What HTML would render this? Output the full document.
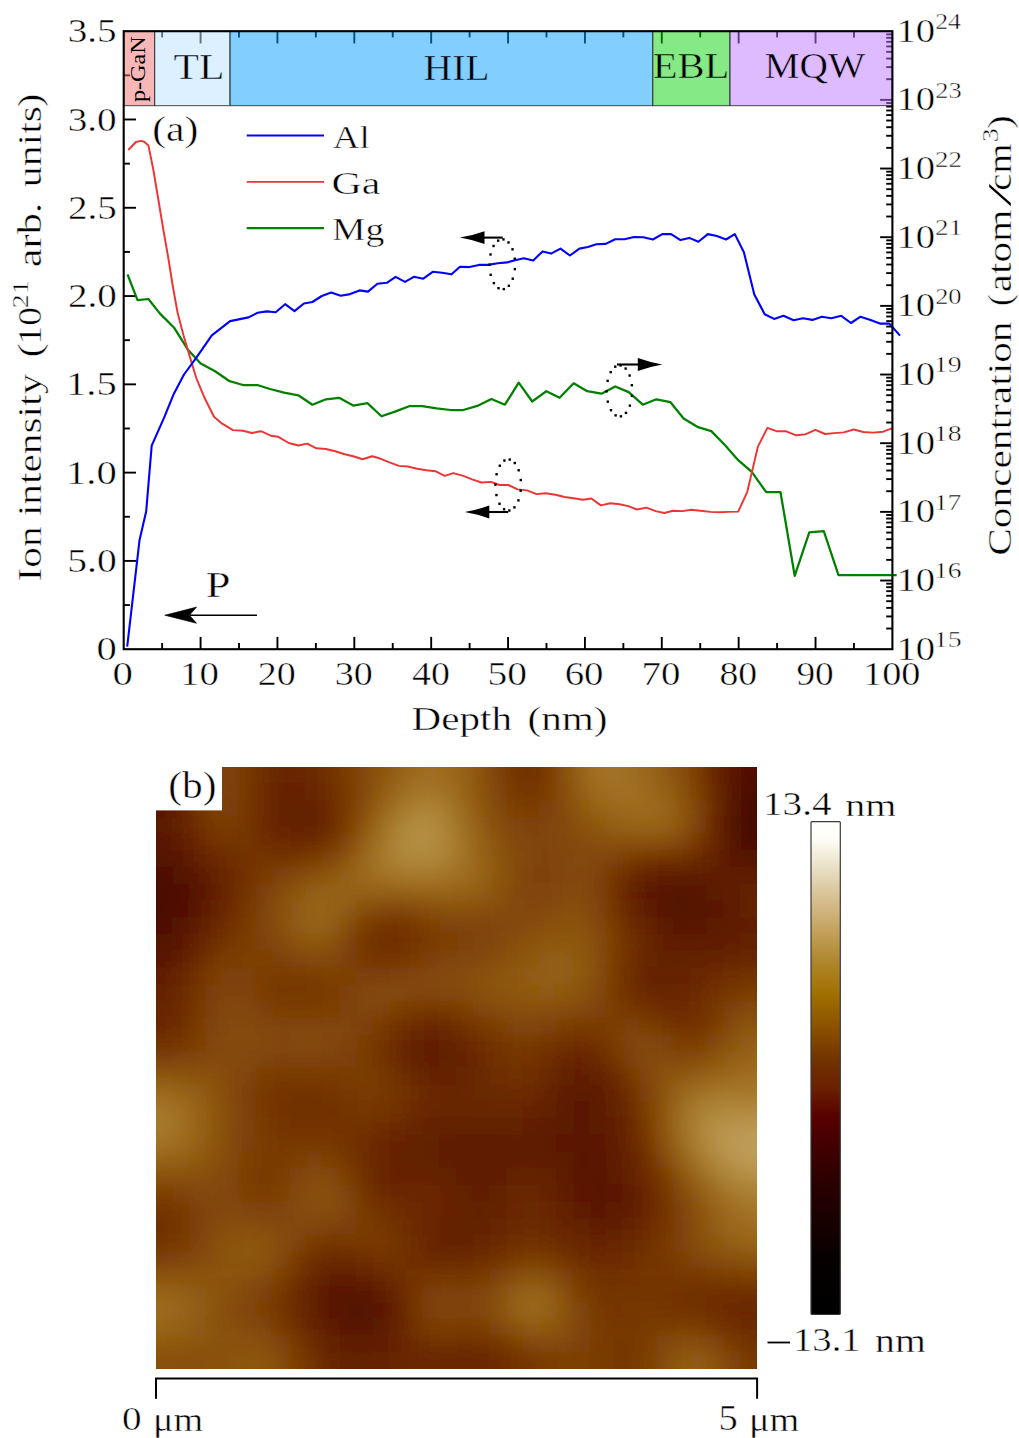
<!DOCTYPE html><html><head><meta charset="utf-8"><style>html,body{margin:0;padding:0;background:#fff;overflow:hidden;}svg{display:block;} text{font-family:"Liberation Serif",serif;font-kerning:none;}</style></head><body>
<svg width="1019" height="1438" viewBox="0 0 1019 1438">
<rect width="1019" height="1438" fill="#fff"/>
<g stroke="#000" stroke-width="1.9" fill="none">
<line x1="162.13" y1="649.20" x2="162.13" y2="643.00"/>
<line x1="162.13" y1="31.20" x2="162.13" y2="37.40"/>
<line x1="200.57" y1="649.20" x2="200.57" y2="636.90"/>
<line x1="200.57" y1="31.20" x2="200.57" y2="43.50"/>
<line x1="239.00" y1="649.20" x2="239.00" y2="643.00"/>
<line x1="239.00" y1="31.20" x2="239.00" y2="37.40"/>
<line x1="277.44" y1="649.20" x2="277.44" y2="636.90"/>
<line x1="277.44" y1="31.20" x2="277.44" y2="43.50"/>
<line x1="315.88" y1="649.20" x2="315.88" y2="643.00"/>
<line x1="315.88" y1="31.20" x2="315.88" y2="37.40"/>
<line x1="354.31" y1="649.20" x2="354.31" y2="636.90"/>
<line x1="354.31" y1="31.20" x2="354.31" y2="43.50"/>
<line x1="392.74" y1="649.20" x2="392.74" y2="643.00"/>
<line x1="392.74" y1="31.20" x2="392.74" y2="37.40"/>
<line x1="431.18" y1="649.20" x2="431.18" y2="636.90"/>
<line x1="431.18" y1="31.20" x2="431.18" y2="43.50"/>
<line x1="469.62" y1="649.20" x2="469.62" y2="643.00"/>
<line x1="469.62" y1="31.20" x2="469.62" y2="37.40"/>
<line x1="508.05" y1="649.20" x2="508.05" y2="636.90"/>
<line x1="508.05" y1="31.20" x2="508.05" y2="43.50"/>
<line x1="546.48" y1="649.20" x2="546.48" y2="643.00"/>
<line x1="546.48" y1="31.20" x2="546.48" y2="37.40"/>
<line x1="584.92" y1="649.20" x2="584.92" y2="636.90"/>
<line x1="584.92" y1="31.20" x2="584.92" y2="43.50"/>
<line x1="623.35" y1="649.20" x2="623.35" y2="643.00"/>
<line x1="623.35" y1="31.20" x2="623.35" y2="37.40"/>
<line x1="661.79" y1="649.20" x2="661.79" y2="636.90"/>
<line x1="661.79" y1="31.20" x2="661.79" y2="43.50"/>
<line x1="700.23" y1="649.20" x2="700.23" y2="643.00"/>
<line x1="700.23" y1="31.20" x2="700.23" y2="37.40"/>
<line x1="738.66" y1="649.20" x2="738.66" y2="636.90"/>
<line x1="738.66" y1="31.20" x2="738.66" y2="43.50"/>
<line x1="777.10" y1="649.20" x2="777.10" y2="643.00"/>
<line x1="777.10" y1="31.20" x2="777.10" y2="37.40"/>
<line x1="815.53" y1="649.20" x2="815.53" y2="636.90"/>
<line x1="815.53" y1="31.20" x2="815.53" y2="43.50"/>
<line x1="853.97" y1="649.20" x2="853.97" y2="643.00"/>
<line x1="853.97" y1="31.20" x2="853.97" y2="37.40"/>
<line x1="123.70" y1="605.06" x2="129.90" y2="605.06"/>
<line x1="123.70" y1="560.91" x2="136.00" y2="560.91"/>
<line x1="123.70" y1="516.77" x2="129.90" y2="516.77"/>
<line x1="123.70" y1="472.63" x2="136.00" y2="472.63"/>
<line x1="123.70" y1="428.49" x2="129.90" y2="428.49"/>
<line x1="123.70" y1="384.34" x2="136.00" y2="384.34"/>
<line x1="123.70" y1="340.20" x2="129.90" y2="340.20"/>
<line x1="123.70" y1="296.06" x2="136.00" y2="296.06"/>
<line x1="123.70" y1="251.91" x2="129.90" y2="251.91"/>
<line x1="123.70" y1="207.77" x2="136.00" y2="207.77"/>
<line x1="123.70" y1="163.63" x2="129.90" y2="163.63"/>
<line x1="123.70" y1="119.49" x2="136.00" y2="119.49"/>
<line x1="123.70" y1="75.34" x2="129.90" y2="75.34"/>
<line x1="892.40" y1="628.53" x2="886.20" y2="628.53"/>
<line x1="892.40" y1="616.44" x2="886.20" y2="616.44"/>
<line x1="892.40" y1="607.86" x2="886.20" y2="607.86"/>
<line x1="892.40" y1="601.20" x2="886.20" y2="601.20"/>
<line x1="892.40" y1="595.77" x2="886.20" y2="595.77"/>
<line x1="892.40" y1="591.17" x2="886.20" y2="591.17"/>
<line x1="892.40" y1="587.19" x2="886.20" y2="587.19"/>
<line x1="892.40" y1="583.68" x2="886.20" y2="583.68"/>
<line x1="892.40" y1="580.53" x2="880.10" y2="580.53"/>
<line x1="892.40" y1="559.86" x2="886.20" y2="559.86"/>
<line x1="892.40" y1="547.77" x2="886.20" y2="547.77"/>
<line x1="892.40" y1="539.19" x2="886.20" y2="539.19"/>
<line x1="892.40" y1="532.54" x2="886.20" y2="532.54"/>
<line x1="892.40" y1="527.10" x2="886.20" y2="527.10"/>
<line x1="892.40" y1="522.50" x2="886.20" y2="522.50"/>
<line x1="892.40" y1="518.52" x2="886.20" y2="518.52"/>
<line x1="892.40" y1="515.01" x2="886.20" y2="515.01"/>
<line x1="892.40" y1="511.87" x2="880.10" y2="511.87"/>
<line x1="892.40" y1="491.20" x2="886.20" y2="491.20"/>
<line x1="892.40" y1="479.10" x2="886.20" y2="479.10"/>
<line x1="892.40" y1="470.53" x2="886.20" y2="470.53"/>
<line x1="892.40" y1="463.87" x2="886.20" y2="463.87"/>
<line x1="892.40" y1="458.43" x2="886.20" y2="458.43"/>
<line x1="892.40" y1="453.84" x2="886.20" y2="453.84"/>
<line x1="892.40" y1="449.85" x2="886.20" y2="449.85"/>
<line x1="892.40" y1="446.34" x2="886.20" y2="446.34"/>
<line x1="892.40" y1="443.20" x2="880.10" y2="443.20"/>
<line x1="892.40" y1="422.53" x2="886.20" y2="422.53"/>
<line x1="892.40" y1="410.44" x2="886.20" y2="410.44"/>
<line x1="892.40" y1="401.86" x2="886.20" y2="401.86"/>
<line x1="892.40" y1="395.20" x2="886.20" y2="395.20"/>
<line x1="892.40" y1="389.77" x2="886.20" y2="389.77"/>
<line x1="892.40" y1="385.17" x2="886.20" y2="385.17"/>
<line x1="892.40" y1="381.19" x2="886.20" y2="381.19"/>
<line x1="892.40" y1="377.68" x2="886.20" y2="377.68"/>
<line x1="892.40" y1="374.53" x2="880.10" y2="374.53"/>
<line x1="892.40" y1="353.86" x2="886.20" y2="353.86"/>
<line x1="892.40" y1="341.77" x2="886.20" y2="341.77"/>
<line x1="892.40" y1="333.19" x2="886.20" y2="333.19"/>
<line x1="892.40" y1="326.54" x2="886.20" y2="326.54"/>
<line x1="892.40" y1="321.10" x2="886.20" y2="321.10"/>
<line x1="892.40" y1="316.50" x2="886.20" y2="316.50"/>
<line x1="892.40" y1="312.52" x2="886.20" y2="312.52"/>
<line x1="892.40" y1="309.01" x2="886.20" y2="309.01"/>
<line x1="892.40" y1="305.87" x2="880.10" y2="305.87"/>
<line x1="892.40" y1="285.20" x2="886.20" y2="285.20"/>
<line x1="892.40" y1="273.10" x2="886.20" y2="273.10"/>
<line x1="892.40" y1="264.53" x2="886.20" y2="264.53"/>
<line x1="892.40" y1="257.87" x2="886.20" y2="257.87"/>
<line x1="892.40" y1="252.43" x2="886.20" y2="252.43"/>
<line x1="892.40" y1="247.84" x2="886.20" y2="247.84"/>
<line x1="892.40" y1="243.85" x2="886.20" y2="243.85"/>
<line x1="892.40" y1="240.34" x2="886.20" y2="240.34"/>
<line x1="892.40" y1="237.20" x2="880.10" y2="237.20"/>
<line x1="892.40" y1="216.53" x2="886.20" y2="216.53"/>
<line x1="892.40" y1="204.44" x2="886.20" y2="204.44"/>
<line x1="892.40" y1="195.86" x2="886.20" y2="195.86"/>
<line x1="892.40" y1="189.20" x2="886.20" y2="189.20"/>
<line x1="892.40" y1="183.77" x2="886.20" y2="183.77"/>
<line x1="892.40" y1="179.17" x2="886.20" y2="179.17"/>
<line x1="892.40" y1="175.19" x2="886.20" y2="175.19"/>
<line x1="892.40" y1="171.68" x2="886.20" y2="171.68"/>
<line x1="892.40" y1="168.53" x2="880.10" y2="168.53"/>
<line x1="892.40" y1="147.86" x2="886.20" y2="147.86"/>
<line x1="892.40" y1="135.77" x2="886.20" y2="135.77"/>
<line x1="892.40" y1="127.19" x2="886.20" y2="127.19"/>
<line x1="892.40" y1="120.54" x2="886.20" y2="120.54"/>
<line x1="892.40" y1="115.10" x2="886.20" y2="115.10"/>
<line x1="892.40" y1="110.50" x2="886.20" y2="110.50"/>
<line x1="892.40" y1="106.52" x2="886.20" y2="106.52"/>
<line x1="892.40" y1="103.01" x2="886.20" y2="103.01"/>
<line x1="892.40" y1="99.87" x2="880.10" y2="99.87"/>
<line x1="892.40" y1="79.20" x2="886.20" y2="79.20"/>
<line x1="892.40" y1="67.10" x2="886.20" y2="67.10"/>
<line x1="892.40" y1="58.53" x2="886.20" y2="58.53"/>
<line x1="892.40" y1="51.87" x2="886.20" y2="51.87"/>
<line x1="892.40" y1="46.43" x2="886.20" y2="46.43"/>
<line x1="892.40" y1="41.84" x2="886.20" y2="41.84"/>
<line x1="892.40" y1="37.85" x2="886.20" y2="37.85"/>
<line x1="892.40" y1="34.34" x2="886.20" y2="34.34"/>
</g>
<rect x="123.70" y="31.20" width="30.90" height="74.40" fill="rgb(241,111,111)" fill-opacity="0.5" stroke="#333" stroke-opacity="0.75" stroke-width="1.2"/>
<rect x="154.60" y="31.20" width="75.40" height="74.40" fill="rgb(185,225,255)" fill-opacity="0.5" stroke="#333" stroke-opacity="0.75" stroke-width="1.2"/>
<rect x="230.00" y="31.20" width="422.70" height="74.40" fill="rgb(5,159,255)" fill-opacity="0.5" stroke="#333" stroke-opacity="0.75" stroke-width="1.2"/>
<rect x="652.70" y="31.20" width="77.20" height="74.40" fill="rgb(11,213,11)" fill-opacity="0.5" stroke="#333" stroke-opacity="0.75" stroke-width="1.2"/>
<rect x="729.90" y="31.20" width="162.50" height="74.40" fill="rgb(189,117,255)" fill-opacity="0.5" stroke="#333" stroke-opacity="0.75" stroke-width="1.2"/>
<polyline fill="none" stroke="#008000" stroke-width="2.25" stroke-linejoin="round" points="127.5,274.3 137.5,300.2 148.4,299.0 160.0,313.6 174.2,327.8 188.4,350.3 200.7,363.4 215.1,371.2 229.6,381.2 243.0,385.0 257.4,385.0 270.0,389.0 284.1,392.7 298.3,395.3 312.4,404.7 325.9,399.3 339.1,397.8 353.2,405.6 367.4,403.1 381.5,416.3 395.0,411.6 409.1,406.2 422.3,406.2 436.5,408.4 450.6,410.0 463.2,410.0 477.3,405.9 491.4,399.0 504.9,404.7 518.7,382.7 532.2,401.5 546.4,391.2 559.6,397.8 573.7,383.3 587.2,391.2 601.4,393.7 615.2,386.5 628.7,392.1 642.8,404.7 656.3,399.3 670.5,402.2 683.6,418.5 698.1,427.2 711.3,431.1 725.1,445.3 738.2,460.2 751.8,471.9 766.2,492.2 780.5,492.2 794.7,575.8 809.3,532.4 823.8,531.1 838.5,575.1 896.7,575.1"/>
<polyline fill="none" stroke="#ee3535" stroke-width="1.95" stroke-linejoin="round" points="128.3,150.0 135.9,142.0 140.9,140.9 144.2,141.7 148.4,145.4 153.4,170.0 158.4,200.0 163.4,230.0 168.4,258.5 172.6,285.0 177.6,312.8 183.4,335.0 189.5,355.6 196.2,377.8 204.0,396.7 214.0,416.8 221.8,423.4 232.9,430.1 243.0,430.8 251.8,433.0 260.8,431.2 270.8,435.7 277.9,436.7 288.8,443.0 298.3,445.5 307.1,443.6 316.5,448.3 325.9,449.0 335.3,451.2 344.7,454.3 353.2,456.2 362.6,459.3 372.1,456.2 379.4,458.3 389.5,462.4 398.9,465.9 407.7,466.5 417.1,468.7 426.5,470.3 435.3,471.2 444.7,475.9 453.2,473.1 462.6,475.6 472.1,479.4 481.5,482.5 490.9,481.9 499.4,485.0 508.2,485.0 517.6,489.4 527.0,490.4 536.5,494.1 545.9,493.2 555.3,494.7 564.7,497.0 573.5,498.2 582.9,499.8 591.4,498.5 600.8,505.4 610.3,503.2 619.7,504.2 628.2,506.1 637.0,509.5 646.4,507.6 655.8,511.1 664.3,513.0 673.1,510.8 682.5,511.1 691.3,509.8 700.3,510.7 710.5,511.9 719.5,512.3 728.5,511.9 738.2,511.6 747.3,491.8 757.9,446.6 767.4,427.9 777.1,431.3 786.1,431.3 796.3,435.3 805.3,434.4 815.4,429.9 825.1,434.0 834.2,433.1 843.7,432.4 853.8,429.5 863.3,432.0 873.0,432.6 883.2,431.7 893.3,427.9"/>
<polyline fill="none" stroke="#0000ff" stroke-width="2.10" stroke-linejoin="round" points="127.2,646.6 139.5,540.3 146.2,511.3 151.7,445.7 164.0,417.9 174.0,393.4 184.0,374.5 196.2,357.8 211.8,335.3 230.1,321.1 248.5,317.4 257.6,312.8 266.8,311.4 275.7,312.3 285.1,304.2 294.5,311.1 303.9,303.5 312.4,302.0 321.8,296.0 331.2,292.5 340.7,295.7 350.1,294.1 359.5,290.4 368.0,291.6 377.4,283.8 386.8,282.8 395.6,276.8 405.0,281.9 413.8,276.8 423.3,278.7 432.7,271.8 442.1,272.8 451.5,274.3 460.0,266.8 469.4,267.1 478.9,264.9 488.3,264.9 497.7,263.3 507.1,262.4 515.0,260.2 523.8,258.3 533.2,260.5 542.6,251.4 551.1,253.6 560.5,248.6 569.9,255.5 579.4,248.6 587.9,247.0 596.3,244.2 605.8,243.9 615.2,239.2 624.6,239.2 634.0,237.0 643.4,237.3 652.9,239.5 662.3,234.1 671.1,234.1 680.5,240.1 689.3,237.9 698.4,241.7 707.8,234.1 716.9,236.0 726.0,239.5 734.8,234.1 743.9,252.3 754.3,294.4 764.7,314.2 774.1,318.9 783.5,315.8 793.6,320.2 803.0,318.3 812.4,319.9 821.8,316.7 831.3,318.3 841.3,315.8 851.0,323.0 860.5,316.7 870.5,319.9 879.9,323.6 889.4,323.6 900.0,335.6"/>
<line x1="246.7" y1="135.6" x2="324.0" y2="135.6" stroke="#0000ff" stroke-width="2.0"/>
<line x1="246.7" y1="181.9" x2="324.0" y2="181.9" stroke="#ee3535" stroke-width="1.9"/>
<line x1="246.7" y1="228.2" x2="324.0" y2="228.2" stroke="#008000" stroke-width="2.3"/>
<rect x="123.70" y="31.20" width="768.70" height="618.00" fill="none" stroke="#000" stroke-width="2.1"/>
<rect x="496.96" y="239.44" width="2.4" height="2.4" fill="#000"/><rect x="502.25" y="238.20" width="2.4" height="2.4" fill="#000"/><rect x="507.33" y="241.26" width="2.4" height="2.4" fill="#000"/><rect x="511.34" y="248.10" width="2.4" height="2.4" fill="#000"/><rect x="513.58" y="257.53" width="2.4" height="2.4" fill="#000"/><rect x="513.66" y="267.93" width="2.4" height="2.4" fill="#000"/><rect x="511.57" y="277.49" width="2.4" height="2.4" fill="#000"/><rect x="507.67" y="284.56" width="2.4" height="2.4" fill="#000"/><rect x="502.63" y="287.92" width="2.4" height="2.4" fill="#000"/><rect x="497.33" y="286.99" width="2.4" height="2.4" fill="#000"/><rect x="492.68" y="281.93" width="2.4" height="2.4" fill="#000"/><rect x="489.49" y="273.61" width="2.4" height="2.4" fill="#000"/><rect x="488.30" y="263.48" width="2.4" height="2.4" fill="#000"/><rect x="489.33" y="253.28" width="2.4" height="2.4" fill="#000"/><rect x="492.39" y="244.78" width="2.4" height="2.4" fill="#000"/>
<rect x="614.06" y="365.47" width="2.4" height="2.4" fill="#000"/><rect x="619.35" y="364.20" width="2.4" height="2.4" fill="#000"/><rect x="624.43" y="367.34" width="2.4" height="2.4" fill="#000"/><rect x="628.44" y="374.34" width="2.4" height="2.4" fill="#000"/><rect x="630.68" y="384.00" width="2.4" height="2.4" fill="#000"/><rect x="630.76" y="394.65" width="2.4" height="2.4" fill="#000"/><rect x="628.67" y="404.43" width="2.4" height="2.4" fill="#000"/><rect x="624.77" y="411.68" width="2.4" height="2.4" fill="#000"/><rect x="619.73" y="415.12" width="2.4" height="2.4" fill="#000"/><rect x="614.43" y="414.16" width="2.4" height="2.4" fill="#000"/><rect x="609.78" y="408.98" width="2.4" height="2.4" fill="#000"/><rect x="606.59" y="400.46" width="2.4" height="2.4" fill="#000"/><rect x="605.40" y="390.09" width="2.4" height="2.4" fill="#000"/><rect x="606.43" y="379.64" width="2.4" height="2.4" fill="#000"/><rect x="609.49" y="370.94" width="2.4" height="2.4" fill="#000"/>
<rect x="502.86" y="508.03" width="2.4" height="2.4" fill="#000"/><rect x="498.29" y="502.56" width="2.4" height="2.4" fill="#000"/><rect x="495.23" y="493.86" width="2.4" height="2.4" fill="#000"/><rect x="494.20" y="483.41" width="2.4" height="2.4" fill="#000"/><rect x="495.39" y="473.04" width="2.4" height="2.4" fill="#000"/><rect x="498.58" y="464.52" width="2.4" height="2.4" fill="#000"/><rect x="503.23" y="459.34" width="2.4" height="2.4" fill="#000"/><rect x="508.53" y="458.38" width="2.4" height="2.4" fill="#000"/><rect x="513.57" y="461.82" width="2.4" height="2.4" fill="#000"/><rect x="517.47" y="469.07" width="2.4" height="2.4" fill="#000"/><rect x="519.56" y="478.85" width="2.4" height="2.4" fill="#000"/><rect x="519.48" y="489.50" width="2.4" height="2.4" fill="#000"/><rect x="517.24" y="499.16" width="2.4" height="2.4" fill="#000"/><rect x="513.23" y="506.16" width="2.4" height="2.4" fill="#000"/><rect x="508.15" y="509.30" width="2.4" height="2.4" fill="#000"/>
<line x1="502.7" y1="237.6" x2="482.1" y2="237.6" stroke="#000" stroke-width="2.1"/><path d="M460.0,237.6 Q473.5,235.2 484.5,231.2 L484.5,244.0 Q473.5,240.0 460.0,237.6Z" fill="#000"/>
<line x1="617.0" y1="364.5" x2="640.2" y2="364.5" stroke="#000" stroke-width="2.1"/><path d="M662.3,364.5 Q648.8,362.1 637.8,358.1 L637.8,370.9 Q648.8,366.9 662.3,364.5Z" fill="#000"/>
<line x1="508.2" y1="512.0" x2="486.9" y2="512.0" stroke="#000" stroke-width="2.1"/><path d="M464.8,512.0 Q478.3,509.6 489.3,505.6 L489.3,518.4 Q478.3,514.4 464.8,512.0Z" fill="#000"/>
<line x1="257" y1="615.2" x2="190" y2="615.2" stroke="#000" stroke-width="1.6"/>
<path d="M164.7,615.2 L196.6,607.1 L189.5,615.2 L196.6,623.3Z" fill="#000" stroke="#000" stroke-width="0.6" stroke-linejoin="round"/>
<text transform="matrix(0.39206 0 0 0.33862 67.724 42.321)" font-size="100" fill="#000" stroke="#fff" stroke-width="1.372">3.5</text><text transform="matrix(0.39173 0 0 0.33716 67.726 130.61)" font-size="100" fill="#000" stroke="#fff" stroke-width="1.376">3.0</text><text transform="matrix(0.39075 0 0 0.33862 67.883 218.89)" font-size="100" fill="#000" stroke="#fff" stroke-width="1.375">2.5</text><text transform="matrix(0.39042 0 0 0.33716 67.884 307.18)" font-size="100" fill="#000" stroke="#fff" stroke-width="1.378">2.0</text><text transform="matrix(0.40604 0 0 0.3396 66.031 395.46)" font-size="100" fill="#000" stroke="#fff" stroke-width="1.346">1.5</text><text transform="matrix(0.40569 0 0 0.33716 66.034 483.75)" font-size="100" fill="#000" stroke="#fff" stroke-width="1.352">1.0</text><text transform="matrix(0.39521 0 0 0.33716 67.304 572.04)" font-size="100" fill="#000" stroke="#fff" stroke-width="1.370">5.0</text><text transform="matrix(0.40582 0 0 0.33936 96.454 660.47)" font-size="100" fill="#000" stroke="#fff" stroke-width="1.347">0</text><text transform="matrix(0.40818 0 0 0.34084 112.55 684.57)" font-size="100" fill="#000" stroke="#fff" stroke-width="1.341">0</text><text transform="matrix(0.38901 0 0 0.34084 179.98 684.57)" font-size="100" fill="#000" stroke="#fff" stroke-width="1.373">10</text><text transform="matrix(0.38019 0 0 0.34084 257.73 684.57)" font-size="100" fill="#000" stroke="#fff" stroke-width="1.389">20</text><text transform="matrix(0.38072 0 0 0.34084 334.79 684.57)" font-size="100" fill="#000" stroke="#fff" stroke-width="1.388">30</text><text transform="matrix(0.37883 0 0 0.34084 411.96 684.57)" font-size="100" fill="#000" stroke="#fff" stroke-width="1.391">40</text><text transform="matrix(0.395 0 0 0.34084 487.4 684.57)" font-size="100" fill="#000" stroke="#fff" stroke-width="1.363">50</text><text transform="matrix(0.38849 0 0 0.34084 564.63 684.57)" font-size="100" fill="#000" stroke="#fff" stroke-width="1.374">60</text><text transform="matrix(0.38839 0 0 0.34084 641.53 684.57)" font-size="100" fill="#000" stroke="#fff" stroke-width="1.374">70</text><text transform="matrix(0.37669 0 0 0.34084 719.53 684.57)" font-size="100" fill="#000" stroke="#fff" stroke-width="1.395">80</text><text transform="matrix(0.37324 0 0 0.34084 796.4 684.57)" font-size="100" fill="#000" stroke="#fff" stroke-width="1.402">90</text><text transform="matrix(0.38282 0 0 0.34084 863.04 684.57)" font-size="100" fill="#000" stroke="#fff" stroke-width="1.384">100</text><text transform="matrix(0.38672 0 0 0.34084 896.4 659.67)" font-size="100" fill="#000" stroke="#fff" stroke-width="1.377">10</text><text transform="matrix(0.27834 0 0 0.23286 933.85 646.97)" font-size="100" fill="#000" stroke="#fff" stroke-width="1.964">15</text><text transform="matrix(0.38672 0 0 0.34084 896.4 591)" font-size="100" fill="#000" stroke="#fff" stroke-width="1.377">10</text><text transform="matrix(0.27541 0 0 0.23219 933.88 578.31)" font-size="100" fill="#000" stroke="#fff" stroke-width="1.977">16</text><text transform="matrix(0.38672 0 0 0.34084 896.4 522.33)" font-size="100" fill="#000" stroke="#fff" stroke-width="1.377">10</text><text transform="matrix(0.2751 0 0 0.23631 933.88 509.87)" font-size="100" fill="#000" stroke="#fff" stroke-width="1.961">17</text><text transform="matrix(0.38672 0 0 0.34084 896.4 453.67)" font-size="100" fill="#000" stroke="#fff" stroke-width="1.377">10</text><text transform="matrix(0.27802 0 0 0.23118 933.86 440.97)" font-size="100" fill="#000" stroke="#fff" stroke-width="1.972">18</text><text transform="matrix(0.38672 0 0 0.34084 896.4 385)" font-size="100" fill="#000" stroke="#fff" stroke-width="1.377">10</text><text transform="matrix(0.27896 0 0 0.23219 933.85 372.31)" font-size="100" fill="#000" stroke="#fff" stroke-width="1.965">19</text><text transform="matrix(0.38672 0 0 0.34084 896.4 316.33)" font-size="100" fill="#000" stroke="#fff" stroke-width="1.377">10</text><text transform="matrix(0.26471 0 0 0.23118 935.14 303.64)" font-size="100" fill="#000" stroke="#fff" stroke-width="2.021">20</text><text transform="matrix(0.38672 0 0 0.34084 896.4 247.67)" font-size="100" fill="#000" stroke="#fff" stroke-width="1.377">10</text><text transform="matrix(0.27121 0 0 0.23561 935.11 235.2)" font-size="100" fill="#000" stroke="#fff" stroke-width="1.978">21</text><text transform="matrix(0.38672 0 0 0.34084 896.4 179)" font-size="100" fill="#000" stroke="#fff" stroke-width="1.377">10</text><text transform="matrix(0.26974 0 0 0.23561 935.11 166.53)" font-size="100" fill="#000" stroke="#fff" stroke-width="1.983">22</text><text transform="matrix(0.38672 0 0 0.34084 896.4 110.33)" font-size="100" fill="#000" stroke="#fff" stroke-width="1.377">10</text><text transform="matrix(0.265 0 0 0.23219 935.14 97.64)" font-size="100" fill="#000" stroke="#fff" stroke-width="2.016">23</text><text transform="matrix(0.38672 0 0 0.34084 896.4 41.667)" font-size="100" fill="#000" stroke="#fff" stroke-width="1.377">10</text><text transform="matrix(0.25839 0 0 0.23561 935.16 29.2)" font-size="100" fill="#000" stroke="#fff" stroke-width="2.026">24</text><text transform="matrix(0.41093 0 0 0.34 411.52 729.6)" font-size="100" fill="#000" stroke="#fff" stroke-width="1.338">Depth</text><text transform="matrix(0.41219 0 0 0.34 527.49 729.6)" font-size="100" fill="#000" stroke="#fff" stroke-width="1.336">(nm)</text><text transform="matrix(0 -0.41305 0.345 0 40.6 581.49)" font-size="100" fill="#000" stroke="#fff" stroke-width="1.325">Ion intensity</text><text transform="matrix(0 -0.4244 0.345 0 40.6 357.57)" font-size="100" fill="#000" stroke="#fff" stroke-width="1.307">(</text><text transform="matrix(0 -0.37528 0.345 0 40.6 344.4)" font-size="100" fill="#000" stroke="#fff" stroke-width="1.390">10</text><text transform="matrix(0 -0.42293 0.345 0 40.6 267.19)" font-size="100" fill="#000" stroke="#fff" stroke-width="1.309">arb.</text><text transform="matrix(0 -0.4173 0.345 0 40.6 187.15)" font-size="100" fill="#000" stroke="#fff" stroke-width="1.318">units</text><text transform="matrix(0 -0.40103 0.345 0 40.6 106.89)" font-size="100" fill="#000" stroke="#fff" stroke-width="1.344">)</text><text transform="matrix(0 -0.2779 0.23863 0 28.2 308.22)" font-size="100" fill="#000" stroke="#fff" stroke-width="1.942">21</text><text transform="matrix(0 -0.41381 0.345 0 1011 555.8)" font-size="100" fill="#000" stroke="#fff" stroke-width="1.323">Concentration</text><text transform="matrix(0 -0.35431 0.345 0 1011 305.96)" font-size="100" fill="#000" stroke="#fff" stroke-width="1.430">(</text><text transform="matrix(0 -0.41309 0.345 0 1011 292.25)" font-size="100" fill="#000" stroke="#fff" stroke-width="1.324">atom</text><text transform="matrix(0 -0.84224 0.345 0 1011 206.7)" font-size="100" fill="#000" stroke="#fff" stroke-width="0.928">/</text><text transform="matrix(0 -0.387 0.345 0 1011 190.67)" font-size="100" fill="#000" stroke="#fff" stroke-width="1.368">cm</text><text transform="matrix(0 -0.40882 0.345 0 1011 128.82)" font-size="100" fill="#000" stroke="#fff" stroke-width="1.331">)</text><text transform="matrix(0 -0.28081 0.23814 0 998.17 142.34)" font-size="100" fill="#000" stroke="#fff" stroke-width="1.934">3</text><text transform="matrix(0 -0.2416 0.21829 0 144.65 102.09)" font-size="100" fill="#000">p-GaN</text><text transform="matrix(0.41625 0 0 0.34821 173.55 78.9)" font-size="100" fill="#000" stroke="rgb(220,240,255)" stroke-width="1.313">TL</text><text transform="matrix(0.39628 0 0 0.36042 423.56 80.1)" font-size="100" fill="#000" stroke="rgb(130,207,255)" stroke-width="1.323">HIL</text><text transform="matrix(0.4056 0 0 0.3497 652.73 78.198)" font-size="100" fill="#000" stroke="rgb(133,234,133)" stroke-width="1.328">EBL</text><text transform="matrix(0.39415 0 0 0.36398 764.46 77.5)" font-size="100" fill="#000" stroke="rgb(222,186,255)" stroke-width="1.320">MQW</text><text transform="matrix(0.41684 0 0 0.36063 152.17 140.62)" font-size="100" fill="#000" stroke="#fff" stroke-width="1.290">(a)</text><text transform="matrix(0.37002 0 0 0.31707 332.84 147.8)" font-size="100" fill="#000" stroke="#fff" stroke-width="1.460">Al</text><text transform="matrix(0.42022 0 0 0.32298 331.48 193.88)" font-size="100" fill="#000" stroke="#fff" stroke-width="1.357">Ga</text><text transform="matrix(0.3765 0 0 0.32276 332.12 239.53)" font-size="100" fill="#000" stroke="#fff" stroke-width="1.434">Mg</text><text transform="matrix(0.44531 0 0 0.35279 205.72 597.1)" font-size="100" fill="#000" stroke="#fff" stroke-width="1.261">P</text>
<defs><clipPath id="afmclip"><rect x="156.0" y="767.0" width="601.0" height="602.0"/></clipPath><filter id="afmblur" x="-10%" y="-10%" width="120%" height="120%"><feGaussianBlur stdDeviation="9.0"/></filter></defs>
<g clip-path="url(#afmclip)"><g filter="url(#afmblur)">
<rect x="105.6" y="716.5" width="17.3" height="17.3" fill="rgb(88,23,0)"/>
<rect x="122.3" y="716.5" width="17.3" height="17.3" fill="rgb(86,21,0)"/>
<rect x="139.0" y="716.5" width="17.3" height="17.3" fill="rgb(84,20,0)"/>
<rect x="155.7" y="716.5" width="17.3" height="17.3" fill="rgb(86,22,0)"/>
<rect x="172.4" y="716.5" width="17.3" height="17.3" fill="rgb(98,32,1)"/>
<rect x="189.1" y="716.5" width="17.3" height="17.3" fill="rgb(114,49,3)"/>
<rect x="205.8" y="716.5" width="17.3" height="17.3" fill="rgb(126,64,7)"/>
<rect x="222.5" y="716.5" width="17.3" height="17.3" fill="rgb(127,66,7)"/>
<rect x="239.2" y="716.5" width="17.3" height="17.3" fill="rgb(120,57,5)"/>
<rect x="255.9" y="716.5" width="17.3" height="17.3" fill="rgb(110,45,2)"/>
<rect x="272.6" y="716.5" width="17.3" height="17.3" fill="rgb(104,38,1)"/>
<rect x="289.3" y="716.5" width="17.3" height="17.3" fill="rgb(104,38,1)"/>
<rect x="305.9" y="716.5" width="17.3" height="17.3" fill="rgb(108,43,2)"/>
<rect x="322.6" y="716.5" width="17.3" height="17.3" fill="rgb(115,51,3)"/>
<rect x="339.3" y="716.5" width="17.3" height="17.3" fill="rgb(123,60,5)"/>
<rect x="356.0" y="716.5" width="17.3" height="17.3" fill="rgb(131,72,9)"/>
<rect x="372.7" y="716.5" width="17.3" height="17.3" fill="rgb(140,84,14)"/>
<rect x="389.4" y="716.5" width="17.3" height="17.3" fill="rgb(149,97,22)"/>
<rect x="406.1" y="716.5" width="17.3" height="17.3" fill="rgb(156,107,30)"/>
<rect x="422.8" y="716.5" width="17.3" height="17.3" fill="rgb(159,111,34)"/>
<rect x="439.5" y="716.5" width="17.3" height="17.3" fill="rgb(157,108,30)"/>
<rect x="456.2" y="716.5" width="17.3" height="17.3" fill="rgb(149,97,22)"/>
<rect x="472.9" y="716.5" width="17.3" height="17.3" fill="rgb(139,83,14)"/>
<rect x="489.6" y="716.5" width="17.3" height="17.3" fill="rgb(127,66,7)"/>
<rect x="506.3" y="716.5" width="17.3" height="17.3" fill="rgb(117,54,4)"/>
<rect x="523.0" y="716.5" width="17.3" height="17.3" fill="rgb(114,50,3)"/>
<rect x="539.7" y="716.5" width="17.3" height="17.3" fill="rgb(122,59,5)"/>
<rect x="556.4" y="716.5" width="17.3" height="17.3" fill="rgb(136,79,12)"/>
<rect x="573.1" y="716.5" width="17.3" height="17.3" fill="rgb(151,100,24)"/>
<rect x="589.8" y="716.5" width="17.3" height="17.3" fill="rgb(160,113,35)"/>
<rect x="606.5" y="716.5" width="17.3" height="17.3" fill="rgb(162,115,37)"/>
<rect x="623.1" y="716.5" width="17.3" height="17.3" fill="rgb(158,110,33)"/>
<rect x="639.8" y="716.5" width="17.3" height="17.3" fill="rgb(153,102,26)"/>
<rect x="656.5" y="716.5" width="17.3" height="17.3" fill="rgb(146,92,19)"/>
<rect x="673.2" y="716.5" width="17.3" height="17.3" fill="rgb(136,79,12)"/>
<rect x="689.9" y="716.5" width="17.3" height="17.3" fill="rgb(123,61,5)"/>
<rect x="706.6" y="716.5" width="17.3" height="17.3" fill="rgb(106,40,2)"/>
<rect x="723.3" y="716.5" width="17.3" height="17.3" fill="rgb(90,25,0)"/>
<rect x="740.0" y="716.5" width="17.3" height="17.3" fill="rgb(80,17,0)"/>
<rect x="756.7" y="716.5" width="17.3" height="17.3" fill="rgb(78,16,0)"/>
<rect x="773.4" y="716.5" width="17.3" height="17.3" fill="rgb(80,17,0)"/>
<rect x="790.1" y="716.5" width="17.3" height="17.3" fill="rgb(81,18,0)"/>
<rect x="105.6" y="733.3" width="17.3" height="17.3" fill="rgb(87,22,0)"/>
<rect x="122.3" y="733.3" width="17.3" height="17.3" fill="rgb(85,21,0)"/>
<rect x="139.0" y="733.3" width="17.3" height="17.3" fill="rgb(83,19,0)"/>
<rect x="155.7" y="733.3" width="17.3" height="17.3" fill="rgb(86,21,0)"/>
<rect x="172.4" y="733.3" width="17.3" height="17.3" fill="rgb(98,31,1)"/>
<rect x="189.1" y="733.3" width="17.3" height="17.3" fill="rgb(113,49,3)"/>
<rect x="205.8" y="733.3" width="17.3" height="17.3" fill="rgb(126,64,7)"/>
<rect x="222.5" y="733.3" width="17.3" height="17.3" fill="rgb(127,67,7)"/>
<rect x="239.2" y="733.3" width="17.3" height="17.3" fill="rgb(120,57,5)"/>
<rect x="255.9" y="733.3" width="17.3" height="17.3" fill="rgb(110,45,2)"/>
<rect x="272.6" y="733.3" width="17.3" height="17.3" fill="rgb(104,38,1)"/>
<rect x="289.3" y="733.3" width="17.3" height="17.3" fill="rgb(105,39,2)"/>
<rect x="305.9" y="733.3" width="17.3" height="17.3" fill="rgb(109,44,2)"/>
<rect x="322.6" y="733.3" width="17.3" height="17.3" fill="rgb(116,51,3)"/>
<rect x="339.3" y="733.3" width="17.3" height="17.3" fill="rgb(123,61,5)"/>
<rect x="356.0" y="733.3" width="17.3" height="17.3" fill="rgb(131,71,9)"/>
<rect x="372.7" y="733.3" width="17.3" height="17.3" fill="rgb(139,83,14)"/>
<rect x="389.4" y="733.3" width="17.3" height="17.3" fill="rgb(148,96,21)"/>
<rect x="406.1" y="733.3" width="17.3" height="17.3" fill="rgb(155,106,29)"/>
<rect x="422.8" y="733.3" width="17.3" height="17.3" fill="rgb(158,110,32)"/>
<rect x="439.5" y="733.3" width="17.3" height="17.3" fill="rgb(156,107,30)"/>
<rect x="456.2" y="733.3" width="17.3" height="17.3" fill="rgb(149,97,22)"/>
<rect x="472.9" y="733.3" width="17.3" height="17.3" fill="rgb(139,82,13)"/>
<rect x="489.6" y="733.3" width="17.3" height="17.3" fill="rgb(127,66,7)"/>
<rect x="506.3" y="733.3" width="17.3" height="17.3" fill="rgb(117,53,4)"/>
<rect x="523.0" y="733.3" width="17.3" height="17.3" fill="rgb(114,49,3)"/>
<rect x="539.7" y="733.3" width="17.3" height="17.3" fill="rgb(122,59,5)"/>
<rect x="556.4" y="733.3" width="17.3" height="17.3" fill="rgb(136,79,12)"/>
<rect x="573.1" y="733.3" width="17.3" height="17.3" fill="rgb(152,101,25)"/>
<rect x="589.8" y="733.3" width="17.3" height="17.3" fill="rgb(161,114,36)"/>
<rect x="606.5" y="733.3" width="17.3" height="17.3" fill="rgb(162,116,37)"/>
<rect x="623.1" y="733.3" width="17.3" height="17.3" fill="rgb(158,110,33)"/>
<rect x="639.8" y="733.3" width="17.3" height="17.3" fill="rgb(152,102,26)"/>
<rect x="656.5" y="733.3" width="17.3" height="17.3" fill="rgb(145,91,19)"/>
<rect x="673.2" y="733.3" width="17.3" height="17.3" fill="rgb(136,78,11)"/>
<rect x="689.9" y="733.3" width="17.3" height="17.3" fill="rgb(122,60,5)"/>
<rect x="706.6" y="733.3" width="17.3" height="17.3" fill="rgb(106,40,2)"/>
<rect x="723.3" y="733.3" width="17.3" height="17.3" fill="rgb(91,25,0)"/>
<rect x="740.0" y="733.3" width="17.3" height="17.3" fill="rgb(81,18,0)"/>
<rect x="756.7" y="733.3" width="17.3" height="17.3" fill="rgb(79,16,0)"/>
<rect x="773.4" y="733.3" width="17.3" height="17.3" fill="rgb(80,17,0)"/>
<rect x="790.1" y="733.3" width="17.3" height="17.3" fill="rgb(82,18,0)"/>
<rect x="105.6" y="750.0" width="17.3" height="17.3" fill="rgb(87,22,0)"/>
<rect x="122.3" y="750.0" width="17.3" height="17.3" fill="rgb(85,21,0)"/>
<rect x="139.0" y="750.0" width="17.3" height="17.3" fill="rgb(83,19,0)"/>
<rect x="155.7" y="750.0" width="17.3" height="17.3" fill="rgb(86,21,0)"/>
<rect x="172.4" y="750.0" width="17.3" height="17.3" fill="rgb(97,31,1)"/>
<rect x="189.1" y="750.0" width="17.3" height="17.3" fill="rgb(113,49,3)"/>
<rect x="205.8" y="750.0" width="17.3" height="17.3" fill="rgb(126,64,7)"/>
<rect x="222.5" y="750.0" width="17.3" height="17.3" fill="rgb(127,67,7)"/>
<rect x="239.2" y="750.0" width="17.3" height="17.3" fill="rgb(120,57,5)"/>
<rect x="255.9" y="750.0" width="17.3" height="17.3" fill="rgb(110,45,2)"/>
<rect x="272.6" y="750.0" width="17.3" height="17.3" fill="rgb(105,39,2)"/>
<rect x="289.3" y="750.0" width="17.3" height="17.3" fill="rgb(105,39,2)"/>
<rect x="305.9" y="750.0" width="17.3" height="17.3" fill="rgb(110,44,2)"/>
<rect x="322.6" y="750.0" width="17.3" height="17.3" fill="rgb(116,52,4)"/>
<rect x="339.3" y="750.0" width="17.3" height="17.3" fill="rgb(123,61,6)"/>
<rect x="356.0" y="750.0" width="17.3" height="17.3" fill="rgb(130,71,9)"/>
<rect x="372.7" y="750.0" width="17.3" height="17.3" fill="rgb(139,82,13)"/>
<rect x="389.4" y="750.0" width="17.3" height="17.3" fill="rgb(147,94,20)"/>
<rect x="406.1" y="750.0" width="17.3" height="17.3" fill="rgb(154,104,27)"/>
<rect x="422.8" y="750.0" width="17.3" height="17.3" fill="rgb(157,108,31)"/>
<rect x="439.5" y="750.0" width="17.3" height="17.3" fill="rgb(155,106,29)"/>
<rect x="456.2" y="750.0" width="17.3" height="17.3" fill="rgb(149,96,22)"/>
<rect x="472.9" y="750.0" width="17.3" height="17.3" fill="rgb(138,82,13)"/>
<rect x="489.6" y="750.0" width="17.3" height="17.3" fill="rgb(126,65,7)"/>
<rect x="506.3" y="750.0" width="17.3" height="17.3" fill="rgb(116,52,4)"/>
<rect x="523.0" y="750.0" width="17.3" height="17.3" fill="rgb(113,49,3)"/>
<rect x="539.7" y="750.0" width="17.3" height="17.3" fill="rgb(121,59,5)"/>
<rect x="556.4" y="750.0" width="17.3" height="17.3" fill="rgb(137,80,12)"/>
<rect x="573.1" y="750.0" width="17.3" height="17.3" fill="rgb(152,102,26)"/>
<rect x="589.8" y="750.0" width="17.3" height="17.3" fill="rgb(161,115,37)"/>
<rect x="606.5" y="750.0" width="17.3" height="17.3" fill="rgb(162,116,38)"/>
<rect x="623.1" y="750.0" width="17.3" height="17.3" fill="rgb(158,110,33)"/>
<rect x="639.8" y="750.0" width="17.3" height="17.3" fill="rgb(152,101,25)"/>
<rect x="656.5" y="750.0" width="17.3" height="17.3" fill="rgb(144,90,18)"/>
<rect x="673.2" y="750.0" width="17.3" height="17.3" fill="rgb(135,77,11)"/>
<rect x="689.9" y="750.0" width="17.3" height="17.3" fill="rgb(122,59,5)"/>
<rect x="706.6" y="750.0" width="17.3" height="17.3" fill="rgb(106,40,2)"/>
<rect x="723.3" y="750.0" width="17.3" height="17.3" fill="rgb(91,26,0)"/>
<rect x="740.0" y="750.0" width="17.3" height="17.3" fill="rgb(82,18,0)"/>
<rect x="756.7" y="750.0" width="17.3" height="17.3" fill="rgb(79,17,0)"/>
<rect x="773.4" y="750.0" width="17.3" height="17.3" fill="rgb(81,18,0)"/>
<rect x="790.1" y="750.0" width="17.3" height="17.3" fill="rgb(83,19,0)"/>
<rect x="105.6" y="766.7" width="17.3" height="17.3" fill="rgb(87,22,0)"/>
<rect x="122.3" y="766.7" width="17.3" height="17.3" fill="rgb(86,21,0)"/>
<rect x="139.0" y="766.7" width="17.3" height="17.3" fill="rgb(83,19,0)"/>
<rect x="155.7" y="766.7" width="17.3" height="17.3" fill="rgb(86,21,0)"/>
<rect x="172.4" y="766.7" width="17.3" height="17.3" fill="rgb(98,32,1)"/>
<rect x="189.1" y="766.7" width="17.3" height="17.3" fill="rgb(114,49,3)"/>
<rect x="205.8" y="766.7" width="17.3" height="17.3" fill="rgb(126,64,7)"/>
<rect x="222.5" y="766.7" width="17.3" height="17.3" fill="rgb(127,67,7)"/>
<rect x="239.2" y="766.7" width="17.3" height="17.3" fill="rgb(120,57,5)"/>
<rect x="255.9" y="766.7" width="17.3" height="17.3" fill="rgb(110,45,2)"/>
<rect x="272.6" y="766.7" width="17.3" height="17.3" fill="rgb(104,38,1)"/>
<rect x="289.3" y="766.7" width="17.3" height="17.3" fill="rgb(104,38,2)"/>
<rect x="305.9" y="766.7" width="17.3" height="17.3" fill="rgb(109,43,2)"/>
<rect x="322.6" y="766.7" width="17.3" height="17.3" fill="rgb(115,51,3)"/>
<rect x="339.3" y="766.7" width="17.3" height="17.3" fill="rgb(123,60,5)"/>
<rect x="356.0" y="766.7" width="17.3" height="17.3" fill="rgb(131,71,9)"/>
<rect x="372.7" y="766.7" width="17.3" height="17.3" fill="rgb(140,84,14)"/>
<rect x="389.4" y="766.7" width="17.3" height="17.3" fill="rgb(149,96,22)"/>
<rect x="406.1" y="766.7" width="17.3" height="17.3" fill="rgb(156,106,29)"/>
<rect x="422.8" y="766.7" width="17.3" height="17.3" fill="rgb(159,111,33)"/>
<rect x="439.5" y="766.7" width="17.3" height="17.3" fill="rgb(156,107,30)"/>
<rect x="456.2" y="766.7" width="17.3" height="17.3" fill="rgb(149,97,22)"/>
<rect x="472.9" y="766.7" width="17.3" height="17.3" fill="rgb(139,82,14)"/>
<rect x="489.6" y="766.7" width="17.3" height="17.3" fill="rgb(127,66,7)"/>
<rect x="506.3" y="766.7" width="17.3" height="17.3" fill="rgb(117,53,4)"/>
<rect x="523.0" y="766.7" width="17.3" height="17.3" fill="rgb(114,50,3)"/>
<rect x="539.7" y="766.7" width="17.3" height="17.3" fill="rgb(122,59,5)"/>
<rect x="556.4" y="766.7" width="17.3" height="17.3" fill="rgb(136,79,12)"/>
<rect x="573.1" y="766.7" width="17.3" height="17.3" fill="rgb(152,100,25)"/>
<rect x="589.8" y="766.7" width="17.3" height="17.3" fill="rgb(160,113,35)"/>
<rect x="606.5" y="766.7" width="17.3" height="17.3" fill="rgb(162,115,37)"/>
<rect x="623.1" y="766.7" width="17.3" height="17.3" fill="rgb(158,110,33)"/>
<rect x="639.8" y="766.7" width="17.3" height="17.3" fill="rgb(153,102,26)"/>
<rect x="656.5" y="766.7" width="17.3" height="17.3" fill="rgb(145,92,19)"/>
<rect x="673.2" y="766.7" width="17.3" height="17.3" fill="rgb(136,78,12)"/>
<rect x="689.9" y="766.7" width="17.3" height="17.3" fill="rgb(122,60,5)"/>
<rect x="706.6" y="766.7" width="17.3" height="17.3" fill="rgb(106,40,2)"/>
<rect x="723.3" y="766.7" width="17.3" height="17.3" fill="rgb(91,25,0)"/>
<rect x="740.0" y="766.7" width="17.3" height="17.3" fill="rgb(81,17,0)"/>
<rect x="756.7" y="766.7" width="17.3" height="17.3" fill="rgb(78,16,0)"/>
<rect x="773.4" y="766.7" width="17.3" height="17.3" fill="rgb(80,17,0)"/>
<rect x="790.1" y="766.7" width="17.3" height="17.3" fill="rgb(82,18,0)"/>
<rect x="105.6" y="783.4" width="17.3" height="17.3" fill="rgb(89,24,0)"/>
<rect x="122.3" y="783.4" width="17.3" height="17.3" fill="rgb(88,23,0)"/>
<rect x="139.0" y="783.4" width="17.3" height="17.3" fill="rgb(86,21,0)"/>
<rect x="155.7" y="783.4" width="17.3" height="17.3" fill="rgb(88,23,0)"/>
<rect x="172.4" y="783.4" width="17.3" height="17.3" fill="rgb(99,33,1)"/>
<rect x="189.1" y="783.4" width="17.3" height="17.3" fill="rgb(114,50,3)"/>
<rect x="205.8" y="783.4" width="17.3" height="17.3" fill="rgb(125,64,7)"/>
<rect x="222.5" y="783.4" width="17.3" height="17.3" fill="rgb(127,66,7)"/>
<rect x="239.2" y="783.4" width="17.3" height="17.3" fill="rgb(119,56,4)"/>
<rect x="255.9" y="783.4" width="17.3" height="17.3" fill="rgb(109,44,2)"/>
<rect x="272.6" y="783.4" width="17.3" height="17.3" fill="rgb(102,36,1)"/>
<rect x="289.3" y="783.4" width="17.3" height="17.3" fill="rgb(101,35,1)"/>
<rect x="305.9" y="783.4" width="17.3" height="17.3" fill="rgb(105,39,2)"/>
<rect x="322.6" y="783.4" width="17.3" height="17.3" fill="rgb(112,47,3)"/>
<rect x="339.3" y="783.4" width="17.3" height="17.3" fill="rgb(121,59,5)"/>
<rect x="356.0" y="783.4" width="17.3" height="17.3" fill="rgb(132,74,10)"/>
<rect x="372.7" y="783.4" width="17.3" height="17.3" fill="rgb(144,90,17)"/>
<rect x="389.4" y="783.4" width="17.3" height="17.3" fill="rgb(154,105,28)"/>
<rect x="406.1" y="783.4" width="17.3" height="17.3" fill="rgb(162,116,38)"/>
<rect x="422.8" y="783.4" width="17.3" height="17.3" fill="rgb(164,119,41)"/>
<rect x="439.5" y="783.4" width="17.3" height="17.3" fill="rgb(160,113,35)"/>
<rect x="456.2" y="783.4" width="17.3" height="17.3" fill="rgb(151,100,24)"/>
<rect x="472.9" y="783.4" width="17.3" height="17.3" fill="rgb(140,84,14)"/>
<rect x="489.6" y="783.4" width="17.3" height="17.3" fill="rgb(128,68,8)"/>
<rect x="506.3" y="783.4" width="17.3" height="17.3" fill="rgb(120,57,5)"/>
<rect x="523.0" y="783.4" width="17.3" height="17.3" fill="rgb(117,54,4)"/>
<rect x="539.7" y="783.4" width="17.3" height="17.3" fill="rgb(124,62,6)"/>
<rect x="556.4" y="783.4" width="17.3" height="17.3" fill="rgb(135,78,11)"/>
<rect x="573.1" y="783.4" width="17.3" height="17.3" fill="rgb(148,96,21)"/>
<rect x="589.8" y="783.4" width="17.3" height="17.3" fill="rgb(157,108,30)"/>
<rect x="606.5" y="783.4" width="17.3" height="17.3" fill="rgb(160,112,34)"/>
<rect x="623.1" y="783.4" width="17.3" height="17.3" fill="rgb(159,111,33)"/>
<rect x="639.8" y="783.4" width="17.3" height="17.3" fill="rgb(155,106,29)"/>
<rect x="656.5" y="783.4" width="17.3" height="17.3" fill="rgb(149,97,22)"/>
<rect x="673.2" y="783.4" width="17.3" height="17.3" fill="rgb(140,84,14)"/>
<rect x="689.9" y="783.4" width="17.3" height="17.3" fill="rgb(125,64,6)"/>
<rect x="706.6" y="783.4" width="17.3" height="17.3" fill="rgb(107,41,2)"/>
<rect x="723.3" y="783.4" width="17.3" height="17.3" fill="rgb(88,23,0)"/>
<rect x="740.0" y="783.4" width="17.3" height="17.3" fill="rgb(77,15,0)"/>
<rect x="756.7" y="783.4" width="17.3" height="17.3" fill="rgb(74,13,0)"/>
<rect x="773.4" y="783.4" width="17.3" height="17.3" fill="rgb(76,14,0)"/>
<rect x="790.1" y="783.4" width="17.3" height="17.3" fill="rgb(78,16,0)"/>
<rect x="105.6" y="800.1" width="17.3" height="17.3" fill="rgb(92,26,0)"/>
<rect x="122.3" y="800.1" width="17.3" height="17.3" fill="rgb(90,24,0)"/>
<rect x="139.0" y="800.1" width="17.3" height="17.3" fill="rgb(88,23,0)"/>
<rect x="155.7" y="800.1" width="17.3" height="17.3" fill="rgb(91,25,0)"/>
<rect x="172.4" y="800.1" width="17.3" height="17.3" fill="rgb(101,34,1)"/>
<rect x="189.1" y="800.1" width="17.3" height="17.3" fill="rgb(114,50,3)"/>
<rect x="205.8" y="800.1" width="17.3" height="17.3" fill="rgb(124,63,6)"/>
<rect x="222.5" y="800.1" width="17.3" height="17.3" fill="rgb(126,64,7)"/>
<rect x="239.2" y="800.1" width="17.3" height="17.3" fill="rgb(119,55,4)"/>
<rect x="255.9" y="800.1" width="17.3" height="17.3" fill="rgb(109,43,2)"/>
<rect x="272.6" y="800.1" width="17.3" height="17.3" fill="rgb(101,35,1)"/>
<rect x="289.3" y="800.1" width="17.3" height="17.3" fill="rgb(98,32,1)"/>
<rect x="305.9" y="800.1" width="17.3" height="17.3" fill="rgb(101,34,1)"/>
<rect x="322.6" y="800.1" width="17.3" height="17.3" fill="rgb(109,43,2)"/>
<rect x="339.3" y="800.1" width="17.3" height="17.3" fill="rgb(121,58,5)"/>
<rect x="356.0" y="800.1" width="17.3" height="17.3" fill="rgb(136,78,11)"/>
<rect x="372.7" y="800.1" width="17.3" height="17.3" fill="rgb(150,99,23)"/>
<rect x="389.4" y="800.1" width="17.3" height="17.3" fill="rgb(163,117,39)"/>
<rect x="406.1" y="800.1" width="17.3" height="17.3" fill="rgb(171,129,51)"/>
<rect x="422.8" y="800.1" width="17.3" height="17.3" fill="rgb(173,131,54)"/>
<rect x="439.5" y="800.1" width="17.3" height="17.3" fill="rgb(166,121,43)"/>
<rect x="456.2" y="800.1" width="17.3" height="17.3" fill="rgb(155,105,28)"/>
<rect x="472.9" y="800.1" width="17.3" height="17.3" fill="rgb(142,87,16)"/>
<rect x="489.6" y="800.1" width="17.3" height="17.3" fill="rgb(131,72,9)"/>
<rect x="506.3" y="800.1" width="17.3" height="17.3" fill="rgb(124,63,6)"/>
<rect x="523.0" y="800.1" width="17.3" height="17.3" fill="rgb(122,60,5)"/>
<rect x="539.7" y="800.1" width="17.3" height="17.3" fill="rgb(126,65,7)"/>
<rect x="556.4" y="800.1" width="17.3" height="17.3" fill="rgb(134,76,10)"/>
<rect x="573.1" y="800.1" width="17.3" height="17.3" fill="rgb(143,88,17)"/>
<rect x="589.8" y="800.1" width="17.3" height="17.3" fill="rgb(150,99,23)"/>
<rect x="606.5" y="800.1" width="17.3" height="17.3" fill="rgb(155,105,29)"/>
<rect x="623.1" y="800.1" width="17.3" height="17.3" fill="rgb(157,108,31)"/>
<rect x="639.8" y="800.1" width="17.3" height="17.3" fill="rgb(157,108,30)"/>
<rect x="656.5" y="800.1" width="17.3" height="17.3" fill="rgb(153,102,26)"/>
<rect x="673.2" y="800.1" width="17.3" height="17.3" fill="rgb(144,89,17)"/>
<rect x="689.9" y="800.1" width="17.3" height="17.3" fill="rgb(128,68,8)"/>
<rect x="706.6" y="800.1" width="17.3" height="17.3" fill="rgb(107,41,2)"/>
<rect x="723.3" y="800.1" width="17.3" height="17.3" fill="rgb(86,21,0)"/>
<rect x="740.0" y="800.1" width="17.3" height="17.3" fill="rgb(72,12,0)"/>
<rect x="756.7" y="800.1" width="17.3" height="17.3" fill="rgb(69,10,0)"/>
<rect x="773.4" y="800.1" width="17.3" height="17.3" fill="rgb(71,12,0)"/>
<rect x="790.1" y="800.1" width="17.3" height="17.3" fill="rgb(73,13,0)"/>
<rect x="105.6" y="816.9" width="17.3" height="17.3" fill="rgb(92,26,1)"/>
<rect x="122.3" y="816.9" width="17.3" height="17.3" fill="rgb(91,25,0)"/>
<rect x="139.0" y="816.9" width="17.3" height="17.3" fill="rgb(89,24,0)"/>
<rect x="155.7" y="816.9" width="17.3" height="17.3" fill="rgb(91,26,0)"/>
<rect x="172.4" y="816.9" width="17.3" height="17.3" fill="rgb(100,34,1)"/>
<rect x="189.1" y="816.9" width="17.3" height="17.3" fill="rgb(112,47,3)"/>
<rect x="205.8" y="816.9" width="17.3" height="17.3" fill="rgb(121,58,5)"/>
<rect x="222.5" y="816.9" width="17.3" height="17.3" fill="rgb(123,61,5)"/>
<rect x="239.2" y="816.9" width="17.3" height="17.3" fill="rgb(117,54,4)"/>
<rect x="255.9" y="816.9" width="17.3" height="17.3" fill="rgb(109,44,2)"/>
<rect x="272.6" y="816.9" width="17.3" height="17.3" fill="rgb(102,36,1)"/>
<rect x="289.3" y="816.9" width="17.3" height="17.3" fill="rgb(99,32,1)"/>
<rect x="305.9" y="816.9" width="17.3" height="17.3" fill="rgb(101,34,1)"/>
<rect x="322.6" y="816.9" width="17.3" height="17.3" fill="rgb(109,44,2)"/>
<rect x="339.3" y="816.9" width="17.3" height="17.3" fill="rgb(123,61,6)"/>
<rect x="356.0" y="816.9" width="17.3" height="17.3" fill="rgb(141,85,15)"/>
<rect x="372.7" y="816.9" width="17.3" height="17.3" fill="rgb(157,109,31)"/>
<rect x="389.4" y="816.9" width="17.3" height="17.3" fill="rgb(171,128,51)"/>
<rect x="406.1" y="816.9" width="17.3" height="17.3" fill="rgb(179,140,65)"/>
<rect x="422.8" y="816.9" width="17.3" height="17.3" fill="rgb(179,140,65)"/>
<rect x="439.5" y="816.9" width="17.3" height="17.3" fill="rgb(171,128,51)"/>
<rect x="456.2" y="816.9" width="17.3" height="17.3" fill="rgb(158,110,32)"/>
<rect x="472.9" y="816.9" width="17.3" height="17.3" fill="rgb(145,91,18)"/>
<rect x="489.6" y="816.9" width="17.3" height="17.3" fill="rgb(135,77,11)"/>
<rect x="506.3" y="816.9" width="17.3" height="17.3" fill="rgb(129,69,8)"/>
<rect x="523.0" y="816.9" width="17.3" height="17.3" fill="rgb(127,66,7)"/>
<rect x="539.7" y="816.9" width="17.3" height="17.3" fill="rgb(128,68,8)"/>
<rect x="556.4" y="816.9" width="17.3" height="17.3" fill="rgb(132,73,9)"/>
<rect x="573.1" y="816.9" width="17.3" height="17.3" fill="rgb(137,81,13)"/>
<rect x="589.8" y="816.9" width="17.3" height="17.3" fill="rgb(143,88,17)"/>
<rect x="606.5" y="816.9" width="17.3" height="17.3" fill="rgb(148,95,21)"/>
<rect x="623.1" y="816.9" width="17.3" height="17.3" fill="rgb(151,100,24)"/>
<rect x="639.8" y="816.9" width="17.3" height="17.3" fill="rgb(152,101,25)"/>
<rect x="656.5" y="816.9" width="17.3" height="17.3" fill="rgb(150,98,23)"/>
<rect x="673.2" y="816.9" width="17.3" height="17.3" fill="rgb(142,87,16)"/>
<rect x="689.9" y="816.9" width="17.3" height="17.3" fill="rgb(127,67,7)"/>
<rect x="706.6" y="816.9" width="17.3" height="17.3" fill="rgb(106,40,2)"/>
<rect x="723.3" y="816.9" width="17.3" height="17.3" fill="rgb(85,20,0)"/>
<rect x="740.0" y="816.9" width="17.3" height="17.3" fill="rgb(71,11,0)"/>
<rect x="756.7" y="816.9" width="17.3" height="17.3" fill="rgb(67,10,0)"/>
<rect x="773.4" y="816.9" width="17.3" height="17.3" fill="rgb(70,11,0)"/>
<rect x="790.1" y="816.9" width="17.3" height="17.3" fill="rgb(72,12,0)"/>
<rect x="105.6" y="833.6" width="17.3" height="17.3" fill="rgb(90,24,0)"/>
<rect x="122.3" y="833.6" width="17.3" height="17.3" fill="rgb(88,23,0)"/>
<rect x="139.0" y="833.6" width="17.3" height="17.3" fill="rgb(87,22,0)"/>
<rect x="155.7" y="833.6" width="17.3" height="17.3" fill="rgb(89,23,0)"/>
<rect x="172.4" y="833.6" width="17.3" height="17.3" fill="rgb(96,30,1)"/>
<rect x="189.1" y="833.6" width="17.3" height="17.3" fill="rgb(106,40,2)"/>
<rect x="205.8" y="833.6" width="17.3" height="17.3" fill="rgb(115,50,3)"/>
<rect x="222.5" y="833.6" width="17.3" height="17.3" fill="rgb(118,54,4)"/>
<rect x="239.2" y="833.6" width="17.3" height="17.3" fill="rgb(116,52,4)"/>
<rect x="255.9" y="833.6" width="17.3" height="17.3" fill="rgb(112,47,3)"/>
<rect x="272.6" y="833.6" width="17.3" height="17.3" fill="rgb(108,42,2)"/>
<rect x="289.3" y="833.6" width="17.3" height="17.3" fill="rgb(106,40,2)"/>
<rect x="305.9" y="833.6" width="17.3" height="17.3" fill="rgb(108,43,2)"/>
<rect x="322.6" y="833.6" width="17.3" height="17.3" fill="rgb(117,53,4)"/>
<rect x="339.3" y="833.6" width="17.3" height="17.3" fill="rgb(131,71,9)"/>
<rect x="356.0" y="833.6" width="17.3" height="17.3" fill="rgb(147,94,20)"/>
<rect x="372.7" y="833.6" width="17.3" height="17.3" fill="rgb(163,117,39)"/>
<rect x="389.4" y="833.6" width="17.3" height="17.3" fill="rgb(175,134,57)"/>
<rect x="406.1" y="833.6" width="17.3" height="17.3" fill="rgb(181,143,69)"/>
<rect x="422.8" y="833.6" width="17.3" height="17.3" fill="rgb(180,142,68)"/>
<rect x="439.5" y="833.6" width="17.3" height="17.3" fill="rgb(173,131,54)"/>
<rect x="456.2" y="833.6" width="17.3" height="17.3" fill="rgb(161,114,36)"/>
<rect x="472.9" y="833.6" width="17.3" height="17.3" fill="rgb(148,96,21)"/>
<rect x="489.6" y="833.6" width="17.3" height="17.3" fill="rgb(138,82,13)"/>
<rect x="506.3" y="833.6" width="17.3" height="17.3" fill="rgb(132,73,9)"/>
<rect x="523.0" y="833.6" width="17.3" height="17.3" fill="rgb(128,68,8)"/>
<rect x="539.7" y="833.6" width="17.3" height="17.3" fill="rgb(128,68,8)"/>
<rect x="556.4" y="833.6" width="17.3" height="17.3" fill="rgb(131,71,9)"/>
<rect x="573.1" y="833.6" width="17.3" height="17.3" fill="rgb(134,75,10)"/>
<rect x="589.8" y="833.6" width="17.3" height="17.3" fill="rgb(136,79,12)"/>
<rect x="606.5" y="833.6" width="17.3" height="17.3" fill="rgb(137,81,13)"/>
<rect x="623.1" y="833.6" width="17.3" height="17.3" fill="rgb(138,81,13)"/>
<rect x="639.8" y="833.6" width="17.3" height="17.3" fill="rgb(138,81,13)"/>
<rect x="656.5" y="833.6" width="17.3" height="17.3" fill="rgb(136,79,12)"/>
<rect x="673.2" y="833.6" width="17.3" height="17.3" fill="rgb(131,71,9)"/>
<rect x="689.9" y="833.6" width="17.3" height="17.3" fill="rgb(120,57,4)"/>
<rect x="706.6" y="833.6" width="17.3" height="17.3" fill="rgb(103,37,1)"/>
<rect x="723.3" y="833.6" width="17.3" height="17.3" fill="rgb(87,22,0)"/>
<rect x="740.0" y="833.6" width="17.3" height="17.3" fill="rgb(76,14,0)"/>
<rect x="756.7" y="833.6" width="17.3" height="17.3" fill="rgb(73,13,0)"/>
<rect x="773.4" y="833.6" width="17.3" height="17.3" fill="rgb(75,14,0)"/>
<rect x="790.1" y="833.6" width="17.3" height="17.3" fill="rgb(77,15,0)"/>
<rect x="105.6" y="850.3" width="17.3" height="17.3" fill="rgb(84,20,0)"/>
<rect x="122.3" y="850.3" width="17.3" height="17.3" fill="rgb(83,19,0)"/>
<rect x="139.0" y="850.3" width="17.3" height="17.3" fill="rgb(82,19,0)"/>
<rect x="155.7" y="850.3" width="17.3" height="17.3" fill="rgb(84,20,0)"/>
<rect x="172.4" y="850.3" width="17.3" height="17.3" fill="rgb(89,24,0)"/>
<rect x="189.1" y="850.3" width="17.3" height="17.3" fill="rgb(98,32,1)"/>
<rect x="205.8" y="850.3" width="17.3" height="17.3" fill="rgb(106,40,2)"/>
<rect x="222.5" y="850.3" width="17.3" height="17.3" fill="rgb(112,47,3)"/>
<rect x="239.2" y="850.3" width="17.3" height="17.3" fill="rgb(115,51,3)"/>
<rect x="255.9" y="850.3" width="17.3" height="17.3" fill="rgb(117,53,4)"/>
<rect x="272.6" y="850.3" width="17.3" height="17.3" fill="rgb(117,54,4)"/>
<rect x="289.3" y="850.3" width="17.3" height="17.3" fill="rgb(119,55,4)"/>
<rect x="305.9" y="850.3" width="17.3" height="17.3" fill="rgb(122,60,5)"/>
<rect x="322.6" y="850.3" width="17.3" height="17.3" fill="rgb(129,70,8)"/>
<rect x="339.3" y="850.3" width="17.3" height="17.3" fill="rgb(141,85,15)"/>
<rect x="356.0" y="850.3" width="17.3" height="17.3" fill="rgb(154,103,27)"/>
<rect x="372.7" y="850.3" width="17.3" height="17.3" fill="rgb(165,120,41)"/>
<rect x="389.4" y="850.3" width="17.3" height="17.3" fill="rgb(173,131,54)"/>
<rect x="406.1" y="850.3" width="17.3" height="17.3" fill="rgb(176,136,60)"/>
<rect x="422.8" y="850.3" width="17.3" height="17.3" fill="rgb(175,135,58)"/>
<rect x="439.5" y="850.3" width="17.3" height="17.3" fill="rgb(170,127,49)"/>
<rect x="456.2" y="850.3" width="17.3" height="17.3" fill="rgb(161,114,36)"/>
<rect x="472.9" y="850.3" width="17.3" height="17.3" fill="rgb(151,100,24)"/>
<rect x="489.6" y="850.3" width="17.3" height="17.3" fill="rgb(141,86,15)"/>
<rect x="506.3" y="850.3" width="17.3" height="17.3" fill="rgb(133,75,10)"/>
<rect x="523.0" y="850.3" width="17.3" height="17.3" fill="rgb(128,68,8)"/>
<rect x="539.7" y="850.3" width="17.3" height="17.3" fill="rgb(128,67,7)"/>
<rect x="556.4" y="850.3" width="17.3" height="17.3" fill="rgb(130,70,8)"/>
<rect x="573.1" y="850.3" width="17.3" height="17.3" fill="rgb(132,73,9)"/>
<rect x="589.8" y="850.3" width="17.3" height="17.3" fill="rgb(131,71,9)"/>
<rect x="606.5" y="850.3" width="17.3" height="17.3" fill="rgb(127,66,7)"/>
<rect x="623.1" y="850.3" width="17.3" height="17.3" fill="rgb(122,59,5)"/>
<rect x="639.8" y="850.3" width="17.3" height="17.3" fill="rgb(118,54,4)"/>
<rect x="656.5" y="850.3" width="17.3" height="17.3" fill="rgb(115,51,3)"/>
<rect x="673.2" y="850.3" width="17.3" height="17.3" fill="rgb(112,48,3)"/>
<rect x="689.9" y="850.3" width="17.3" height="17.3" fill="rgb(107,41,2)"/>
<rect x="706.6" y="850.3" width="17.3" height="17.3" fill="rgb(99,33,1)"/>
<rect x="723.3" y="850.3" width="17.3" height="17.3" fill="rgb(91,25,0)"/>
<rect x="740.0" y="850.3" width="17.3" height="17.3" fill="rgb(85,21,0)"/>
<rect x="756.7" y="850.3" width="17.3" height="17.3" fill="rgb(84,20,0)"/>
<rect x="773.4" y="850.3" width="17.3" height="17.3" fill="rgb(85,21,0)"/>
<rect x="790.1" y="850.3" width="17.3" height="17.3" fill="rgb(86,21,0)"/>
<rect x="105.6" y="867.0" width="17.3" height="17.3" fill="rgb(79,16,0)"/>
<rect x="122.3" y="867.0" width="17.3" height="17.3" fill="rgb(78,16,0)"/>
<rect x="139.0" y="867.0" width="17.3" height="17.3" fill="rgb(77,15,0)"/>
<rect x="155.7" y="867.0" width="17.3" height="17.3" fill="rgb(78,16,0)"/>
<rect x="172.4" y="867.0" width="17.3" height="17.3" fill="rgb(83,19,0)"/>
<rect x="189.1" y="867.0" width="17.3" height="17.3" fill="rgb(91,25,0)"/>
<rect x="205.8" y="867.0" width="17.3" height="17.3" fill="rgb(99,33,1)"/>
<rect x="222.5" y="867.0" width="17.3" height="17.3" fill="rgb(108,42,2)"/>
<rect x="239.2" y="867.0" width="17.3" height="17.3" fill="rgb(115,51,3)"/>
<rect x="255.9" y="867.0" width="17.3" height="17.3" fill="rgb(122,59,5)"/>
<rect x="272.6" y="867.0" width="17.3" height="17.3" fill="rgb(127,67,7)"/>
<rect x="289.3" y="867.0" width="17.3" height="17.3" fill="rgb(132,73,9)"/>
<rect x="305.9" y="867.0" width="17.3" height="17.3" fill="rgb(137,79,12)"/>
<rect x="322.6" y="867.0" width="17.3" height="17.3" fill="rgb(142,87,16)"/>
<rect x="339.3" y="867.0" width="17.3" height="17.3" fill="rgb(149,97,22)"/>
<rect x="356.0" y="867.0" width="17.3" height="17.3" fill="rgb(155,106,29)"/>
<rect x="372.7" y="867.0" width="17.3" height="17.3" fill="rgb(161,114,36)"/>
<rect x="389.4" y="867.0" width="17.3" height="17.3" fill="rgb(164,119,41)"/>
<rect x="406.1" y="867.0" width="17.3" height="17.3" fill="rgb(166,121,43)"/>
<rect x="422.8" y="867.0" width="17.3" height="17.3" fill="rgb(165,120,42)"/>
<rect x="439.5" y="867.0" width="17.3" height="17.3" fill="rgb(163,116,38)"/>
<rect x="456.2" y="867.0" width="17.3" height="17.3" fill="rgb(158,109,32)"/>
<rect x="472.9" y="867.0" width="17.3" height="17.3" fill="rgb(151,99,24)"/>
<rect x="489.6" y="867.0" width="17.3" height="17.3" fill="rgb(142,87,16)"/>
<rect x="506.3" y="867.0" width="17.3" height="17.3" fill="rgb(133,75,10)"/>
<rect x="523.0" y="867.0" width="17.3" height="17.3" fill="rgb(128,67,7)"/>
<rect x="539.7" y="867.0" width="17.3" height="17.3" fill="rgb(128,67,7)"/>
<rect x="556.4" y="867.0" width="17.3" height="17.3" fill="rgb(130,71,9)"/>
<rect x="573.1" y="867.0" width="17.3" height="17.3" fill="rgb(132,72,9)"/>
<rect x="589.8" y="867.0" width="17.3" height="17.3" fill="rgb(127,67,7)"/>
<rect x="606.5" y="867.0" width="17.3" height="17.3" fill="rgb(118,54,4)"/>
<rect x="623.1" y="867.0" width="17.3" height="17.3" fill="rgb(107,42,2)"/>
<rect x="639.8" y="867.0" width="17.3" height="17.3" fill="rgb(99,33,1)"/>
<rect x="656.5" y="867.0" width="17.3" height="17.3" fill="rgb(96,30,1)"/>
<rect x="673.2" y="867.0" width="17.3" height="17.3" fill="rgb(95,29,1)"/>
<rect x="689.9" y="867.0" width="17.3" height="17.3" fill="rgb(95,29,1)"/>
<rect x="706.6" y="867.0" width="17.3" height="17.3" fill="rgb(95,29,1)"/>
<rect x="723.3" y="867.0" width="17.3" height="17.3" fill="rgb(95,29,1)"/>
<rect x="740.0" y="867.0" width="17.3" height="17.3" fill="rgb(95,29,1)"/>
<rect x="756.7" y="867.0" width="17.3" height="17.3" fill="rgb(95,29,1)"/>
<rect x="773.4" y="867.0" width="17.3" height="17.3" fill="rgb(95,29,1)"/>
<rect x="790.1" y="867.0" width="17.3" height="17.3" fill="rgb(95,29,1)"/>
<rect x="105.6" y="883.8" width="17.3" height="17.3" fill="rgb(76,14,0)"/>
<rect x="122.3" y="883.8" width="17.3" height="17.3" fill="rgb(75,14,0)"/>
<rect x="139.0" y="883.8" width="17.3" height="17.3" fill="rgb(74,13,0)"/>
<rect x="155.7" y="883.8" width="17.3" height="17.3" fill="rgb(75,14,0)"/>
<rect x="172.4" y="883.8" width="17.3" height="17.3" fill="rgb(80,17,0)"/>
<rect x="189.1" y="883.8" width="17.3" height="17.3" fill="rgb(88,23,0)"/>
<rect x="205.8" y="883.8" width="17.3" height="17.3" fill="rgb(97,31,1)"/>
<rect x="222.5" y="883.8" width="17.3" height="17.3" fill="rgb(107,41,2)"/>
<rect x="239.2" y="883.8" width="17.3" height="17.3" fill="rgb(117,53,4)"/>
<rect x="255.9" y="883.8" width="17.3" height="17.3" fill="rgb(126,65,7)"/>
<rect x="272.6" y="883.8" width="17.3" height="17.3" fill="rgb(134,76,11)"/>
<rect x="289.3" y="883.8" width="17.3" height="17.3" fill="rgb(142,87,16)"/>
<rect x="305.9" y="883.8" width="17.3" height="17.3" fill="rgb(147,94,20)"/>
<rect x="322.6" y="883.8" width="17.3" height="17.3" fill="rgb(150,98,23)"/>
<rect x="339.3" y="883.8" width="17.3" height="17.3" fill="rgb(150,98,23)"/>
<rect x="356.0" y="883.8" width="17.3" height="17.3" fill="rgb(149,97,22)"/>
<rect x="372.7" y="883.8" width="17.3" height="17.3" fill="rgb(148,96,22)"/>
<rect x="389.4" y="883.8" width="17.3" height="17.3" fill="rgb(149,97,22)"/>
<rect x="406.1" y="883.8" width="17.3" height="17.3" fill="rgb(150,99,23)"/>
<rect x="422.8" y="883.8" width="17.3" height="17.3" fill="rgb(151,100,24)"/>
<rect x="439.5" y="883.8" width="17.3" height="17.3" fill="rgb(151,100,24)"/>
<rect x="456.2" y="883.8" width="17.3" height="17.3" fill="rgb(149,98,23)"/>
<rect x="472.9" y="883.8" width="17.3" height="17.3" fill="rgb(146,92,19)"/>
<rect x="489.6" y="883.8" width="17.3" height="17.3" fill="rgb(139,83,14)"/>
<rect x="506.3" y="883.8" width="17.3" height="17.3" fill="rgb(133,74,10)"/>
<rect x="523.0" y="883.8" width="17.3" height="17.3" fill="rgb(128,68,8)"/>
<rect x="539.7" y="883.8" width="17.3" height="17.3" fill="rgb(129,69,8)"/>
<rect x="556.4" y="883.8" width="17.3" height="17.3" fill="rgb(132,73,10)"/>
<rect x="573.1" y="883.8" width="17.3" height="17.3" fill="rgb(133,74,10)"/>
<rect x="589.8" y="883.8" width="17.3" height="17.3" fill="rgb(127,66,7)"/>
<rect x="606.5" y="883.8" width="17.3" height="17.3" fill="rgb(115,51,3)"/>
<rect x="623.1" y="883.8" width="17.3" height="17.3" fill="rgb(101,35,1)"/>
<rect x="639.8" y="883.8" width="17.3" height="17.3" fill="rgb(91,25,0)"/>
<rect x="656.5" y="883.8" width="17.3" height="17.3" fill="rgb(86,21,0)"/>
<rect x="673.2" y="883.8" width="17.3" height="17.3" fill="rgb(85,20,0)"/>
<rect x="689.9" y="883.8" width="17.3" height="17.3" fill="rgb(87,22,0)"/>
<rect x="706.6" y="883.8" width="17.3" height="17.3" fill="rgb(92,26,0)"/>
<rect x="723.3" y="883.8" width="17.3" height="17.3" fill="rgb(96,30,1)"/>
<rect x="740.0" y="883.8" width="17.3" height="17.3" fill="rgb(99,33,1)"/>
<rect x="756.7" y="883.8" width="17.3" height="17.3" fill="rgb(100,34,1)"/>
<rect x="773.4" y="883.8" width="17.3" height="17.3" fill="rgb(100,33,1)"/>
<rect x="790.1" y="883.8" width="17.3" height="17.3" fill="rgb(99,33,1)"/>
<rect x="105.6" y="900.5" width="17.3" height="17.3" fill="rgb(76,14,0)"/>
<rect x="122.3" y="900.5" width="17.3" height="17.3" fill="rgb(75,14,0)"/>
<rect x="139.0" y="900.5" width="17.3" height="17.3" fill="rgb(74,13,0)"/>
<rect x="155.7" y="900.5" width="17.3" height="17.3" fill="rgb(75,14,0)"/>
<rect x="172.4" y="900.5" width="17.3" height="17.3" fill="rgb(81,17,0)"/>
<rect x="189.1" y="900.5" width="17.3" height="17.3" fill="rgb(89,24,0)"/>
<rect x="205.8" y="900.5" width="17.3" height="17.3" fill="rgb(100,33,1)"/>
<rect x="222.5" y="900.5" width="17.3" height="17.3" fill="rgb(110,44,2)"/>
<rect x="239.2" y="900.5" width="17.3" height="17.3" fill="rgb(119,56,4)"/>
<rect x="255.9" y="900.5" width="17.3" height="17.3" fill="rgb(128,68,8)"/>
<rect x="272.6" y="900.5" width="17.3" height="17.3" fill="rgb(138,81,13)"/>
<rect x="289.3" y="900.5" width="17.3" height="17.3" fill="rgb(146,93,20)"/>
<rect x="305.9" y="900.5" width="17.3" height="17.3" fill="rgb(151,100,25)"/>
<rect x="322.6" y="900.5" width="17.3" height="17.3" fill="rgb(151,99,24)"/>
<rect x="339.3" y="900.5" width="17.3" height="17.3" fill="rgb(144,90,18)"/>
<rect x="356.0" y="900.5" width="17.3" height="17.3" fill="rgb(136,79,12)"/>
<rect x="372.7" y="900.5" width="17.3" height="17.3" fill="rgb(131,72,9)"/>
<rect x="389.4" y="900.5" width="17.3" height="17.3" fill="rgb(130,71,9)"/>
<rect x="406.1" y="900.5" width="17.3" height="17.3" fill="rgb(133,74,10)"/>
<rect x="422.8" y="900.5" width="17.3" height="17.3" fill="rgb(136,79,12)"/>
<rect x="439.5" y="900.5" width="17.3" height="17.3" fill="rgb(138,81,13)"/>
<rect x="456.2" y="900.5" width="17.3" height="17.3" fill="rgb(138,82,13)"/>
<rect x="472.9" y="900.5" width="17.3" height="17.3" fill="rgb(137,80,12)"/>
<rect x="489.6" y="900.5" width="17.3" height="17.3" fill="rgb(134,76,11)"/>
<rect x="506.3" y="900.5" width="17.3" height="17.3" fill="rgb(132,73,9)"/>
<rect x="523.0" y="900.5" width="17.3" height="17.3" fill="rgb(131,71,9)"/>
<rect x="539.7" y="900.5" width="17.3" height="17.3" fill="rgb(133,74,10)"/>
<rect x="556.4" y="900.5" width="17.3" height="17.3" fill="rgb(135,78,11)"/>
<rect x="573.1" y="900.5" width="17.3" height="17.3" fill="rgb(135,77,11)"/>
<rect x="589.8" y="900.5" width="17.3" height="17.3" fill="rgb(129,69,8)"/>
<rect x="606.5" y="900.5" width="17.3" height="17.3" fill="rgb(117,53,4)"/>
<rect x="623.1" y="900.5" width="17.3" height="17.3" fill="rgb(104,38,1)"/>
<rect x="639.8" y="900.5" width="17.3" height="17.3" fill="rgb(93,27,1)"/>
<rect x="656.5" y="900.5" width="17.3" height="17.3" fill="rgb(87,22,0)"/>
<rect x="673.2" y="900.5" width="17.3" height="17.3" fill="rgb(84,20,0)"/>
<rect x="689.9" y="900.5" width="17.3" height="17.3" fill="rgb(86,21,0)"/>
<rect x="706.6" y="900.5" width="17.3" height="17.3" fill="rgb(90,25,0)"/>
<rect x="723.3" y="900.5" width="17.3" height="17.3" fill="rgb(95,29,1)"/>
<rect x="740.0" y="900.5" width="17.3" height="17.3" fill="rgb(99,33,1)"/>
<rect x="756.7" y="900.5" width="17.3" height="17.3" fill="rgb(100,34,1)"/>
<rect x="773.4" y="900.5" width="17.3" height="17.3" fill="rgb(99,33,1)"/>
<rect x="790.1" y="900.5" width="17.3" height="17.3" fill="rgb(99,32,1)"/>
<rect x="105.6" y="917.2" width="17.3" height="17.3" fill="rgb(78,16,0)"/>
<rect x="122.3" y="917.2" width="17.3" height="17.3" fill="rgb(77,15,0)"/>
<rect x="139.0" y="917.2" width="17.3" height="17.3" fill="rgb(76,14,0)"/>
<rect x="155.7" y="917.2" width="17.3" height="17.3" fill="rgb(78,15,0)"/>
<rect x="172.4" y="917.2" width="17.3" height="17.3" fill="rgb(84,20,0)"/>
<rect x="189.1" y="917.2" width="17.3" height="17.3" fill="rgb(94,28,1)"/>
<rect x="205.8" y="917.2" width="17.3" height="17.3" fill="rgb(105,39,2)"/>
<rect x="222.5" y="917.2" width="17.3" height="17.3" fill="rgb(114,50,3)"/>
<rect x="239.2" y="917.2" width="17.3" height="17.3" fill="rgb(122,59,5)"/>
<rect x="255.9" y="917.2" width="17.3" height="17.3" fill="rgb(129,69,8)"/>
<rect x="272.6" y="917.2" width="17.3" height="17.3" fill="rgb(137,80,12)"/>
<rect x="289.3" y="917.2" width="17.3" height="17.3" fill="rgb(145,92,19)"/>
<rect x="305.9" y="917.2" width="17.3" height="17.3" fill="rgb(150,98,23)"/>
<rect x="322.6" y="917.2" width="17.3" height="17.3" fill="rgb(147,94,20)"/>
<rect x="339.3" y="917.2" width="17.3" height="17.3" fill="rgb(136,79,12)"/>
<rect x="356.0" y="917.2" width="17.3" height="17.3" fill="rgb(124,62,6)"/>
<rect x="372.7" y="917.2" width="17.3" height="17.3" fill="rgb(116,52,4)"/>
<rect x="389.4" y="917.2" width="17.3" height="17.3" fill="rgb(116,51,3)"/>
<rect x="406.1" y="917.2" width="17.3" height="17.3" fill="rgb(120,57,5)"/>
<rect x="422.8" y="917.2" width="17.3" height="17.3" fill="rgb(125,63,6)"/>
<rect x="439.5" y="917.2" width="17.3" height="17.3" fill="rgb(127,67,7)"/>
<rect x="456.2" y="917.2" width="17.3" height="17.3" fill="rgb(129,68,8)"/>
<rect x="472.9" y="917.2" width="17.3" height="17.3" fill="rgb(129,69,8)"/>
<rect x="489.6" y="917.2" width="17.3" height="17.3" fill="rgb(130,71,9)"/>
<rect x="506.3" y="917.2" width="17.3" height="17.3" fill="rgb(132,73,9)"/>
<rect x="523.0" y="917.2" width="17.3" height="17.3" fill="rgb(134,76,11)"/>
<rect x="539.7" y="917.2" width="17.3" height="17.3" fill="rgb(137,80,13)"/>
<rect x="556.4" y="917.2" width="17.3" height="17.3" fill="rgb(139,83,14)"/>
<rect x="573.1" y="917.2" width="17.3" height="17.3" fill="rgb(138,81,13)"/>
<rect x="589.8" y="917.2" width="17.3" height="17.3" fill="rgb(132,73,9)"/>
<rect x="606.5" y="917.2" width="17.3" height="17.3" fill="rgb(121,59,5)"/>
<rect x="623.1" y="917.2" width="17.3" height="17.3" fill="rgb(109,44,2)"/>
<rect x="639.8" y="917.2" width="17.3" height="17.3" fill="rgb(99,33,1)"/>
<rect x="656.5" y="917.2" width="17.3" height="17.3" fill="rgb(92,27,1)"/>
<rect x="673.2" y="917.2" width="17.3" height="17.3" fill="rgb(89,24,0)"/>
<rect x="689.9" y="917.2" width="17.3" height="17.3" fill="rgb(89,24,0)"/>
<rect x="706.6" y="917.2" width="17.3" height="17.3" fill="rgb(91,26,0)"/>
<rect x="723.3" y="917.2" width="17.3" height="17.3" fill="rgb(95,29,1)"/>
<rect x="740.0" y="917.2" width="17.3" height="17.3" fill="rgb(98,31,1)"/>
<rect x="756.7" y="917.2" width="17.3" height="17.3" fill="rgb(98,32,1)"/>
<rect x="773.4" y="917.2" width="17.3" height="17.3" fill="rgb(98,31,1)"/>
<rect x="790.1" y="917.2" width="17.3" height="17.3" fill="rgb(97,31,1)"/>
<rect x="105.6" y="933.9" width="17.3" height="17.3" fill="rgb(84,19,0)"/>
<rect x="122.3" y="933.9" width="17.3" height="17.3" fill="rgb(82,19,0)"/>
<rect x="139.0" y="933.9" width="17.3" height="17.3" fill="rgb(81,18,0)"/>
<rect x="155.7" y="933.9" width="17.3" height="17.3" fill="rgb(83,19,0)"/>
<rect x="172.4" y="933.9" width="17.3" height="17.3" fill="rgb(90,25,0)"/>
<rect x="189.1" y="933.9" width="17.3" height="17.3" fill="rgb(101,35,1)"/>
<rect x="205.8" y="933.9" width="17.3" height="17.3" fill="rgb(112,47,3)"/>
<rect x="222.5" y="933.9" width="17.3" height="17.3" fill="rgb(119,56,4)"/>
<rect x="239.2" y="933.9" width="17.3" height="17.3" fill="rgb(124,62,6)"/>
<rect x="255.9" y="933.9" width="17.3" height="17.3" fill="rgb(127,67,7)"/>
<rect x="272.6" y="933.9" width="17.3" height="17.3" fill="rgb(133,74,10)"/>
<rect x="289.3" y="933.9" width="17.3" height="17.3" fill="rgb(139,83,14)"/>
<rect x="305.9" y="933.9" width="17.3" height="17.3" fill="rgb(143,88,17)"/>
<rect x="322.6" y="933.9" width="17.3" height="17.3" fill="rgb(139,83,14)"/>
<rect x="339.3" y="933.9" width="17.3" height="17.3" fill="rgb(129,69,8)"/>
<rect x="356.0" y="933.9" width="17.3" height="17.3" fill="rgb(118,54,4)"/>
<rect x="372.7" y="933.9" width="17.3" height="17.3" fill="rgb(111,46,2)"/>
<rect x="389.4" y="933.9" width="17.3" height="17.3" fill="rgb(111,46,3)"/>
<rect x="406.1" y="933.9" width="17.3" height="17.3" fill="rgb(116,52,4)"/>
<rect x="422.8" y="933.9" width="17.3" height="17.3" fill="rgb(121,59,5)"/>
<rect x="439.5" y="933.9" width="17.3" height="17.3" fill="rgb(124,62,6)"/>
<rect x="456.2" y="933.9" width="17.3" height="17.3" fill="rgb(126,64,7)"/>
<rect x="472.9" y="933.9" width="17.3" height="17.3" fill="rgb(127,67,7)"/>
<rect x="489.6" y="933.9" width="17.3" height="17.3" fill="rgb(131,71,9)"/>
<rect x="506.3" y="933.9" width="17.3" height="17.3" fill="rgb(135,77,11)"/>
<rect x="523.0" y="933.9" width="17.3" height="17.3" fill="rgb(139,83,14)"/>
<rect x="539.7" y="933.9" width="17.3" height="17.3" fill="rgb(142,87,16)"/>
<rect x="556.4" y="933.9" width="17.3" height="17.3" fill="rgb(143,89,17)"/>
<rect x="573.1" y="933.9" width="17.3" height="17.3" fill="rgb(141,86,15)"/>
<rect x="589.8" y="933.9" width="17.3" height="17.3" fill="rgb(134,76,11)"/>
<rect x="606.5" y="933.9" width="17.3" height="17.3" fill="rgb(124,62,6)"/>
<rect x="623.1" y="933.9" width="17.3" height="17.3" fill="rgb(113,48,3)"/>
<rect x="639.8" y="933.9" width="17.3" height="17.3" fill="rgb(103,37,1)"/>
<rect x="656.5" y="933.9" width="17.3" height="17.3" fill="rgb(97,31,1)"/>
<rect x="673.2" y="933.9" width="17.3" height="17.3" fill="rgb(94,28,1)"/>
<rect x="689.9" y="933.9" width="17.3" height="17.3" fill="rgb(94,28,1)"/>
<rect x="706.6" y="933.9" width="17.3" height="17.3" fill="rgb(95,29,1)"/>
<rect x="723.3" y="933.9" width="17.3" height="17.3" fill="rgb(97,31,1)"/>
<rect x="740.0" y="933.9" width="17.3" height="17.3" fill="rgb(99,33,1)"/>
<rect x="756.7" y="933.9" width="17.3" height="17.3" fill="rgb(99,33,1)"/>
<rect x="773.4" y="933.9" width="17.3" height="17.3" fill="rgb(99,33,1)"/>
<rect x="790.1" y="933.9" width="17.3" height="17.3" fill="rgb(99,33,1)"/>
<rect x="105.6" y="950.6" width="17.3" height="17.3" fill="rgb(90,25,0)"/>
<rect x="122.3" y="950.6" width="17.3" height="17.3" fill="rgb(89,24,0)"/>
<rect x="139.0" y="950.6" width="17.3" height="17.3" fill="rgb(88,23,0)"/>
<rect x="155.7" y="950.6" width="17.3" height="17.3" fill="rgb(90,24,0)"/>
<rect x="172.4" y="950.6" width="17.3" height="17.3" fill="rgb(97,31,1)"/>
<rect x="189.1" y="950.6" width="17.3" height="17.3" fill="rgb(108,42,2)"/>
<rect x="205.8" y="950.6" width="17.3" height="17.3" fill="rgb(118,55,4)"/>
<rect x="222.5" y="950.6" width="17.3" height="17.3" fill="rgb(123,61,6)"/>
<rect x="239.2" y="950.6" width="17.3" height="17.3" fill="rgb(125,63,6)"/>
<rect x="255.9" y="950.6" width="17.3" height="17.3" fill="rgb(125,63,6)"/>
<rect x="272.6" y="950.6" width="17.3" height="17.3" fill="rgb(126,66,7)"/>
<rect x="289.3" y="950.6" width="17.3" height="17.3" fill="rgb(130,70,8)"/>
<rect x="305.9" y="950.6" width="17.3" height="17.3" fill="rgb(132,74,10)"/>
<rect x="322.6" y="950.6" width="17.3" height="17.3" fill="rgb(131,72,9)"/>
<rect x="339.3" y="950.6" width="17.3" height="17.3" fill="rgb(126,65,7)"/>
<rect x="356.0" y="950.6" width="17.3" height="17.3" fill="rgb(120,57,5)"/>
<rect x="372.7" y="950.6" width="17.3" height="17.3" fill="rgb(117,53,4)"/>
<rect x="389.4" y="950.6" width="17.3" height="17.3" fill="rgb(118,54,4)"/>
<rect x="406.1" y="950.6" width="17.3" height="17.3" fill="rgb(122,59,5)"/>
<rect x="422.8" y="950.6" width="17.3" height="17.3" fill="rgb(126,64,7)"/>
<rect x="439.5" y="950.6" width="17.3" height="17.3" fill="rgb(128,68,8)"/>
<rect x="456.2" y="950.6" width="17.3" height="17.3" fill="rgb(130,70,8)"/>
<rect x="472.9" y="950.6" width="17.3" height="17.3" fill="rgb(132,73,9)"/>
<rect x="489.6" y="950.6" width="17.3" height="17.3" fill="rgb(135,77,11)"/>
<rect x="506.3" y="950.6" width="17.3" height="17.3" fill="rgb(139,83,14)"/>
<rect x="523.0" y="950.6" width="17.3" height="17.3" fill="rgb(143,89,17)"/>
<rect x="539.7" y="950.6" width="17.3" height="17.3" fill="rgb(146,93,19)"/>
<rect x="556.4" y="950.6" width="17.3" height="17.3" fill="rgb(147,93,20)"/>
<rect x="573.1" y="950.6" width="17.3" height="17.3" fill="rgb(143,89,17)"/>
<rect x="589.8" y="950.6" width="17.3" height="17.3" fill="rgb(135,77,11)"/>
<rect x="606.5" y="950.6" width="17.3" height="17.3" fill="rgb(123,61,6)"/>
<rect x="623.1" y="950.6" width="17.3" height="17.3" fill="rgb(111,46,3)"/>
<rect x="639.8" y="950.6" width="17.3" height="17.3" fill="rgb(103,37,1)"/>
<rect x="656.5" y="950.6" width="17.3" height="17.3" fill="rgb(99,33,1)"/>
<rect x="673.2" y="950.6" width="17.3" height="17.3" fill="rgb(98,32,1)"/>
<rect x="689.9" y="950.6" width="17.3" height="17.3" fill="rgb(100,33,1)"/>
<rect x="706.6" y="950.6" width="17.3" height="17.3" fill="rgb(102,35,1)"/>
<rect x="723.3" y="950.6" width="17.3" height="17.3" fill="rgb(104,38,1)"/>
<rect x="740.0" y="950.6" width="17.3" height="17.3" fill="rgb(105,39,2)"/>
<rect x="756.7" y="950.6" width="17.3" height="17.3" fill="rgb(105,40,2)"/>
<rect x="773.4" y="950.6" width="17.3" height="17.3" fill="rgb(105,39,2)"/>
<rect x="790.1" y="950.6" width="17.3" height="17.3" fill="rgb(105,39,2)"/>
<rect x="105.6" y="967.4" width="17.3" height="17.3" fill="rgb(97,31,1)"/>
<rect x="122.3" y="967.4" width="17.3" height="17.3" fill="rgb(96,30,1)"/>
<rect x="139.0" y="967.4" width="17.3" height="17.3" fill="rgb(94,28,1)"/>
<rect x="155.7" y="967.4" width="17.3" height="17.3" fill="rgb(96,30,1)"/>
<rect x="172.4" y="967.4" width="17.3" height="17.3" fill="rgb(104,37,1)"/>
<rect x="189.1" y="967.4" width="17.3" height="17.3" fill="rgb(114,50,3)"/>
<rect x="205.8" y="967.4" width="17.3" height="17.3" fill="rgb(123,61,6)"/>
<rect x="222.5" y="967.4" width="17.3" height="17.3" fill="rgb(127,66,7)"/>
<rect x="239.2" y="967.4" width="17.3" height="17.3" fill="rgb(126,64,7)"/>
<rect x="255.9" y="967.4" width="17.3" height="17.3" fill="rgb(123,61,5)"/>
<rect x="272.6" y="967.4" width="17.3" height="17.3" fill="rgb(121,58,5)"/>
<rect x="289.3" y="967.4" width="17.3" height="17.3" fill="rgb(122,59,5)"/>
<rect x="305.9" y="967.4" width="17.3" height="17.3" fill="rgb(123,61,6)"/>
<rect x="322.6" y="967.4" width="17.3" height="17.3" fill="rgb(125,63,6)"/>
<rect x="339.3" y="967.4" width="17.3" height="17.3" fill="rgb(125,64,6)"/>
<rect x="356.0" y="967.4" width="17.3" height="17.3" fill="rgb(126,65,7)"/>
<rect x="372.7" y="967.4" width="17.3" height="17.3" fill="rgb(126,65,7)"/>
<rect x="389.4" y="967.4" width="17.3" height="17.3" fill="rgb(128,67,7)"/>
<rect x="406.1" y="967.4" width="17.3" height="17.3" fill="rgb(129,69,8)"/>
<rect x="422.8" y="967.4" width="17.3" height="17.3" fill="rgb(131,71,9)"/>
<rect x="439.5" y="967.4" width="17.3" height="17.3" fill="rgb(132,74,10)"/>
<rect x="456.2" y="967.4" width="17.3" height="17.3" fill="rgb(134,76,11)"/>
<rect x="472.9" y="967.4" width="17.3" height="17.3" fill="rgb(137,80,12)"/>
<rect x="489.6" y="967.4" width="17.3" height="17.3" fill="rgb(140,84,14)"/>
<rect x="506.3" y="967.4" width="17.3" height="17.3" fill="rgb(143,88,17)"/>
<rect x="523.0" y="967.4" width="17.3" height="17.3" fill="rgb(146,92,19)"/>
<rect x="539.7" y="967.4" width="17.3" height="17.3" fill="rgb(147,95,21)"/>
<rect x="556.4" y="967.4" width="17.3" height="17.3" fill="rgb(147,94,20)"/>
<rect x="573.1" y="967.4" width="17.3" height="17.3" fill="rgb(143,89,17)"/>
<rect x="589.8" y="967.4" width="17.3" height="17.3" fill="rgb(134,76,11)"/>
<rect x="606.5" y="967.4" width="17.3" height="17.3" fill="rgb(122,59,5)"/>
<rect x="623.1" y="967.4" width="17.3" height="17.3" fill="rgb(110,45,2)"/>
<rect x="639.8" y="967.4" width="17.3" height="17.3" fill="rgb(102,36,1)"/>
<rect x="656.5" y="967.4" width="17.3" height="17.3" fill="rgb(100,34,1)"/>
<rect x="673.2" y="967.4" width="17.3" height="17.3" fill="rgb(101,35,1)"/>
<rect x="689.9" y="967.4" width="17.3" height="17.3" fill="rgb(105,39,2)"/>
<rect x="706.6" y="967.4" width="17.3" height="17.3" fill="rgb(109,43,2)"/>
<rect x="723.3" y="967.4" width="17.3" height="17.3" fill="rgb(112,47,3)"/>
<rect x="740.0" y="967.4" width="17.3" height="17.3" fill="rgb(114,49,3)"/>
<rect x="756.7" y="967.4" width="17.3" height="17.3" fill="rgb(115,50,3)"/>
<rect x="773.4" y="967.4" width="17.3" height="17.3" fill="rgb(114,50,3)"/>
<rect x="790.1" y="967.4" width="17.3" height="17.3" fill="rgb(114,49,3)"/>
<rect x="105.6" y="984.1" width="17.3" height="17.3" fill="rgb(101,35,1)"/>
<rect x="122.3" y="984.1" width="17.3" height="17.3" fill="rgb(100,34,1)"/>
<rect x="139.0" y="984.1" width="17.3" height="17.3" fill="rgb(99,33,1)"/>
<rect x="155.7" y="984.1" width="17.3" height="17.3" fill="rgb(101,34,1)"/>
<rect x="172.4" y="984.1" width="17.3" height="17.3" fill="rgb(108,42,2)"/>
<rect x="189.1" y="984.1" width="17.3" height="17.3" fill="rgb(118,54,4)"/>
<rect x="205.8" y="984.1" width="17.3" height="17.3" fill="rgb(126,65,7)"/>
<rect x="222.5" y="984.1" width="17.3" height="17.3" fill="rgb(129,69,8)"/>
<rect x="239.2" y="984.1" width="17.3" height="17.3" fill="rgb(127,67,7)"/>
<rect x="255.9" y="984.1" width="17.3" height="17.3" fill="rgb(123,61,6)"/>
<rect x="272.6" y="984.1" width="17.3" height="17.3" fill="rgb(120,57,5)"/>
<rect x="289.3" y="984.1" width="17.3" height="17.3" fill="rgb(119,55,4)"/>
<rect x="305.9" y="984.1" width="17.3" height="17.3" fill="rgb(119,56,4)"/>
<rect x="322.6" y="984.1" width="17.3" height="17.3" fill="rgb(122,60,5)"/>
<rect x="339.3" y="984.1" width="17.3" height="17.3" fill="rgb(126,65,7)"/>
<rect x="356.0" y="984.1" width="17.3" height="17.3" fill="rgb(130,70,8)"/>
<rect x="372.7" y="984.1" width="17.3" height="17.3" fill="rgb(132,72,9)"/>
<rect x="389.4" y="984.1" width="17.3" height="17.3" fill="rgb(131,72,9)"/>
<rect x="406.1" y="984.1" width="17.3" height="17.3" fill="rgb(130,71,9)"/>
<rect x="422.8" y="984.1" width="17.3" height="17.3" fill="rgb(130,70,8)"/>
<rect x="439.5" y="984.1" width="17.3" height="17.3" fill="rgb(131,72,9)"/>
<rect x="456.2" y="984.1" width="17.3" height="17.3" fill="rgb(134,76,10)"/>
<rect x="472.9" y="984.1" width="17.3" height="17.3" fill="rgb(137,80,12)"/>
<rect x="489.6" y="984.1" width="17.3" height="17.3" fill="rgb(140,84,14)"/>
<rect x="506.3" y="984.1" width="17.3" height="17.3" fill="rgb(142,87,16)"/>
<rect x="523.0" y="984.1" width="17.3" height="17.3" fill="rgb(144,90,17)"/>
<rect x="539.7" y="984.1" width="17.3" height="17.3" fill="rgb(144,90,18)"/>
<rect x="556.4" y="984.1" width="17.3" height="17.3" fill="rgb(143,89,17)"/>
<rect x="573.1" y="984.1" width="17.3" height="17.3" fill="rgb(139,83,14)"/>
<rect x="589.8" y="984.1" width="17.3" height="17.3" fill="rgb(132,72,9)"/>
<rect x="606.5" y="984.1" width="17.3" height="17.3" fill="rgb(121,59,5)"/>
<rect x="623.1" y="984.1" width="17.3" height="17.3" fill="rgb(112,47,3)"/>
<rect x="639.8" y="984.1" width="17.3" height="17.3" fill="rgb(105,39,2)"/>
<rect x="656.5" y="984.1" width="17.3" height="17.3" fill="rgb(103,37,1)"/>
<rect x="673.2" y="984.1" width="17.3" height="17.3" fill="rgb(105,38,2)"/>
<rect x="689.9" y="984.1" width="17.3" height="17.3" fill="rgb(109,43,2)"/>
<rect x="706.6" y="984.1" width="17.3" height="17.3" fill="rgb(114,50,3)"/>
<rect x="723.3" y="984.1" width="17.3" height="17.3" fill="rgb(120,57,5)"/>
<rect x="740.0" y="984.1" width="17.3" height="17.3" fill="rgb(123,61,6)"/>
<rect x="756.7" y="984.1" width="17.3" height="17.3" fill="rgb(124,63,6)"/>
<rect x="773.4" y="984.1" width="17.3" height="17.3" fill="rgb(124,62,6)"/>
<rect x="790.1" y="984.1" width="17.3" height="17.3" fill="rgb(123,61,6)"/>
<rect x="105.6" y="1000.8" width="17.3" height="17.3" fill="rgb(103,37,1)"/>
<rect x="122.3" y="1000.8" width="17.3" height="17.3" fill="rgb(102,36,1)"/>
<rect x="139.0" y="1000.8" width="17.3" height="17.3" fill="rgb(101,35,1)"/>
<rect x="155.7" y="1000.8" width="17.3" height="17.3" fill="rgb(103,37,1)"/>
<rect x="172.4" y="1000.8" width="17.3" height="17.3" fill="rgb(110,44,2)"/>
<rect x="189.1" y="1000.8" width="17.3" height="17.3" fill="rgb(119,56,4)"/>
<rect x="205.8" y="1000.8" width="17.3" height="17.3" fill="rgb(128,67,7)"/>
<rect x="222.5" y="1000.8" width="17.3" height="17.3" fill="rgb(131,72,9)"/>
<rect x="239.2" y="1000.8" width="17.3" height="17.3" fill="rgb(130,70,8)"/>
<rect x="255.9" y="1000.8" width="17.3" height="17.3" fill="rgb(126,65,7)"/>
<rect x="272.6" y="1000.8" width="17.3" height="17.3" fill="rgb(123,61,6)"/>
<rect x="289.3" y="1000.8" width="17.3" height="17.3" fill="rgb(122,60,5)"/>
<rect x="305.9" y="1000.8" width="17.3" height="17.3" fill="rgb(123,61,5)"/>
<rect x="322.6" y="1000.8" width="17.3" height="17.3" fill="rgb(125,63,6)"/>
<rect x="339.3" y="1000.8" width="17.3" height="17.3" fill="rgb(127,66,7)"/>
<rect x="356.0" y="1000.8" width="17.3" height="17.3" fill="rgb(129,69,8)"/>
<rect x="372.7" y="1000.8" width="17.3" height="17.3" fill="rgb(128,68,8)"/>
<rect x="389.4" y="1000.8" width="17.3" height="17.3" fill="rgb(125,64,6)"/>
<rect x="406.1" y="1000.8" width="17.3" height="17.3" fill="rgb(121,59,5)"/>
<rect x="422.8" y="1000.8" width="17.3" height="17.3" fill="rgb(120,56,4)"/>
<rect x="439.5" y="1000.8" width="17.3" height="17.3" fill="rgb(121,59,5)"/>
<rect x="456.2" y="1000.8" width="17.3" height="17.3" fill="rgb(125,64,6)"/>
<rect x="472.9" y="1000.8" width="17.3" height="17.3" fill="rgb(130,70,8)"/>
<rect x="489.6" y="1000.8" width="17.3" height="17.3" fill="rgb(134,76,10)"/>
<rect x="506.3" y="1000.8" width="17.3" height="17.3" fill="rgb(136,79,12)"/>
<rect x="523.0" y="1000.8" width="17.3" height="17.3" fill="rgb(137,80,13)"/>
<rect x="539.7" y="1000.8" width="17.3" height="17.3" fill="rgb(137,80,12)"/>
<rect x="556.4" y="1000.8" width="17.3" height="17.3" fill="rgb(135,77,11)"/>
<rect x="573.1" y="1000.8" width="17.3" height="17.3" fill="rgb(131,72,9)"/>
<rect x="589.8" y="1000.8" width="17.3" height="17.3" fill="rgb(127,67,7)"/>
<rect x="606.5" y="1000.8" width="17.3" height="17.3" fill="rgb(123,61,6)"/>
<rect x="623.1" y="1000.8" width="17.3" height="17.3" fill="rgb(118,55,4)"/>
<rect x="639.8" y="1000.8" width="17.3" height="17.3" fill="rgb(114,49,3)"/>
<rect x="656.5" y="1000.8" width="17.3" height="17.3" fill="rgb(110,44,2)"/>
<rect x="673.2" y="1000.8" width="17.3" height="17.3" fill="rgb(109,43,2)"/>
<rect x="689.9" y="1000.8" width="17.3" height="17.3" fill="rgb(112,47,3)"/>
<rect x="706.6" y="1000.8" width="17.3" height="17.3" fill="rgb(119,55,4)"/>
<rect x="723.3" y="1000.8" width="17.3" height="17.3" fill="rgb(127,66,7)"/>
<rect x="740.0" y="1000.8" width="17.3" height="17.3" fill="rgb(132,73,9)"/>
<rect x="756.7" y="1000.8" width="17.3" height="17.3" fill="rgb(133,75,10)"/>
<rect x="773.4" y="1000.8" width="17.3" height="17.3" fill="rgb(132,74,10)"/>
<rect x="790.1" y="1000.8" width="17.3" height="17.3" fill="rgb(131,72,9)"/>
<rect x="105.6" y="1017.5" width="17.3" height="17.3" fill="rgb(106,40,2)"/>
<rect x="122.3" y="1017.5" width="17.3" height="17.3" fill="rgb(105,39,2)"/>
<rect x="139.0" y="1017.5" width="17.3" height="17.3" fill="rgb(104,38,1)"/>
<rect x="155.7" y="1017.5" width="17.3" height="17.3" fill="rgb(106,40,2)"/>
<rect x="172.4" y="1017.5" width="17.3" height="17.3" fill="rgb(112,47,3)"/>
<rect x="189.1" y="1017.5" width="17.3" height="17.3" fill="rgb(120,58,5)"/>
<rect x="205.8" y="1017.5" width="17.3" height="17.3" fill="rgb(128,68,8)"/>
<rect x="222.5" y="1017.5" width="17.3" height="17.3" fill="rgb(132,73,9)"/>
<rect x="239.2" y="1017.5" width="17.3" height="17.3" fill="rgb(132,73,9)"/>
<rect x="255.9" y="1017.5" width="17.3" height="17.3" fill="rgb(130,70,8)"/>
<rect x="272.6" y="1017.5" width="17.3" height="17.3" fill="rgb(128,68,8)"/>
<rect x="289.3" y="1017.5" width="17.3" height="17.3" fill="rgb(128,68,8)"/>
<rect x="305.9" y="1017.5" width="17.3" height="17.3" fill="rgb(128,68,8)"/>
<rect x="322.6" y="1017.5" width="17.3" height="17.3" fill="rgb(129,68,8)"/>
<rect x="339.3" y="1017.5" width="17.3" height="17.3" fill="rgb(128,68,8)"/>
<rect x="356.0" y="1017.5" width="17.3" height="17.3" fill="rgb(126,65,7)"/>
<rect x="372.7" y="1017.5" width="17.3" height="17.3" fill="rgb(121,59,5)"/>
<rect x="389.4" y="1017.5" width="17.3" height="17.3" fill="rgb(115,51,3)"/>
<rect x="406.1" y="1017.5" width="17.3" height="17.3" fill="rgb(109,44,2)"/>
<rect x="422.8" y="1017.5" width="17.3" height="17.3" fill="rgb(106,40,2)"/>
<rect x="439.5" y="1017.5" width="17.3" height="17.3" fill="rgb(108,43,2)"/>
<rect x="456.2" y="1017.5" width="17.3" height="17.3" fill="rgb(114,49,3)"/>
<rect x="472.9" y="1017.5" width="17.3" height="17.3" fill="rgb(120,57,5)"/>
<rect x="489.6" y="1017.5" width="17.3" height="17.3" fill="rgb(125,63,6)"/>
<rect x="506.3" y="1017.5" width="17.3" height="17.3" fill="rgb(128,68,8)"/>
<rect x="523.0" y="1017.5" width="17.3" height="17.3" fill="rgb(129,69,8)"/>
<rect x="539.7" y="1017.5" width="17.3" height="17.3" fill="rgb(127,66,7)"/>
<rect x="556.4" y="1017.5" width="17.3" height="17.3" fill="rgb(124,62,6)"/>
<rect x="573.1" y="1017.5" width="17.3" height="17.3" fill="rgb(121,59,5)"/>
<rect x="589.8" y="1017.5" width="17.3" height="17.3" fill="rgb(122,59,5)"/>
<rect x="606.5" y="1017.5" width="17.3" height="17.3" fill="rgb(124,62,6)"/>
<rect x="623.1" y="1017.5" width="17.3" height="17.3" fill="rgb(126,64,7)"/>
<rect x="639.8" y="1017.5" width="17.3" height="17.3" fill="rgb(124,62,6)"/>
<rect x="656.5" y="1017.5" width="17.3" height="17.3" fill="rgb(118,55,4)"/>
<rect x="673.2" y="1017.5" width="17.3" height="17.3" fill="rgb(114,50,3)"/>
<rect x="689.9" y="1017.5" width="17.3" height="17.3" fill="rgb(116,51,3)"/>
<rect x="706.6" y="1017.5" width="17.3" height="17.3" fill="rgb(123,61,6)"/>
<rect x="723.3" y="1017.5" width="17.3" height="17.3" fill="rgb(133,74,10)"/>
<rect x="740.0" y="1017.5" width="17.3" height="17.3" fill="rgb(140,84,14)"/>
<rect x="756.7" y="1017.5" width="17.3" height="17.3" fill="rgb(141,86,15)"/>
<rect x="773.4" y="1017.5" width="17.3" height="17.3" fill="rgb(140,84,14)"/>
<rect x="790.1" y="1017.5" width="17.3" height="17.3" fill="rgb(139,83,14)"/>
<rect x="105.6" y="1034.3" width="17.3" height="17.3" fill="rgb(113,48,3)"/>
<rect x="122.3" y="1034.3" width="17.3" height="17.3" fill="rgb(112,47,3)"/>
<rect x="139.0" y="1034.3" width="17.3" height="17.3" fill="rgb(111,46,3)"/>
<rect x="155.7" y="1034.3" width="17.3" height="17.3" fill="rgb(113,48,3)"/>
<rect x="172.4" y="1034.3" width="17.3" height="17.3" fill="rgb(117,53,4)"/>
<rect x="189.1" y="1034.3" width="17.3" height="17.3" fill="rgb(124,62,6)"/>
<rect x="205.8" y="1034.3" width="17.3" height="17.3" fill="rgb(130,70,8)"/>
<rect x="222.5" y="1034.3" width="17.3" height="17.3" fill="rgb(133,74,10)"/>
<rect x="239.2" y="1034.3" width="17.3" height="17.3" fill="rgb(132,74,10)"/>
<rect x="255.9" y="1034.3" width="17.3" height="17.3" fill="rgb(131,72,9)"/>
<rect x="272.6" y="1034.3" width="17.3" height="17.3" fill="rgb(131,71,9)"/>
<rect x="289.3" y="1034.3" width="17.3" height="17.3" fill="rgb(131,72,9)"/>
<rect x="305.9" y="1034.3" width="17.3" height="17.3" fill="rgb(131,72,9)"/>
<rect x="322.6" y="1034.3" width="17.3" height="17.3" fill="rgb(130,71,9)"/>
<rect x="339.3" y="1034.3" width="17.3" height="17.3" fill="rgb(128,67,7)"/>
<rect x="356.0" y="1034.3" width="17.3" height="17.3" fill="rgb(123,61,6)"/>
<rect x="372.7" y="1034.3" width="17.3" height="17.3" fill="rgb(116,52,4)"/>
<rect x="389.4" y="1034.3" width="17.3" height="17.3" fill="rgb(108,42,2)"/>
<rect x="406.1" y="1034.3" width="17.3" height="17.3" fill="rgb(101,34,1)"/>
<rect x="422.8" y="1034.3" width="17.3" height="17.3" fill="rgb(97,31,1)"/>
<rect x="439.5" y="1034.3" width="17.3" height="17.3" fill="rgb(99,33,1)"/>
<rect x="456.2" y="1034.3" width="17.3" height="17.3" fill="rgb(105,39,2)"/>
<rect x="472.9" y="1034.3" width="17.3" height="17.3" fill="rgb(111,46,3)"/>
<rect x="489.6" y="1034.3" width="17.3" height="17.3" fill="rgb(117,53,4)"/>
<rect x="506.3" y="1034.3" width="17.3" height="17.3" fill="rgb(120,58,5)"/>
<rect x="523.0" y="1034.3" width="17.3" height="17.3" fill="rgb(121,58,5)"/>
<rect x="539.7" y="1034.3" width="17.3" height="17.3" fill="rgb(118,54,4)"/>
<rect x="556.4" y="1034.3" width="17.3" height="17.3" fill="rgb(113,48,3)"/>
<rect x="573.1" y="1034.3" width="17.3" height="17.3" fill="rgb(111,46,2)"/>
<rect x="589.8" y="1034.3" width="17.3" height="17.3" fill="rgb(115,50,3)"/>
<rect x="606.5" y="1034.3" width="17.3" height="17.3" fill="rgb(122,60,5)"/>
<rect x="623.1" y="1034.3" width="17.3" height="17.3" fill="rgb(129,69,8)"/>
<rect x="639.8" y="1034.3" width="17.3" height="17.3" fill="rgb(131,72,9)"/>
<rect x="656.5" y="1034.3" width="17.3" height="17.3" fill="rgb(127,66,7)"/>
<rect x="673.2" y="1034.3" width="17.3" height="17.3" fill="rgb(122,60,5)"/>
<rect x="689.9" y="1034.3" width="17.3" height="17.3" fill="rgb(123,60,5)"/>
<rect x="706.6" y="1034.3" width="17.3" height="17.3" fill="rgb(130,70,8)"/>
<rect x="723.3" y="1034.3" width="17.3" height="17.3" fill="rgb(139,83,14)"/>
<rect x="740.0" y="1034.3" width="17.3" height="17.3" fill="rgb(146,93,19)"/>
<rect x="756.7" y="1034.3" width="17.3" height="17.3" fill="rgb(148,95,21)"/>
<rect x="773.4" y="1034.3" width="17.3" height="17.3" fill="rgb(147,93,20)"/>
<rect x="790.1" y="1034.3" width="17.3" height="17.3" fill="rgb(145,92,19)"/>
<rect x="105.6" y="1051.0" width="17.3" height="17.3" fill="rgb(126,65,7)"/>
<rect x="122.3" y="1051.0" width="17.3" height="17.3" fill="rgb(125,64,6)"/>
<rect x="139.0" y="1051.0" width="17.3" height="17.3" fill="rgb(125,63,6)"/>
<rect x="155.7" y="1051.0" width="17.3" height="17.3" fill="rgb(125,64,7)"/>
<rect x="172.4" y="1051.0" width="17.3" height="17.3" fill="rgb(128,67,7)"/>
<rect x="189.1" y="1051.0" width="17.3" height="17.3" fill="rgb(131,71,9)"/>
<rect x="205.8" y="1051.0" width="17.3" height="17.3" fill="rgb(133,74,10)"/>
<rect x="222.5" y="1051.0" width="17.3" height="17.3" fill="rgb(133,74,10)"/>
<rect x="239.2" y="1051.0" width="17.3" height="17.3" fill="rgb(131,72,9)"/>
<rect x="255.9" y="1051.0" width="17.3" height="17.3" fill="rgb(129,69,8)"/>
<rect x="272.6" y="1051.0" width="17.3" height="17.3" fill="rgb(127,67,7)"/>
<rect x="289.3" y="1051.0" width="17.3" height="17.3" fill="rgb(127,67,7)"/>
<rect x="305.9" y="1051.0" width="17.3" height="17.3" fill="rgb(128,67,7)"/>
<rect x="322.6" y="1051.0" width="17.3" height="17.3" fill="rgb(127,67,7)"/>
<rect x="339.3" y="1051.0" width="17.3" height="17.3" fill="rgb(126,64,7)"/>
<rect x="356.0" y="1051.0" width="17.3" height="17.3" fill="rgb(122,60,5)"/>
<rect x="372.7" y="1051.0" width="17.3" height="17.3" fill="rgb(116,52,4)"/>
<rect x="389.4" y="1051.0" width="17.3" height="17.3" fill="rgb(108,43,2)"/>
<rect x="406.1" y="1051.0" width="17.3" height="17.3" fill="rgb(101,35,1)"/>
<rect x="422.8" y="1051.0" width="17.3" height="17.3" fill="rgb(97,31,1)"/>
<rect x="439.5" y="1051.0" width="17.3" height="17.3" fill="rgb(98,32,1)"/>
<rect x="456.2" y="1051.0" width="17.3" height="17.3" fill="rgb(102,36,1)"/>
<rect x="472.9" y="1051.0" width="17.3" height="17.3" fill="rgb(108,42,2)"/>
<rect x="489.6" y="1051.0" width="17.3" height="17.3" fill="rgb(113,48,3)"/>
<rect x="506.3" y="1051.0" width="17.3" height="17.3" fill="rgb(116,52,3)"/>
<rect x="523.0" y="1051.0" width="17.3" height="17.3" fill="rgb(115,51,3)"/>
<rect x="539.7" y="1051.0" width="17.3" height="17.3" fill="rgb(111,46,3)"/>
<rect x="556.4" y="1051.0" width="17.3" height="17.3" fill="rgb(105,39,2)"/>
<rect x="573.1" y="1051.0" width="17.3" height="17.3" fill="rgb(103,36,1)"/>
<rect x="589.8" y="1051.0" width="17.3" height="17.3" fill="rgb(107,41,2)"/>
<rect x="606.5" y="1051.0" width="17.3" height="17.3" fill="rgb(117,53,4)"/>
<rect x="623.1" y="1051.0" width="17.3" height="17.3" fill="rgb(127,66,7)"/>
<rect x="639.8" y="1051.0" width="17.3" height="17.3" fill="rgb(133,74,10)"/>
<rect x="656.5" y="1051.0" width="17.3" height="17.3" fill="rgb(133,75,10)"/>
<rect x="673.2" y="1051.0" width="17.3" height="17.3" fill="rgb(132,74,10)"/>
<rect x="689.9" y="1051.0" width="17.3" height="17.3" fill="rgb(134,76,11)"/>
<rect x="706.6" y="1051.0" width="17.3" height="17.3" fill="rgb(140,84,14)"/>
<rect x="723.3" y="1051.0" width="17.3" height="17.3" fill="rgb(147,94,20)"/>
<rect x="740.0" y="1051.0" width="17.3" height="17.3" fill="rgb(152,101,25)"/>
<rect x="756.7" y="1051.0" width="17.3" height="17.3" fill="rgb(153,103,26)"/>
<rect x="773.4" y="1051.0" width="17.3" height="17.3" fill="rgb(152,101,25)"/>
<rect x="790.1" y="1051.0" width="17.3" height="17.3" fill="rgb(151,100,24)"/>
<rect x="105.6" y="1067.7" width="17.3" height="17.3" fill="rgb(141,86,15)"/>
<rect x="122.3" y="1067.7" width="17.3" height="17.3" fill="rgb(141,86,15)"/>
<rect x="139.0" y="1067.7" width="17.3" height="17.3" fill="rgb(141,86,15)"/>
<rect x="155.7" y="1067.7" width="17.3" height="17.3" fill="rgb(141,86,15)"/>
<rect x="172.4" y="1067.7" width="17.3" height="17.3" fill="rgb(140,85,15)"/>
<rect x="189.1" y="1067.7" width="17.3" height="17.3" fill="rgb(139,83,14)"/>
<rect x="205.8" y="1067.7" width="17.3" height="17.3" fill="rgb(137,79,12)"/>
<rect x="222.5" y="1067.7" width="17.3" height="17.3" fill="rgb(133,74,10)"/>
<rect x="239.2" y="1067.7" width="17.3" height="17.3" fill="rgb(128,68,8)"/>
<rect x="255.9" y="1067.7" width="17.3" height="17.3" fill="rgb(124,62,6)"/>
<rect x="272.6" y="1067.7" width="17.3" height="17.3" fill="rgb(121,59,5)"/>
<rect x="289.3" y="1067.7" width="17.3" height="17.3" fill="rgb(120,58,5)"/>
<rect x="305.9" y="1067.7" width="17.3" height="17.3" fill="rgb(121,58,5)"/>
<rect x="322.6" y="1067.7" width="17.3" height="17.3" fill="rgb(122,59,5)"/>
<rect x="339.3" y="1067.7" width="17.3" height="17.3" fill="rgb(123,61,5)"/>
<rect x="356.0" y="1067.7" width="17.3" height="17.3" fill="rgb(122,60,5)"/>
<rect x="372.7" y="1067.7" width="17.3" height="17.3" fill="rgb(119,56,4)"/>
<rect x="389.4" y="1067.7" width="17.3" height="17.3" fill="rgb(113,48,3)"/>
<rect x="406.1" y="1067.7" width="17.3" height="17.3" fill="rgb(106,41,2)"/>
<rect x="422.8" y="1067.7" width="17.3" height="17.3" fill="rgb(102,36,1)"/>
<rect x="439.5" y="1067.7" width="17.3" height="17.3" fill="rgb(101,35,1)"/>
<rect x="456.2" y="1067.7" width="17.3" height="17.3" fill="rgb(103,37,1)"/>
<rect x="472.9" y="1067.7" width="17.3" height="17.3" fill="rgb(107,41,2)"/>
<rect x="489.6" y="1067.7" width="17.3" height="17.3" fill="rgb(111,45,2)"/>
<rect x="506.3" y="1067.7" width="17.3" height="17.3" fill="rgb(113,48,3)"/>
<rect x="523.0" y="1067.7" width="17.3" height="17.3" fill="rgb(112,47,3)"/>
<rect x="539.7" y="1067.7" width="17.3" height="17.3" fill="rgb(107,41,2)"/>
<rect x="556.4" y="1067.7" width="17.3" height="17.3" fill="rgb(100,34,1)"/>
<rect x="573.1" y="1067.7" width="17.3" height="17.3" fill="rgb(96,30,1)"/>
<rect x="589.8" y="1067.7" width="17.3" height="17.3" fill="rgb(99,33,1)"/>
<rect x="606.5" y="1067.7" width="17.3" height="17.3" fill="rgb(109,43,2)"/>
<rect x="623.1" y="1067.7" width="17.3" height="17.3" fill="rgb(121,58,5)"/>
<rect x="639.8" y="1067.7" width="17.3" height="17.3" fill="rgb(131,71,9)"/>
<rect x="656.5" y="1067.7" width="17.3" height="17.3" fill="rgb(138,81,13)"/>
<rect x="673.2" y="1067.7" width="17.3" height="17.3" fill="rgb(143,89,17)"/>
<rect x="689.9" y="1067.7" width="17.3" height="17.3" fill="rgb(148,95,21)"/>
<rect x="706.6" y="1067.7" width="17.3" height="17.3" fill="rgb(152,101,25)"/>
<rect x="723.3" y="1067.7" width="17.3" height="17.3" fill="rgb(156,106,29)"/>
<rect x="740.0" y="1067.7" width="17.3" height="17.3" fill="rgb(158,109,32)"/>
<rect x="756.7" y="1067.7" width="17.3" height="17.3" fill="rgb(158,110,33)"/>
<rect x="773.4" y="1067.7" width="17.3" height="17.3" fill="rgb(158,110,32)"/>
<rect x="790.1" y="1067.7" width="17.3" height="17.3" fill="rgb(158,109,32)"/>
<rect x="105.6" y="1084.4" width="17.3" height="17.3" fill="rgb(155,105,28)"/>
<rect x="122.3" y="1084.4" width="17.3" height="17.3" fill="rgb(155,106,29)"/>
<rect x="139.0" y="1084.4" width="17.3" height="17.3" fill="rgb(156,107,29)"/>
<rect x="155.7" y="1084.4" width="17.3" height="17.3" fill="rgb(155,105,29)"/>
<rect x="172.4" y="1084.4" width="17.3" height="17.3" fill="rgb(152,101,25)"/>
<rect x="189.1" y="1084.4" width="17.3" height="17.3" fill="rgb(147,93,20)"/>
<rect x="205.8" y="1084.4" width="17.3" height="17.3" fill="rgb(140,84,14)"/>
<rect x="222.5" y="1084.4" width="17.3" height="17.3" fill="rgb(133,74,10)"/>
<rect x="239.2" y="1084.4" width="17.3" height="17.3" fill="rgb(126,65,7)"/>
<rect x="255.9" y="1084.4" width="17.3" height="17.3" fill="rgb(120,57,5)"/>
<rect x="272.6" y="1084.4" width="17.3" height="17.3" fill="rgb(116,52,4)"/>
<rect x="289.3" y="1084.4" width="17.3" height="17.3" fill="rgb(115,50,3)"/>
<rect x="305.9" y="1084.4" width="17.3" height="17.3" fill="rgb(115,50,3)"/>
<rect x="322.6" y="1084.4" width="17.3" height="17.3" fill="rgb(116,53,4)"/>
<rect x="339.3" y="1084.4" width="17.3" height="17.3" fill="rgb(119,56,4)"/>
<rect x="356.0" y="1084.4" width="17.3" height="17.3" fill="rgb(121,59,5)"/>
<rect x="372.7" y="1084.4" width="17.3" height="17.3" fill="rgb(121,58,5)"/>
<rect x="389.4" y="1084.4" width="17.3" height="17.3" fill="rgb(116,52,4)"/>
<rect x="406.1" y="1084.4" width="17.3" height="17.3" fill="rgb(111,45,2)"/>
<rect x="422.8" y="1084.4" width="17.3" height="17.3" fill="rgb(106,40,2)"/>
<rect x="439.5" y="1084.4" width="17.3" height="17.3" fill="rgb(104,38,1)"/>
<rect x="456.2" y="1084.4" width="17.3" height="17.3" fill="rgb(105,39,2)"/>
<rect x="472.9" y="1084.4" width="17.3" height="17.3" fill="rgb(106,41,2)"/>
<rect x="489.6" y="1084.4" width="17.3" height="17.3" fill="rgb(108,43,2)"/>
<rect x="506.3" y="1084.4" width="17.3" height="17.3" fill="rgb(109,44,2)"/>
<rect x="523.0" y="1084.4" width="17.3" height="17.3" fill="rgb(108,42,2)"/>
<rect x="539.7" y="1084.4" width="17.3" height="17.3" fill="rgb(103,36,1)"/>
<rect x="556.4" y="1084.4" width="17.3" height="17.3" fill="rgb(96,30,1)"/>
<rect x="573.1" y="1084.4" width="17.3" height="17.3" fill="rgb(92,26,1)"/>
<rect x="589.8" y="1084.4" width="17.3" height="17.3" fill="rgb(94,28,1)"/>
<rect x="606.5" y="1084.4" width="17.3" height="17.3" fill="rgb(102,36,1)"/>
<rect x="623.1" y="1084.4" width="17.3" height="17.3" fill="rgb(114,50,3)"/>
<rect x="639.8" y="1084.4" width="17.3" height="17.3" fill="rgb(128,67,7)"/>
<rect x="656.5" y="1084.4" width="17.3" height="17.3" fill="rgb(141,85,15)"/>
<rect x="673.2" y="1084.4" width="17.3" height="17.3" fill="rgb(152,102,26)"/>
<rect x="689.9" y="1084.4" width="17.3" height="17.3" fill="rgb(160,113,35)"/>
<rect x="706.6" y="1084.4" width="17.3" height="17.3" fill="rgb(164,119,41)"/>
<rect x="723.3" y="1084.4" width="17.3" height="17.3" fill="rgb(166,121,42)"/>
<rect x="740.0" y="1084.4" width="17.3" height="17.3" fill="rgb(166,121,42)"/>
<rect x="756.7" y="1084.4" width="17.3" height="17.3" fill="rgb(166,121,42)"/>
<rect x="773.4" y="1084.4" width="17.3" height="17.3" fill="rgb(166,121,42)"/>
<rect x="790.1" y="1084.4" width="17.3" height="17.3" fill="rgb(166,121,43)"/>
<rect x="105.6" y="1101.1" width="17.3" height="17.3" fill="rgb(163,117,39)"/>
<rect x="122.3" y="1101.1" width="17.3" height="17.3" fill="rgb(164,118,40)"/>
<rect x="139.0" y="1101.1" width="17.3" height="17.3" fill="rgb(165,119,41)"/>
<rect x="155.7" y="1101.1" width="17.3" height="17.3" fill="rgb(164,118,40)"/>
<rect x="172.4" y="1101.1" width="17.3" height="17.3" fill="rgb(159,111,33)"/>
<rect x="189.1" y="1101.1" width="17.3" height="17.3" fill="rgb(151,100,24)"/>
<rect x="205.8" y="1101.1" width="17.3" height="17.3" fill="rgb(142,87,16)"/>
<rect x="222.5" y="1101.1" width="17.3" height="17.3" fill="rgb(133,75,10)"/>
<rect x="239.2" y="1101.1" width="17.3" height="17.3" fill="rgb(126,64,7)"/>
<rect x="255.9" y="1101.1" width="17.3" height="17.3" fill="rgb(120,56,4)"/>
<rect x="272.6" y="1101.1" width="17.3" height="17.3" fill="rgb(115,51,3)"/>
<rect x="289.3" y="1101.1" width="17.3" height="17.3" fill="rgb(113,48,3)"/>
<rect x="305.9" y="1101.1" width="17.3" height="17.3" fill="rgb(113,48,3)"/>
<rect x="322.6" y="1101.1" width="17.3" height="17.3" fill="rgb(114,49,3)"/>
<rect x="339.3" y="1101.1" width="17.3" height="17.3" fill="rgb(116,52,4)"/>
<rect x="356.0" y="1101.1" width="17.3" height="17.3" fill="rgb(118,55,4)"/>
<rect x="372.7" y="1101.1" width="17.3" height="17.3" fill="rgb(118,54,4)"/>
<rect x="389.4" y="1101.1" width="17.3" height="17.3" fill="rgb(114,50,3)"/>
<rect x="406.1" y="1101.1" width="17.3" height="17.3" fill="rgb(109,44,2)"/>
<rect x="422.8" y="1101.1" width="17.3" height="17.3" fill="rgb(105,39,2)"/>
<rect x="439.5" y="1101.1" width="17.3" height="17.3" fill="rgb(103,37,1)"/>
<rect x="456.2" y="1101.1" width="17.3" height="17.3" fill="rgb(103,37,1)"/>
<rect x="472.9" y="1101.1" width="17.3" height="17.3" fill="rgb(103,37,1)"/>
<rect x="489.6" y="1101.1" width="17.3" height="17.3" fill="rgb(104,38,1)"/>
<rect x="506.3" y="1101.1" width="17.3" height="17.3" fill="rgb(104,38,1)"/>
<rect x="523.0" y="1101.1" width="17.3" height="17.3" fill="rgb(103,36,1)"/>
<rect x="539.7" y="1101.1" width="17.3" height="17.3" fill="rgb(98,32,1)"/>
<rect x="556.4" y="1101.1" width="17.3" height="17.3" fill="rgb(93,27,1)"/>
<rect x="573.1" y="1101.1" width="17.3" height="17.3" fill="rgb(90,25,0)"/>
<rect x="589.8" y="1101.1" width="17.3" height="17.3" fill="rgb(92,26,0)"/>
<rect x="606.5" y="1101.1" width="17.3" height="17.3" fill="rgb(99,32,1)"/>
<rect x="623.1" y="1101.1" width="17.3" height="17.3" fill="rgb(110,45,2)"/>
<rect x="639.8" y="1101.1" width="17.3" height="17.3" fill="rgb(125,64,6)"/>
<rect x="656.5" y="1101.1" width="17.3" height="17.3" fill="rgb(142,87,16)"/>
<rect x="673.2" y="1101.1" width="17.3" height="17.3" fill="rgb(158,110,32)"/>
<rect x="689.9" y="1101.1" width="17.3" height="17.3" fill="rgb(169,126,48)"/>
<rect x="706.6" y="1101.1" width="17.3" height="17.3" fill="rgb(175,134,57)"/>
<rect x="723.3" y="1101.1" width="17.3" height="17.3" fill="rgb(176,136,60)"/>
<rect x="740.0" y="1101.1" width="17.3" height="17.3" fill="rgb(176,135,59)"/>
<rect x="756.7" y="1101.1" width="17.3" height="17.3" fill="rgb(176,135,59)"/>
<rect x="773.4" y="1101.1" width="17.3" height="17.3" fill="rgb(176,135,59)"/>
<rect x="790.1" y="1101.1" width="17.3" height="17.3" fill="rgb(176,135,60)"/>
<rect x="105.6" y="1117.9" width="17.3" height="17.3" fill="rgb(165,120,42)"/>
<rect x="122.3" y="1117.9" width="17.3" height="17.3" fill="rgb(166,121,43)"/>
<rect x="139.0" y="1117.9" width="17.3" height="17.3" fill="rgb(167,123,45)"/>
<rect x="155.7" y="1117.9" width="17.3" height="17.3" fill="rgb(166,121,43)"/>
<rect x="172.4" y="1117.9" width="17.3" height="17.3" fill="rgb(160,113,35)"/>
<rect x="189.1" y="1117.9" width="17.3" height="17.3" fill="rgb(152,101,25)"/>
<rect x="205.8" y="1117.9" width="17.3" height="17.3" fill="rgb(142,87,16)"/>
<rect x="222.5" y="1117.9" width="17.3" height="17.3" fill="rgb(133,75,10)"/>
<rect x="239.2" y="1117.9" width="17.3" height="17.3" fill="rgb(126,65,7)"/>
<rect x="255.9" y="1117.9" width="17.3" height="17.3" fill="rgb(121,58,5)"/>
<rect x="272.6" y="1117.9" width="17.3" height="17.3" fill="rgb(117,53,4)"/>
<rect x="289.3" y="1117.9" width="17.3" height="17.3" fill="rgb(115,51,3)"/>
<rect x="305.9" y="1117.9" width="17.3" height="17.3" fill="rgb(115,51,3)"/>
<rect x="322.6" y="1117.9" width="17.3" height="17.3" fill="rgb(115,50,3)"/>
<rect x="339.3" y="1117.9" width="17.3" height="17.3" fill="rgb(115,50,3)"/>
<rect x="356.0" y="1117.9" width="17.3" height="17.3" fill="rgb(114,49,3)"/>
<rect x="372.7" y="1117.9" width="17.3" height="17.3" fill="rgb(112,47,3)"/>
<rect x="389.4" y="1117.9" width="17.3" height="17.3" fill="rgb(108,43,2)"/>
<rect x="406.1" y="1117.9" width="17.3" height="17.3" fill="rgb(104,38,1)"/>
<rect x="422.8" y="1117.9" width="17.3" height="17.3" fill="rgb(101,35,1)"/>
<rect x="439.5" y="1117.9" width="17.3" height="17.3" fill="rgb(99,33,1)"/>
<rect x="456.2" y="1117.9" width="17.3" height="17.3" fill="rgb(99,33,1)"/>
<rect x="472.9" y="1117.9" width="17.3" height="17.3" fill="rgb(99,33,1)"/>
<rect x="489.6" y="1117.9" width="17.3" height="17.3" fill="rgb(99,33,1)"/>
<rect x="506.3" y="1117.9" width="17.3" height="17.3" fill="rgb(99,33,1)"/>
<rect x="523.0" y="1117.9" width="17.3" height="17.3" fill="rgb(98,31,1)"/>
<rect x="539.7" y="1117.9" width="17.3" height="17.3" fill="rgb(95,29,1)"/>
<rect x="556.4" y="1117.9" width="17.3" height="17.3" fill="rgb(91,26,0)"/>
<rect x="573.1" y="1117.9" width="17.3" height="17.3" fill="rgb(90,24,0)"/>
<rect x="589.8" y="1117.9" width="17.3" height="17.3" fill="rgb(91,26,0)"/>
<rect x="606.5" y="1117.9" width="17.3" height="17.3" fill="rgb(97,31,1)"/>
<rect x="623.1" y="1117.9" width="17.3" height="17.3" fill="rgb(108,42,2)"/>
<rect x="639.8" y="1117.9" width="17.3" height="17.3" fill="rgb(123,61,6)"/>
<rect x="656.5" y="1117.9" width="17.3" height="17.3" fill="rgb(142,86,16)"/>
<rect x="673.2" y="1117.9" width="17.3" height="17.3" fill="rgb(159,112,34)"/>
<rect x="689.9" y="1117.9" width="17.3" height="17.3" fill="rgb(173,132,55)"/>
<rect x="706.6" y="1117.9" width="17.3" height="17.3" fill="rgb(181,143,69)"/>
<rect x="723.3" y="1117.9" width="17.3" height="17.3" fill="rgb(184,148,76)"/>
<rect x="740.0" y="1117.9" width="17.3" height="17.3" fill="rgb(186,150,79)"/>
<rect x="756.7" y="1117.9" width="17.3" height="17.3" fill="rgb(186,150,79)"/>
<rect x="773.4" y="1117.9" width="17.3" height="17.3" fill="rgb(186,150,79)"/>
<rect x="790.1" y="1117.9" width="17.3" height="17.3" fill="rgb(185,149,78)"/>
<rect x="105.6" y="1134.6" width="17.3" height="17.3" fill="rgb(161,114,36)"/>
<rect x="122.3" y="1134.6" width="17.3" height="17.3" fill="rgb(162,115,37)"/>
<rect x="139.0" y="1134.6" width="17.3" height="17.3" fill="rgb(163,116,38)"/>
<rect x="155.7" y="1134.6" width="17.3" height="17.3" fill="rgb(161,115,37)"/>
<rect x="172.4" y="1134.6" width="17.3" height="17.3" fill="rgb(157,108,31)"/>
<rect x="189.1" y="1134.6" width="17.3" height="17.3" fill="rgb(149,97,23)"/>
<rect x="205.8" y="1134.6" width="17.3" height="17.3" fill="rgb(141,86,15)"/>
<rect x="222.5" y="1134.6" width="17.3" height="17.3" fill="rgb(133,74,10)"/>
<rect x="239.2" y="1134.6" width="17.3" height="17.3" fill="rgb(126,65,7)"/>
<rect x="255.9" y="1134.6" width="17.3" height="17.3" fill="rgb(122,60,5)"/>
<rect x="272.6" y="1134.6" width="17.3" height="17.3" fill="rgb(120,57,5)"/>
<rect x="289.3" y="1134.6" width="17.3" height="17.3" fill="rgb(120,57,5)"/>
<rect x="305.9" y="1134.6" width="17.3" height="17.3" fill="rgb(120,57,5)"/>
<rect x="322.6" y="1134.6" width="17.3" height="17.3" fill="rgb(119,55,4)"/>
<rect x="339.3" y="1134.6" width="17.3" height="17.3" fill="rgb(115,51,3)"/>
<rect x="356.0" y="1134.6" width="17.3" height="17.3" fill="rgb(111,46,2)"/>
<rect x="372.7" y="1134.6" width="17.3" height="17.3" fill="rgb(106,40,2)"/>
<rect x="389.4" y="1134.6" width="17.3" height="17.3" fill="rgb(103,36,1)"/>
<rect x="406.1" y="1134.6" width="17.3" height="17.3" fill="rgb(100,34,1)"/>
<rect x="422.8" y="1134.6" width="17.3" height="17.3" fill="rgb(98,32,1)"/>
<rect x="439.5" y="1134.6" width="17.3" height="17.3" fill="rgb(96,30,1)"/>
<rect x="456.2" y="1134.6" width="17.3" height="17.3" fill="rgb(95,29,1)"/>
<rect x="472.9" y="1134.6" width="17.3" height="17.3" fill="rgb(95,29,1)"/>
<rect x="489.6" y="1134.6" width="17.3" height="17.3" fill="rgb(95,29,1)"/>
<rect x="506.3" y="1134.6" width="17.3" height="17.3" fill="rgb(96,30,1)"/>
<rect x="523.0" y="1134.6" width="17.3" height="17.3" fill="rgb(95,29,1)"/>
<rect x="539.7" y="1134.6" width="17.3" height="17.3" fill="rgb(93,27,1)"/>
<rect x="556.4" y="1134.6" width="17.3" height="17.3" fill="rgb(91,25,0)"/>
<rect x="573.1" y="1134.6" width="17.3" height="17.3" fill="rgb(90,24,0)"/>
<rect x="589.8" y="1134.6" width="17.3" height="17.3" fill="rgb(91,25,0)"/>
<rect x="606.5" y="1134.6" width="17.3" height="17.3" fill="rgb(96,30,1)"/>
<rect x="623.1" y="1134.6" width="17.3" height="17.3" fill="rgb(106,40,2)"/>
<rect x="639.8" y="1134.6" width="17.3" height="17.3" fill="rgb(120,57,5)"/>
<rect x="656.5" y="1134.6" width="17.3" height="17.3" fill="rgb(138,82,13)"/>
<rect x="673.2" y="1134.6" width="17.3" height="17.3" fill="rgb(156,107,30)"/>
<rect x="689.9" y="1134.6" width="17.3" height="17.3" fill="rgb(172,129,52)"/>
<rect x="706.6" y="1134.6" width="17.3" height="17.3" fill="rgb(182,144,71)"/>
<rect x="723.3" y="1134.6" width="17.3" height="17.3" fill="rgb(188,153,84)"/>
<rect x="740.0" y="1134.6" width="17.3" height="17.3" fill="rgb(191,157,90)"/>
<rect x="756.7" y="1134.6" width="17.3" height="17.3" fill="rgb(191,158,91)"/>
<rect x="773.4" y="1134.6" width="17.3" height="17.3" fill="rgb(191,158,90)"/>
<rect x="790.1" y="1134.6" width="17.3" height="17.3" fill="rgb(191,157,89)"/>
<rect x="105.6" y="1151.3" width="17.3" height="17.3" fill="rgb(151,100,24)"/>
<rect x="122.3" y="1151.3" width="17.3" height="17.3" fill="rgb(151,100,24)"/>
<rect x="139.0" y="1151.3" width="17.3" height="17.3" fill="rgb(152,101,25)"/>
<rect x="155.7" y="1151.3" width="17.3" height="17.3" fill="rgb(151,100,24)"/>
<rect x="172.4" y="1151.3" width="17.3" height="17.3" fill="rgb(148,96,22)"/>
<rect x="189.1" y="1151.3" width="17.3" height="17.3" fill="rgb(144,90,17)"/>
<rect x="205.8" y="1151.3" width="17.3" height="17.3" fill="rgb(138,81,13)"/>
<rect x="222.5" y="1151.3" width="17.3" height="17.3" fill="rgb(131,72,9)"/>
<rect x="239.2" y="1151.3" width="17.3" height="17.3" fill="rgb(125,64,6)"/>
<rect x="255.9" y="1151.3" width="17.3" height="17.3" fill="rgb(122,59,5)"/>
<rect x="272.6" y="1151.3" width="17.3" height="17.3" fill="rgb(122,59,5)"/>
<rect x="289.3" y="1151.3" width="17.3" height="17.3" fill="rgb(125,63,6)"/>
<rect x="305.9" y="1151.3" width="17.3" height="17.3" fill="rgb(127,66,7)"/>
<rect x="322.6" y="1151.3" width="17.3" height="17.3" fill="rgb(125,64,6)"/>
<rect x="339.3" y="1151.3" width="17.3" height="17.3" fill="rgb(119,56,4)"/>
<rect x="356.0" y="1151.3" width="17.3" height="17.3" fill="rgb(111,46,2)"/>
<rect x="372.7" y="1151.3" width="17.3" height="17.3" fill="rgb(104,38,1)"/>
<rect x="389.4" y="1151.3" width="17.3" height="17.3" fill="rgb(101,34,1)"/>
<rect x="406.1" y="1151.3" width="17.3" height="17.3" fill="rgb(99,33,1)"/>
<rect x="422.8" y="1151.3" width="17.3" height="17.3" fill="rgb(98,32,1)"/>
<rect x="439.5" y="1151.3" width="17.3" height="17.3" fill="rgb(97,31,1)"/>
<rect x="456.2" y="1151.3" width="17.3" height="17.3" fill="rgb(95,29,1)"/>
<rect x="472.9" y="1151.3" width="17.3" height="17.3" fill="rgb(94,28,1)"/>
<rect x="489.6" y="1151.3" width="17.3" height="17.3" fill="rgb(95,29,1)"/>
<rect x="506.3" y="1151.3" width="17.3" height="17.3" fill="rgb(96,30,1)"/>
<rect x="523.0" y="1151.3" width="17.3" height="17.3" fill="rgb(97,30,1)"/>
<rect x="539.7" y="1151.3" width="17.3" height="17.3" fill="rgb(95,29,1)"/>
<rect x="556.4" y="1151.3" width="17.3" height="17.3" fill="rgb(92,26,1)"/>
<rect x="573.1" y="1151.3" width="17.3" height="17.3" fill="rgb(89,24,0)"/>
<rect x="589.8" y="1151.3" width="17.3" height="17.3" fill="rgb(90,24,0)"/>
<rect x="606.5" y="1151.3" width="17.3" height="17.3" fill="rgb(94,28,1)"/>
<rect x="623.1" y="1151.3" width="17.3" height="17.3" fill="rgb(102,36,1)"/>
<rect x="639.8" y="1151.3" width="17.3" height="17.3" fill="rgb(115,51,3)"/>
<rect x="656.5" y="1151.3" width="17.3" height="17.3" fill="rgb(132,73,9)"/>
<rect x="673.2" y="1151.3" width="17.3" height="17.3" fill="rgb(149,97,22)"/>
<rect x="689.9" y="1151.3" width="17.3" height="17.3" fill="rgb(164,119,41)"/>
<rect x="706.6" y="1151.3" width="17.3" height="17.3" fill="rgb(176,136,60)"/>
<rect x="723.3" y="1151.3" width="17.3" height="17.3" fill="rgb(184,148,76)"/>
<rect x="740.0" y="1151.3" width="17.3" height="17.3" fill="rgb(189,154,85)"/>
<rect x="756.7" y="1151.3" width="17.3" height="17.3" fill="rgb(189,155,87)"/>
<rect x="773.4" y="1151.3" width="17.3" height="17.3" fill="rgb(189,154,85)"/>
<rect x="790.1" y="1151.3" width="17.3" height="17.3" fill="rgb(188,153,84)"/>
<rect x="105.6" y="1168.0" width="17.3" height="17.3" fill="rgb(138,81,13)"/>
<rect x="122.3" y="1168.0" width="17.3" height="17.3" fill="rgb(138,81,13)"/>
<rect x="139.0" y="1168.0" width="17.3" height="17.3" fill="rgb(138,81,13)"/>
<rect x="155.7" y="1168.0" width="17.3" height="17.3" fill="rgb(138,81,13)"/>
<rect x="172.4" y="1168.0" width="17.3" height="17.3" fill="rgb(138,81,13)"/>
<rect x="189.1" y="1168.0" width="17.3" height="17.3" fill="rgb(137,80,12)"/>
<rect x="205.8" y="1168.0" width="17.3" height="17.3" fill="rgb(134,76,11)"/>
<rect x="222.5" y="1168.0" width="17.3" height="17.3" fill="rgb(129,70,8)"/>
<rect x="239.2" y="1168.0" width="17.3" height="17.3" fill="rgb(124,62,6)"/>
<rect x="255.9" y="1168.0" width="17.3" height="17.3" fill="rgb(121,58,5)"/>
<rect x="272.6" y="1168.0" width="17.3" height="17.3" fill="rgb(123,61,6)"/>
<rect x="289.3" y="1168.0" width="17.3" height="17.3" fill="rgb(129,69,8)"/>
<rect x="305.9" y="1168.0" width="17.3" height="17.3" fill="rgb(134,75,10)"/>
<rect x="322.6" y="1168.0" width="17.3" height="17.3" fill="rgb(132,73,10)"/>
<rect x="339.3" y="1168.0" width="17.3" height="17.3" fill="rgb(124,62,6)"/>
<rect x="356.0" y="1168.0" width="17.3" height="17.3" fill="rgb(113,49,3)"/>
<rect x="372.7" y="1168.0" width="17.3" height="17.3" fill="rgb(105,39,2)"/>
<rect x="389.4" y="1168.0" width="17.3" height="17.3" fill="rgb(102,36,1)"/>
<rect x="406.1" y="1168.0" width="17.3" height="17.3" fill="rgb(102,36,1)"/>
<rect x="422.8" y="1168.0" width="17.3" height="17.3" fill="rgb(102,36,1)"/>
<rect x="439.5" y="1168.0" width="17.3" height="17.3" fill="rgb(100,33,1)"/>
<rect x="456.2" y="1168.0" width="17.3" height="17.3" fill="rgb(97,31,1)"/>
<rect x="472.9" y="1168.0" width="17.3" height="17.3" fill="rgb(95,29,1)"/>
<rect x="489.6" y="1168.0" width="17.3" height="17.3" fill="rgb(97,30,1)"/>
<rect x="506.3" y="1168.0" width="17.3" height="17.3" fill="rgb(99,33,1)"/>
<rect x="523.0" y="1168.0" width="17.3" height="17.3" fill="rgb(101,35,1)"/>
<rect x="539.7" y="1168.0" width="17.3" height="17.3" fill="rgb(99,32,1)"/>
<rect x="556.4" y="1168.0" width="17.3" height="17.3" fill="rgb(94,28,1)"/>
<rect x="573.1" y="1168.0" width="17.3" height="17.3" fill="rgb(90,24,0)"/>
<rect x="589.8" y="1168.0" width="17.3" height="17.3" fill="rgb(88,23,0)"/>
<rect x="606.5" y="1168.0" width="17.3" height="17.3" fill="rgb(91,26,0)"/>
<rect x="623.1" y="1168.0" width="17.3" height="17.3" fill="rgb(99,32,1)"/>
<rect x="639.8" y="1168.0" width="17.3" height="17.3" fill="rgb(110,44,2)"/>
<rect x="656.5" y="1168.0" width="17.3" height="17.3" fill="rgb(124,62,6)"/>
<rect x="673.2" y="1168.0" width="17.3" height="17.3" fill="rgb(139,83,14)"/>
<rect x="689.9" y="1168.0" width="17.3" height="17.3" fill="rgb(154,104,27)"/>
<rect x="706.6" y="1168.0" width="17.3" height="17.3" fill="rgb(166,122,44)"/>
<rect x="723.3" y="1168.0" width="17.3" height="17.3" fill="rgb(175,134,58)"/>
<rect x="740.0" y="1168.0" width="17.3" height="17.3" fill="rgb(180,142,68)"/>
<rect x="756.7" y="1168.0" width="17.3" height="17.3" fill="rgb(181,143,70)"/>
<rect x="773.4" y="1168.0" width="17.3" height="17.3" fill="rgb(180,142,68)"/>
<rect x="790.1" y="1168.0" width="17.3" height="17.3" fill="rgb(180,141,67)"/>
<rect x="105.6" y="1184.8" width="17.3" height="17.3" fill="rgb(125,63,6)"/>
<rect x="122.3" y="1184.8" width="17.3" height="17.3" fill="rgb(125,63,6)"/>
<rect x="139.0" y="1184.8" width="17.3" height="17.3" fill="rgb(124,62,6)"/>
<rect x="155.7" y="1184.8" width="17.3" height="17.3" fill="rgb(125,63,6)"/>
<rect x="172.4" y="1184.8" width="17.3" height="17.3" fill="rgb(127,66,7)"/>
<rect x="189.1" y="1184.8" width="17.3" height="17.3" fill="rgb(130,70,9)"/>
<rect x="205.8" y="1184.8" width="17.3" height="17.3" fill="rgb(131,72,9)"/>
<rect x="222.5" y="1184.8" width="17.3" height="17.3" fill="rgb(129,69,8)"/>
<rect x="239.2" y="1184.8" width="17.3" height="17.3" fill="rgb(125,63,6)"/>
<rect x="255.9" y="1184.8" width="17.3" height="17.3" fill="rgb(122,60,5)"/>
<rect x="272.6" y="1184.8" width="17.3" height="17.3" fill="rgb(125,63,6)"/>
<rect x="289.3" y="1184.8" width="17.3" height="17.3" fill="rgb(132,72,9)"/>
<rect x="305.9" y="1184.8" width="17.3" height="17.3" fill="rgb(137,80,13)"/>
<rect x="322.6" y="1184.8" width="17.3" height="17.3" fill="rgb(136,79,12)"/>
<rect x="339.3" y="1184.8" width="17.3" height="17.3" fill="rgb(128,68,8)"/>
<rect x="356.0" y="1184.8" width="17.3" height="17.3" fill="rgb(117,53,4)"/>
<rect x="372.7" y="1184.8" width="17.3" height="17.3" fill="rgb(109,44,2)"/>
<rect x="389.4" y="1184.8" width="17.3" height="17.3" fill="rgb(106,40,2)"/>
<rect x="406.1" y="1184.8" width="17.3" height="17.3" fill="rgb(106,40,2)"/>
<rect x="422.8" y="1184.8" width="17.3" height="17.3" fill="rgb(106,40,2)"/>
<rect x="439.5" y="1184.8" width="17.3" height="17.3" fill="rgb(102,36,1)"/>
<rect x="456.2" y="1184.8" width="17.3" height="17.3" fill="rgb(99,32,1)"/>
<rect x="472.9" y="1184.8" width="17.3" height="17.3" fill="rgb(97,31,1)"/>
<rect x="489.6" y="1184.8" width="17.3" height="17.3" fill="rgb(99,33,1)"/>
<rect x="506.3" y="1184.8" width="17.3" height="17.3" fill="rgb(103,37,1)"/>
<rect x="523.0" y="1184.8" width="17.3" height="17.3" fill="rgb(105,39,2)"/>
<rect x="539.7" y="1184.8" width="17.3" height="17.3" fill="rgb(103,36,1)"/>
<rect x="556.4" y="1184.8" width="17.3" height="17.3" fill="rgb(97,30,1)"/>
<rect x="573.1" y="1184.8" width="17.3" height="17.3" fill="rgb(91,25,0)"/>
<rect x="589.8" y="1184.8" width="17.3" height="17.3" fill="rgb(88,23,0)"/>
<rect x="606.5" y="1184.8" width="17.3" height="17.3" fill="rgb(90,24,0)"/>
<rect x="623.1" y="1184.8" width="17.3" height="17.3" fill="rgb(96,30,1)"/>
<rect x="639.8" y="1184.8" width="17.3" height="17.3" fill="rgb(106,40,2)"/>
<rect x="656.5" y="1184.8" width="17.3" height="17.3" fill="rgb(118,54,4)"/>
<rect x="673.2" y="1184.8" width="17.3" height="17.3" fill="rgb(131,72,9)"/>
<rect x="689.9" y="1184.8" width="17.3" height="17.3" fill="rgb(144,90,18)"/>
<rect x="706.6" y="1184.8" width="17.3" height="17.3" fill="rgb(156,107,30)"/>
<rect x="723.3" y="1184.8" width="17.3" height="17.3" fill="rgb(165,120,42)"/>
<rect x="740.0" y="1184.8" width="17.3" height="17.3" fill="rgb(170,127,50)"/>
<rect x="756.7" y="1184.8" width="17.3" height="17.3" fill="rgb(171,129,52)"/>
<rect x="773.4" y="1184.8" width="17.3" height="17.3" fill="rgb(170,128,50)"/>
<rect x="790.1" y="1184.8" width="17.3" height="17.3" fill="rgb(170,126,49)"/>
<rect x="105.6" y="1201.5" width="17.3" height="17.3" fill="rgb(116,52,4)"/>
<rect x="122.3" y="1201.5" width="17.3" height="17.3" fill="rgb(116,51,3)"/>
<rect x="139.0" y="1201.5" width="17.3" height="17.3" fill="rgb(115,50,3)"/>
<rect x="155.7" y="1201.5" width="17.3" height="17.3" fill="rgb(116,52,3)"/>
<rect x="172.4" y="1201.5" width="17.3" height="17.3" fill="rgb(120,57,5)"/>
<rect x="189.1" y="1201.5" width="17.3" height="17.3" fill="rgb(126,65,7)"/>
<rect x="205.8" y="1201.5" width="17.3" height="17.3" fill="rgb(131,71,9)"/>
<rect x="222.5" y="1201.5" width="17.3" height="17.3" fill="rgb(131,72,9)"/>
<rect x="239.2" y="1201.5" width="17.3" height="17.3" fill="rgb(129,69,8)"/>
<rect x="255.9" y="1201.5" width="17.3" height="17.3" fill="rgb(127,66,7)"/>
<rect x="272.6" y="1201.5" width="17.3" height="17.3" fill="rgb(128,68,8)"/>
<rect x="289.3" y="1201.5" width="17.3" height="17.3" fill="rgb(132,74,10)"/>
<rect x="305.9" y="1201.5" width="17.3" height="17.3" fill="rgb(136,78,12)"/>
<rect x="322.6" y="1201.5" width="17.3" height="17.3" fill="rgb(135,77,11)"/>
<rect x="339.3" y="1201.5" width="17.3" height="17.3" fill="rgb(129,69,8)"/>
<rect x="356.0" y="1201.5" width="17.3" height="17.3" fill="rgb(121,58,5)"/>
<rect x="372.7" y="1201.5" width="17.3" height="17.3" fill="rgb(114,50,3)"/>
<rect x="389.4" y="1201.5" width="17.3" height="17.3" fill="rgb(111,45,2)"/>
<rect x="406.1" y="1201.5" width="17.3" height="17.3" fill="rgb(108,43,2)"/>
<rect x="422.8" y="1201.5" width="17.3" height="17.3" fill="rgb(106,40,2)"/>
<rect x="439.5" y="1201.5" width="17.3" height="17.3" fill="rgb(103,36,1)"/>
<rect x="456.2" y="1201.5" width="17.3" height="17.3" fill="rgb(99,33,1)"/>
<rect x="472.9" y="1201.5" width="17.3" height="17.3" fill="rgb(98,32,1)"/>
<rect x="489.6" y="1201.5" width="17.3" height="17.3" fill="rgb(101,35,1)"/>
<rect x="506.3" y="1201.5" width="17.3" height="17.3" fill="rgb(105,39,2)"/>
<rect x="523.0" y="1201.5" width="17.3" height="17.3" fill="rgb(108,42,2)"/>
<rect x="539.7" y="1201.5" width="17.3" height="17.3" fill="rgb(105,39,2)"/>
<rect x="556.4" y="1201.5" width="17.3" height="17.3" fill="rgb(99,33,1)"/>
<rect x="573.1" y="1201.5" width="17.3" height="17.3" fill="rgb(93,27,1)"/>
<rect x="589.8" y="1201.5" width="17.3" height="17.3" fill="rgb(90,25,0)"/>
<rect x="606.5" y="1201.5" width="17.3" height="17.3" fill="rgb(92,26,1)"/>
<rect x="623.1" y="1201.5" width="17.3" height="17.3" fill="rgb(97,31,1)"/>
<rect x="639.8" y="1201.5" width="17.3" height="17.3" fill="rgb(106,40,2)"/>
<rect x="656.5" y="1201.5" width="17.3" height="17.3" fill="rgb(116,52,4)"/>
<rect x="673.2" y="1201.5" width="17.3" height="17.3" fill="rgb(128,67,7)"/>
<rect x="689.9" y="1201.5" width="17.3" height="17.3" fill="rgb(139,83,14)"/>
<rect x="706.6" y="1201.5" width="17.3" height="17.3" fill="rgb(149,98,23)"/>
<rect x="723.3" y="1201.5" width="17.3" height="17.3" fill="rgb(158,109,32)"/>
<rect x="740.0" y="1201.5" width="17.3" height="17.3" fill="rgb(163,116,38)"/>
<rect x="756.7" y="1201.5" width="17.3" height="17.3" fill="rgb(164,118,40)"/>
<rect x="773.4" y="1201.5" width="17.3" height="17.3" fill="rgb(163,117,39)"/>
<rect x="790.1" y="1201.5" width="17.3" height="17.3" fill="rgb(162,116,38)"/>
<rect x="105.6" y="1218.2" width="17.3" height="17.3" fill="rgb(113,49,3)"/>
<rect x="122.3" y="1218.2" width="17.3" height="17.3" fill="rgb(113,48,3)"/>
<rect x="139.0" y="1218.2" width="17.3" height="17.3" fill="rgb(112,47,3)"/>
<rect x="155.7" y="1218.2" width="17.3" height="17.3" fill="rgb(113,48,3)"/>
<rect x="172.4" y="1218.2" width="17.3" height="17.3" fill="rgb(118,55,4)"/>
<rect x="189.1" y="1218.2" width="17.3" height="17.3" fill="rgb(126,64,7)"/>
<rect x="205.8" y="1218.2" width="17.3" height="17.3" fill="rgb(132,74,10)"/>
<rect x="222.5" y="1218.2" width="17.3" height="17.3" fill="rgb(136,78,12)"/>
<rect x="239.2" y="1218.2" width="17.3" height="17.3" fill="rgb(136,79,12)"/>
<rect x="255.9" y="1218.2" width="17.3" height="17.3" fill="rgb(134,76,11)"/>
<rect x="272.6" y="1218.2" width="17.3" height="17.3" fill="rgb(132,74,10)"/>
<rect x="289.3" y="1218.2" width="17.3" height="17.3" fill="rgb(131,72,9)"/>
<rect x="305.9" y="1218.2" width="17.3" height="17.3" fill="rgb(130,70,8)"/>
<rect x="322.6" y="1218.2" width="17.3" height="17.3" fill="rgb(128,67,7)"/>
<rect x="339.3" y="1218.2" width="17.3" height="17.3" fill="rgb(126,64,7)"/>
<rect x="356.0" y="1218.2" width="17.3" height="17.3" fill="rgb(123,60,5)"/>
<rect x="372.7" y="1218.2" width="17.3" height="17.3" fill="rgb(119,55,4)"/>
<rect x="389.4" y="1218.2" width="17.3" height="17.3" fill="rgb(114,50,3)"/>
<rect x="406.1" y="1218.2" width="17.3" height="17.3" fill="rgb(109,44,2)"/>
<rect x="422.8" y="1218.2" width="17.3" height="17.3" fill="rgb(105,39,2)"/>
<rect x="439.5" y="1218.2" width="17.3" height="17.3" fill="rgb(101,35,1)"/>
<rect x="456.2" y="1218.2" width="17.3" height="17.3" fill="rgb(99,33,1)"/>
<rect x="472.9" y="1218.2" width="17.3" height="17.3" fill="rgb(99,33,1)"/>
<rect x="489.6" y="1218.2" width="17.3" height="17.3" fill="rgb(103,37,1)"/>
<rect x="506.3" y="1218.2" width="17.3" height="17.3" fill="rgb(107,41,2)"/>
<rect x="523.0" y="1218.2" width="17.3" height="17.3" fill="rgb(109,44,2)"/>
<rect x="539.7" y="1218.2" width="17.3" height="17.3" fill="rgb(107,42,2)"/>
<rect x="556.4" y="1218.2" width="17.3" height="17.3" fill="rgb(103,36,1)"/>
<rect x="573.1" y="1218.2" width="17.3" height="17.3" fill="rgb(98,32,1)"/>
<rect x="589.8" y="1218.2" width="17.3" height="17.3" fill="rgb(96,29,1)"/>
<rect x="606.5" y="1218.2" width="17.3" height="17.3" fill="rgb(97,31,1)"/>
<rect x="623.1" y="1218.2" width="17.3" height="17.3" fill="rgb(101,35,1)"/>
<rect x="639.8" y="1218.2" width="17.3" height="17.3" fill="rgb(109,43,2)"/>
<rect x="656.5" y="1218.2" width="17.3" height="17.3" fill="rgb(118,54,4)"/>
<rect x="673.2" y="1218.2" width="17.3" height="17.3" fill="rgb(128,67,7)"/>
<rect x="689.9" y="1218.2" width="17.3" height="17.3" fill="rgb(137,80,13)"/>
<rect x="706.6" y="1218.2" width="17.3" height="17.3" fill="rgb(146,93,19)"/>
<rect x="723.3" y="1218.2" width="17.3" height="17.3" fill="rgb(153,103,26)"/>
<rect x="740.0" y="1218.2" width="17.3" height="17.3" fill="rgb(157,108,31)"/>
<rect x="756.7" y="1218.2" width="17.3" height="17.3" fill="rgb(158,110,32)"/>
<rect x="773.4" y="1218.2" width="17.3" height="17.3" fill="rgb(157,109,31)"/>
<rect x="790.1" y="1218.2" width="17.3" height="17.3" fill="rgb(157,108,31)"/>
<rect x="105.6" y="1234.9" width="17.3" height="17.3" fill="rgb(117,53,4)"/>
<rect x="122.3" y="1234.9" width="17.3" height="17.3" fill="rgb(116,52,3)"/>
<rect x="139.0" y="1234.9" width="17.3" height="17.3" fill="rgb(115,51,3)"/>
<rect x="155.7" y="1234.9" width="17.3" height="17.3" fill="rgb(116,52,4)"/>
<rect x="172.4" y="1234.9" width="17.3" height="17.3" fill="rgb(121,58,5)"/>
<rect x="189.1" y="1234.9" width="17.3" height="17.3" fill="rgb(128,67,7)"/>
<rect x="205.8" y="1234.9" width="17.3" height="17.3" fill="rgb(135,77,11)"/>
<rect x="222.5" y="1234.9" width="17.3" height="17.3" fill="rgb(140,84,14)"/>
<rect x="239.2" y="1234.9" width="17.3" height="17.3" fill="rgb(141,86,16)"/>
<rect x="255.9" y="1234.9" width="17.3" height="17.3" fill="rgb(140,84,14)"/>
<rect x="272.6" y="1234.9" width="17.3" height="17.3" fill="rgb(134,77,11)"/>
<rect x="289.3" y="1234.9" width="17.3" height="17.3" fill="rgb(127,67,7)"/>
<rect x="305.9" y="1234.9" width="17.3" height="17.3" fill="rgb(121,58,5)"/>
<rect x="322.6" y="1234.9" width="17.3" height="17.3" fill="rgb(118,54,4)"/>
<rect x="339.3" y="1234.9" width="17.3" height="17.3" fill="rgb(118,55,4)"/>
<rect x="356.0" y="1234.9" width="17.3" height="17.3" fill="rgb(120,57,5)"/>
<rect x="372.7" y="1234.9" width="17.3" height="17.3" fill="rgb(120,57,5)"/>
<rect x="389.4" y="1234.9" width="17.3" height="17.3" fill="rgb(116,52,3)"/>
<rect x="406.1" y="1234.9" width="17.3" height="17.3" fill="rgb(110,45,2)"/>
<rect x="422.8" y="1234.9" width="17.3" height="17.3" fill="rgb(104,38,2)"/>
<rect x="439.5" y="1234.9" width="17.3" height="17.3" fill="rgb(101,35,1)"/>
<rect x="456.2" y="1234.9" width="17.3" height="17.3" fill="rgb(101,35,1)"/>
<rect x="472.9" y="1234.9" width="17.3" height="17.3" fill="rgb(103,37,1)"/>
<rect x="489.6" y="1234.9" width="17.3" height="17.3" fill="rgb(107,41,2)"/>
<rect x="506.3" y="1234.9" width="17.3" height="17.3" fill="rgb(111,46,2)"/>
<rect x="523.0" y="1234.9" width="17.3" height="17.3" fill="rgb(113,49,3)"/>
<rect x="539.7" y="1234.9" width="17.3" height="17.3" fill="rgb(112,47,3)"/>
<rect x="556.4" y="1234.9" width="17.3" height="17.3" fill="rgb(108,42,2)"/>
<rect x="573.1" y="1234.9" width="17.3" height="17.3" fill="rgb(104,38,1)"/>
<rect x="589.8" y="1234.9" width="17.3" height="17.3" fill="rgb(102,36,1)"/>
<rect x="606.5" y="1234.9" width="17.3" height="17.3" fill="rgb(103,37,1)"/>
<rect x="623.1" y="1234.9" width="17.3" height="17.3" fill="rgb(107,41,2)"/>
<rect x="639.8" y="1234.9" width="17.3" height="17.3" fill="rgb(113,48,3)"/>
<rect x="656.5" y="1234.9" width="17.3" height="17.3" fill="rgb(120,57,5)"/>
<rect x="673.2" y="1234.9" width="17.3" height="17.3" fill="rgb(128,67,7)"/>
<rect x="689.9" y="1234.9" width="17.3" height="17.3" fill="rgb(135,78,11)"/>
<rect x="706.6" y="1234.9" width="17.3" height="17.3" fill="rgb(142,87,16)"/>
<rect x="723.3" y="1234.9" width="17.3" height="17.3" fill="rgb(147,95,21)"/>
<rect x="740.0" y="1234.9" width="17.3" height="17.3" fill="rgb(150,99,24)"/>
<rect x="756.7" y="1234.9" width="17.3" height="17.3" fill="rgb(151,100,24)"/>
<rect x="773.4" y="1234.9" width="17.3" height="17.3" fill="rgb(151,99,24)"/>
<rect x="790.1" y="1234.9" width="17.3" height="17.3" fill="rgb(150,99,23)"/>
<rect x="105.6" y="1251.6" width="17.3" height="17.3" fill="rgb(126,65,7)"/>
<rect x="122.3" y="1251.6" width="17.3" height="17.3" fill="rgb(126,64,7)"/>
<rect x="139.0" y="1251.6" width="17.3" height="17.3" fill="rgb(125,64,6)"/>
<rect x="155.7" y="1251.6" width="17.3" height="17.3" fill="rgb(126,65,7)"/>
<rect x="172.4" y="1251.6" width="17.3" height="17.3" fill="rgb(129,68,8)"/>
<rect x="189.1" y="1251.6" width="17.3" height="17.3" fill="rgb(133,74,10)"/>
<rect x="205.8" y="1251.6" width="17.3" height="17.3" fill="rgb(137,80,13)"/>
<rect x="222.5" y="1251.6" width="17.3" height="17.3" fill="rgb(141,85,15)"/>
<rect x="239.2" y="1251.6" width="17.3" height="17.3" fill="rgb(142,87,16)"/>
<rect x="255.9" y="1251.6" width="17.3" height="17.3" fill="rgb(139,83,14)"/>
<rect x="272.6" y="1251.6" width="17.3" height="17.3" fill="rgb(132,73,9)"/>
<rect x="289.3" y="1251.6" width="17.3" height="17.3" fill="rgb(121,58,5)"/>
<rect x="305.9" y="1251.6" width="17.3" height="17.3" fill="rgb(111,46,3)"/>
<rect x="322.6" y="1251.6" width="17.3" height="17.3" fill="rgb(106,41,2)"/>
<rect x="339.3" y="1251.6" width="17.3" height="17.3" fill="rgb(108,42,2)"/>
<rect x="356.0" y="1251.6" width="17.3" height="17.3" fill="rgb(112,47,3)"/>
<rect x="372.7" y="1251.6" width="17.3" height="17.3" fill="rgb(115,50,3)"/>
<rect x="389.4" y="1251.6" width="17.3" height="17.3" fill="rgb(114,50,3)"/>
<rect x="406.1" y="1251.6" width="17.3" height="17.3" fill="rgb(112,47,3)"/>
<rect x="422.8" y="1251.6" width="17.3" height="17.3" fill="rgb(109,44,2)"/>
<rect x="439.5" y="1251.6" width="17.3" height="17.3" fill="rgb(107,42,2)"/>
<rect x="456.2" y="1251.6" width="17.3" height="17.3" fill="rgb(108,42,2)"/>
<rect x="472.9" y="1251.6" width="17.3" height="17.3" fill="rgb(110,45,2)"/>
<rect x="489.6" y="1251.6" width="17.3" height="17.3" fill="rgb(115,51,3)"/>
<rect x="506.3" y="1251.6" width="17.3" height="17.3" fill="rgb(121,58,5)"/>
<rect x="523.0" y="1251.6" width="17.3" height="17.3" fill="rgb(124,62,6)"/>
<rect x="539.7" y="1251.6" width="17.3" height="17.3" fill="rgb(122,60,5)"/>
<rect x="556.4" y="1251.6" width="17.3" height="17.3" fill="rgb(117,53,4)"/>
<rect x="573.1" y="1251.6" width="17.3" height="17.3" fill="rgb(111,46,3)"/>
<rect x="589.8" y="1251.6" width="17.3" height="17.3" fill="rgb(108,43,2)"/>
<rect x="606.5" y="1251.6" width="17.3" height="17.3" fill="rgb(109,43,2)"/>
<rect x="623.1" y="1251.6" width="17.3" height="17.3" fill="rgb(112,47,3)"/>
<rect x="639.8" y="1251.6" width="17.3" height="17.3" fill="rgb(116,52,3)"/>
<rect x="656.5" y="1251.6" width="17.3" height="17.3" fill="rgb(120,57,5)"/>
<rect x="673.2" y="1251.6" width="17.3" height="17.3" fill="rgb(125,63,6)"/>
<rect x="689.9" y="1251.6" width="17.3" height="17.3" fill="rgb(129,69,8)"/>
<rect x="706.6" y="1251.6" width="17.3" height="17.3" fill="rgb(134,75,10)"/>
<rect x="723.3" y="1251.6" width="17.3" height="17.3" fill="rgb(137,80,13)"/>
<rect x="740.0" y="1251.6" width="17.3" height="17.3" fill="rgb(139,83,14)"/>
<rect x="756.7" y="1251.6" width="17.3" height="17.3" fill="rgb(140,84,14)"/>
<rect x="773.4" y="1251.6" width="17.3" height="17.3" fill="rgb(140,84,14)"/>
<rect x="790.1" y="1251.6" width="17.3" height="17.3" fill="rgb(139,83,14)"/>
<rect x="105.6" y="1268.4" width="17.3" height="17.3" fill="rgb(139,83,14)"/>
<rect x="122.3" y="1268.4" width="17.3" height="17.3" fill="rgb(140,83,14)"/>
<rect x="139.0" y="1268.4" width="17.3" height="17.3" fill="rgb(140,84,14)"/>
<rect x="155.7" y="1268.4" width="17.3" height="17.3" fill="rgb(139,83,14)"/>
<rect x="172.4" y="1268.4" width="17.3" height="17.3" fill="rgb(139,83,14)"/>
<rect x="189.1" y="1268.4" width="17.3" height="17.3" fill="rgb(139,83,14)"/>
<rect x="205.8" y="1268.4" width="17.3" height="17.3" fill="rgb(139,83,14)"/>
<rect x="222.5" y="1268.4" width="17.3" height="17.3" fill="rgb(139,82,13)"/>
<rect x="239.2" y="1268.4" width="17.3" height="17.3" fill="rgb(137,80,13)"/>
<rect x="255.9" y="1268.4" width="17.3" height="17.3" fill="rgb(133,75,10)"/>
<rect x="272.6" y="1268.4" width="17.3" height="17.3" fill="rgb(125,63,6)"/>
<rect x="289.3" y="1268.4" width="17.3" height="17.3" fill="rgb(114,49,3)"/>
<rect x="305.9" y="1268.4" width="17.3" height="17.3" fill="rgb(103,37,1)"/>
<rect x="322.6" y="1268.4" width="17.3" height="17.3" fill="rgb(97,30,1)"/>
<rect x="339.3" y="1268.4" width="17.3" height="17.3" fill="rgb(96,30,1)"/>
<rect x="356.0" y="1268.4" width="17.3" height="17.3" fill="rgb(99,33,1)"/>
<rect x="372.7" y="1268.4" width="17.3" height="17.3" fill="rgb(105,39,2)"/>
<rect x="389.4" y="1268.4" width="17.3" height="17.3" fill="rgb(110,45,2)"/>
<rect x="406.1" y="1268.4" width="17.3" height="17.3" fill="rgb(115,51,3)"/>
<rect x="422.8" y="1268.4" width="17.3" height="17.3" fill="rgb(118,54,4)"/>
<rect x="439.5" y="1268.4" width="17.3" height="17.3" fill="rgb(118,55,4)"/>
<rect x="456.2" y="1268.4" width="17.3" height="17.3" fill="rgb(118,54,4)"/>
<rect x="472.9" y="1268.4" width="17.3" height="17.3" fill="rgb(120,58,5)"/>
<rect x="489.6" y="1268.4" width="17.3" height="17.3" fill="rgb(127,66,7)"/>
<rect x="506.3" y="1268.4" width="17.3" height="17.3" fill="rgb(135,77,11)"/>
<rect x="523.0" y="1268.4" width="17.3" height="17.3" fill="rgb(139,83,14)"/>
<rect x="539.7" y="1268.4" width="17.3" height="17.3" fill="rgb(136,79,12)"/>
<rect x="556.4" y="1268.4" width="17.3" height="17.3" fill="rgb(128,67,7)"/>
<rect x="573.1" y="1268.4" width="17.3" height="17.3" fill="rgb(119,55,4)"/>
<rect x="589.8" y="1268.4" width="17.3" height="17.3" fill="rgb(114,49,3)"/>
<rect x="606.5" y="1268.4" width="17.3" height="17.3" fill="rgb(113,49,3)"/>
<rect x="623.1" y="1268.4" width="17.3" height="17.3" fill="rgb(115,51,3)"/>
<rect x="639.8" y="1268.4" width="17.3" height="17.3" fill="rgb(117,53,4)"/>
<rect x="656.5" y="1268.4" width="17.3" height="17.3" fill="rgb(118,54,4)"/>
<rect x="673.2" y="1268.4" width="17.3" height="17.3" fill="rgb(119,55,4)"/>
<rect x="689.9" y="1268.4" width="17.3" height="17.3" fill="rgb(120,57,5)"/>
<rect x="706.6" y="1268.4" width="17.3" height="17.3" fill="rgb(122,59,5)"/>
<rect x="723.3" y="1268.4" width="17.3" height="17.3" fill="rgb(123,61,6)"/>
<rect x="740.0" y="1268.4" width="17.3" height="17.3" fill="rgb(125,63,6)"/>
<rect x="756.7" y="1268.4" width="17.3" height="17.3" fill="rgb(125,64,6)"/>
<rect x="773.4" y="1268.4" width="17.3" height="17.3" fill="rgb(125,63,6)"/>
<rect x="790.1" y="1268.4" width="17.3" height="17.3" fill="rgb(125,63,6)"/>
<rect x="105.6" y="1285.1" width="17.3" height="17.3" fill="rgb(151,100,24)"/>
<rect x="122.3" y="1285.1" width="17.3" height="17.3" fill="rgb(152,101,25)"/>
<rect x="139.0" y="1285.1" width="17.3" height="17.3" fill="rgb(152,101,25)"/>
<rect x="155.7" y="1285.1" width="17.3" height="17.3" fill="rgb(152,101,25)"/>
<rect x="172.4" y="1285.1" width="17.3" height="17.3" fill="rgb(149,97,22)"/>
<rect x="189.1" y="1285.1" width="17.3" height="17.3" fill="rgb(144,90,18)"/>
<rect x="205.8" y="1285.1" width="17.3" height="17.3" fill="rgb(140,84,14)"/>
<rect x="222.5" y="1285.1" width="17.3" height="17.3" fill="rgb(136,78,11)"/>
<rect x="239.2" y="1285.1" width="17.3" height="17.3" fill="rgb(132,73,9)"/>
<rect x="255.9" y="1285.1" width="17.3" height="17.3" fill="rgb(126,65,7)"/>
<rect x="272.6" y="1285.1" width="17.3" height="17.3" fill="rgb(119,55,4)"/>
<rect x="289.3" y="1285.1" width="17.3" height="17.3" fill="rgb(108,43,2)"/>
<rect x="305.9" y="1285.1" width="17.3" height="17.3" fill="rgb(98,32,1)"/>
<rect x="322.6" y="1285.1" width="17.3" height="17.3" fill="rgb(90,25,0)"/>
<rect x="339.3" y="1285.1" width="17.3" height="17.3" fill="rgb(86,22,0)"/>
<rect x="356.0" y="1285.1" width="17.3" height="17.3" fill="rgb(88,22,0)"/>
<rect x="372.7" y="1285.1" width="17.3" height="17.3" fill="rgb(94,28,1)"/>
<rect x="389.4" y="1285.1" width="17.3" height="17.3" fill="rgb(106,40,2)"/>
<rect x="406.1" y="1285.1" width="17.3" height="17.3" fill="rgb(118,54,4)"/>
<rect x="422.8" y="1285.1" width="17.3" height="17.3" fill="rgb(126,65,7)"/>
<rect x="439.5" y="1285.1" width="17.3" height="17.3" fill="rgb(127,67,7)"/>
<rect x="456.2" y="1285.1" width="17.3" height="17.3" fill="rgb(127,66,7)"/>
<rect x="472.9" y="1285.1" width="17.3" height="17.3" fill="rgb(129,68,8)"/>
<rect x="489.6" y="1285.1" width="17.3" height="17.3" fill="rgb(136,79,12)"/>
<rect x="506.3" y="1285.1" width="17.3" height="17.3" fill="rgb(146,93,20)"/>
<rect x="523.0" y="1285.1" width="17.3" height="17.3" fill="rgb(152,101,25)"/>
<rect x="539.7" y="1285.1" width="17.3" height="17.3" fill="rgb(148,96,21)"/>
<rect x="556.4" y="1285.1" width="17.3" height="17.3" fill="rgb(137,80,12)"/>
<rect x="573.1" y="1285.1" width="17.3" height="17.3" fill="rgb(125,64,6)"/>
<rect x="589.8" y="1285.1" width="17.3" height="17.3" fill="rgb(118,54,4)"/>
<rect x="606.5" y="1285.1" width="17.3" height="17.3" fill="rgb(116,52,4)"/>
<rect x="623.1" y="1285.1" width="17.3" height="17.3" fill="rgb(117,53,4)"/>
<rect x="639.8" y="1285.1" width="17.3" height="17.3" fill="rgb(117,54,4)"/>
<rect x="656.5" y="1285.1" width="17.3" height="17.3" fill="rgb(116,52,4)"/>
<rect x="673.2" y="1285.1" width="17.3" height="17.3" fill="rgb(114,49,3)"/>
<rect x="689.9" y="1285.1" width="17.3" height="17.3" fill="rgb(112,47,3)"/>
<rect x="706.6" y="1285.1" width="17.3" height="17.3" fill="rgb(112,47,3)"/>
<rect x="723.3" y="1285.1" width="17.3" height="17.3" fill="rgb(112,46,3)"/>
<rect x="740.0" y="1285.1" width="17.3" height="17.3" fill="rgb(112,47,3)"/>
<rect x="756.7" y="1285.1" width="17.3" height="17.3" fill="rgb(112,47,3)"/>
<rect x="773.4" y="1285.1" width="17.3" height="17.3" fill="rgb(112,47,3)"/>
<rect x="790.1" y="1285.1" width="17.3" height="17.3" fill="rgb(112,47,3)"/>
<rect x="105.6" y="1301.8" width="17.3" height="17.3" fill="rgb(156,107,30)"/>
<rect x="122.3" y="1301.8" width="17.3" height="17.3" fill="rgb(157,108,30)"/>
<rect x="139.0" y="1301.8" width="17.3" height="17.3" fill="rgb(157,109,31)"/>
<rect x="155.7" y="1301.8" width="17.3" height="17.3" fill="rgb(156,107,30)"/>
<rect x="172.4" y="1301.8" width="17.3" height="17.3" fill="rgb(152,102,26)"/>
<rect x="189.1" y="1301.8" width="17.3" height="17.3" fill="rgb(146,93,19)"/>
<rect x="205.8" y="1301.8" width="17.3" height="17.3" fill="rgb(140,84,14)"/>
<rect x="222.5" y="1301.8" width="17.3" height="17.3" fill="rgb(134,76,11)"/>
<rect x="239.2" y="1301.8" width="17.3" height="17.3" fill="rgb(130,70,8)"/>
<rect x="255.9" y="1301.8" width="17.3" height="17.3" fill="rgb(124,63,6)"/>
<rect x="272.6" y="1301.8" width="17.3" height="17.3" fill="rgb(117,53,4)"/>
<rect x="289.3" y="1301.8" width="17.3" height="17.3" fill="rgb(108,42,2)"/>
<rect x="305.9" y="1301.8" width="17.3" height="17.3" fill="rgb(98,32,1)"/>
<rect x="322.6" y="1301.8" width="17.3" height="17.3" fill="rgb(89,24,0)"/>
<rect x="339.3" y="1301.8" width="17.3" height="17.3" fill="rgb(83,19,0)"/>
<rect x="356.0" y="1301.8" width="17.3" height="17.3" fill="rgb(83,19,0)"/>
<rect x="372.7" y="1301.8" width="17.3" height="17.3" fill="rgb(89,24,0)"/>
<rect x="389.4" y="1301.8" width="17.3" height="17.3" fill="rgb(102,36,1)"/>
<rect x="406.1" y="1301.8" width="17.3" height="17.3" fill="rgb(117,54,4)"/>
<rect x="422.8" y="1301.8" width="17.3" height="17.3" fill="rgb(127,67,7)"/>
<rect x="439.5" y="1301.8" width="17.3" height="17.3" fill="rgb(130,70,8)"/>
<rect x="456.2" y="1301.8" width="17.3" height="17.3" fill="rgb(129,69,8)"/>
<rect x="472.9" y="1301.8" width="17.3" height="17.3" fill="rgb(130,70,8)"/>
<rect x="489.6" y="1301.8" width="17.3" height="17.3" fill="rgb(138,81,13)"/>
<rect x="506.3" y="1301.8" width="17.3" height="17.3" fill="rgb(148,96,21)"/>
<rect x="523.0" y="1301.8" width="17.3" height="17.3" fill="rgb(155,105,28)"/>
<rect x="539.7" y="1301.8" width="17.3" height="17.3" fill="rgb(151,100,24)"/>
<rect x="556.4" y="1301.8" width="17.3" height="17.3" fill="rgb(140,85,15)"/>
<rect x="573.1" y="1301.8" width="17.3" height="17.3" fill="rgb(128,68,8)"/>
<rect x="589.8" y="1301.8" width="17.3" height="17.3" fill="rgb(120,58,5)"/>
<rect x="606.5" y="1301.8" width="17.3" height="17.3" fill="rgb(118,54,4)"/>
<rect x="623.1" y="1301.8" width="17.3" height="17.3" fill="rgb(118,55,4)"/>
<rect x="639.8" y="1301.8" width="17.3" height="17.3" fill="rgb(118,55,4)"/>
<rect x="656.5" y="1301.8" width="17.3" height="17.3" fill="rgb(117,54,4)"/>
<rect x="673.2" y="1301.8" width="17.3" height="17.3" fill="rgb(116,51,3)"/>
<rect x="689.9" y="1301.8" width="17.3" height="17.3" fill="rgb(113,48,3)"/>
<rect x="706.6" y="1301.8" width="17.3" height="17.3" fill="rgb(110,45,2)"/>
<rect x="723.3" y="1301.8" width="17.3" height="17.3" fill="rgb(107,41,2)"/>
<rect x="740.0" y="1301.8" width="17.3" height="17.3" fill="rgb(106,40,2)"/>
<rect x="756.7" y="1301.8" width="17.3" height="17.3" fill="rgb(105,39,2)"/>
<rect x="773.4" y="1301.8" width="17.3" height="17.3" fill="rgb(105,39,2)"/>
<rect x="790.1" y="1301.8" width="17.3" height="17.3" fill="rgb(106,40,2)"/>
<rect x="105.6" y="1318.5" width="17.3" height="17.3" fill="rgb(152,101,25)"/>
<rect x="122.3" y="1318.5" width="17.3" height="17.3" fill="rgb(152,102,26)"/>
<rect x="139.0" y="1318.5" width="17.3" height="17.3" fill="rgb(153,102,26)"/>
<rect x="155.7" y="1318.5" width="17.3" height="17.3" fill="rgb(152,101,25)"/>
<rect x="172.4" y="1318.5" width="17.3" height="17.3" fill="rgb(149,97,22)"/>
<rect x="189.1" y="1318.5" width="17.3" height="17.3" fill="rgb(144,90,18)"/>
<rect x="205.8" y="1318.5" width="17.3" height="17.3" fill="rgb(139,83,14)"/>
<rect x="222.5" y="1318.5" width="17.3" height="17.3" fill="rgb(135,78,11)"/>
<rect x="239.2" y="1318.5" width="17.3" height="17.3" fill="rgb(132,74,10)"/>
<rect x="255.9" y="1318.5" width="17.3" height="17.3" fill="rgb(128,68,8)"/>
<rect x="272.6" y="1318.5" width="17.3" height="17.3" fill="rgb(122,59,5)"/>
<rect x="289.3" y="1318.5" width="17.3" height="17.3" fill="rgb(112,47,3)"/>
<rect x="305.9" y="1318.5" width="17.3" height="17.3" fill="rgb(102,36,1)"/>
<rect x="322.6" y="1318.5" width="17.3" height="17.3" fill="rgb(93,27,1)"/>
<rect x="339.3" y="1318.5" width="17.3" height="17.3" fill="rgb(88,22,0)"/>
<rect x="356.0" y="1318.5" width="17.3" height="17.3" fill="rgb(86,22,0)"/>
<rect x="372.7" y="1318.5" width="17.3" height="17.3" fill="rgb(91,26,0)"/>
<rect x="389.4" y="1318.5" width="17.3" height="17.3" fill="rgb(102,36,1)"/>
<rect x="406.1" y="1318.5" width="17.3" height="17.3" fill="rgb(114,49,3)"/>
<rect x="422.8" y="1318.5" width="17.3" height="17.3" fill="rgb(122,59,5)"/>
<rect x="439.5" y="1318.5" width="17.3" height="17.3" fill="rgb(123,61,6)"/>
<rect x="456.2" y="1318.5" width="17.3" height="17.3" fill="rgb(122,60,5)"/>
<rect x="472.9" y="1318.5" width="17.3" height="17.3" fill="rgb(123,61,6)"/>
<rect x="489.6" y="1318.5" width="17.3" height="17.3" fill="rgb(130,70,8)"/>
<rect x="506.3" y="1318.5" width="17.3" height="17.3" fill="rgb(139,82,13)"/>
<rect x="523.0" y="1318.5" width="17.3" height="17.3" fill="rgb(145,91,18)"/>
<rect x="539.7" y="1318.5" width="17.3" height="17.3" fill="rgb(144,89,17)"/>
<rect x="556.4" y="1318.5" width="17.3" height="17.3" fill="rgb(137,80,12)"/>
<rect x="573.1" y="1318.5" width="17.3" height="17.3" fill="rgb(128,68,8)"/>
<rect x="589.8" y="1318.5" width="17.3" height="17.3" fill="rgb(122,59,5)"/>
<rect x="606.5" y="1318.5" width="17.3" height="17.3" fill="rgb(119,56,4)"/>
<rect x="623.1" y="1318.5" width="17.3" height="17.3" fill="rgb(119,55,4)"/>
<rect x="639.8" y="1318.5" width="17.3" height="17.3" fill="rgb(120,58,5)"/>
<rect x="656.5" y="1318.5" width="17.3" height="17.3" fill="rgb(123,61,6)"/>
<rect x="673.2" y="1318.5" width="17.3" height="17.3" fill="rgb(124,63,6)"/>
<rect x="689.9" y="1318.5" width="17.3" height="17.3" fill="rgb(123,60,5)"/>
<rect x="706.6" y="1318.5" width="17.3" height="17.3" fill="rgb(118,54,4)"/>
<rect x="723.3" y="1318.5" width="17.3" height="17.3" fill="rgb(112,47,3)"/>
<rect x="740.0" y="1318.5" width="17.3" height="17.3" fill="rgb(108,43,2)"/>
<rect x="756.7" y="1318.5" width="17.3" height="17.3" fill="rgb(107,42,2)"/>
<rect x="773.4" y="1318.5" width="17.3" height="17.3" fill="rgb(108,42,2)"/>
<rect x="790.1" y="1318.5" width="17.3" height="17.3" fill="rgb(109,43,2)"/>
<rect x="105.6" y="1335.3" width="17.3" height="17.3" fill="rgb(144,89,17)"/>
<rect x="122.3" y="1335.3" width="17.3" height="17.3" fill="rgb(144,90,18)"/>
<rect x="139.0" y="1335.3" width="17.3" height="17.3" fill="rgb(144,90,18)"/>
<rect x="155.7" y="1335.3" width="17.3" height="17.3" fill="rgb(144,90,17)"/>
<rect x="172.4" y="1335.3" width="17.3" height="17.3" fill="rgb(142,87,16)"/>
<rect x="189.1" y="1335.3" width="17.3" height="17.3" fill="rgb(140,84,14)"/>
<rect x="205.8" y="1335.3" width="17.3" height="17.3" fill="rgb(138,82,13)"/>
<rect x="222.5" y="1335.3" width="17.3" height="17.3" fill="rgb(138,81,13)"/>
<rect x="239.2" y="1335.3" width="17.3" height="17.3" fill="rgb(137,81,13)"/>
<rect x="255.9" y="1335.3" width="17.3" height="17.3" fill="rgb(135,78,11)"/>
<rect x="272.6" y="1335.3" width="17.3" height="17.3" fill="rgb(129,69,8)"/>
<rect x="289.3" y="1335.3" width="17.3" height="17.3" fill="rgb(119,56,4)"/>
<rect x="305.9" y="1335.3" width="17.3" height="17.3" fill="rgb(108,43,2)"/>
<rect x="322.6" y="1335.3" width="17.3" height="17.3" fill="rgb(100,33,1)"/>
<rect x="339.3" y="1335.3" width="17.3" height="17.3" fill="rgb(95,29,1)"/>
<rect x="356.0" y="1335.3" width="17.3" height="17.3" fill="rgb(94,28,1)"/>
<rect x="372.7" y="1335.3" width="17.3" height="17.3" fill="rgb(97,31,1)"/>
<rect x="389.4" y="1335.3" width="17.3" height="17.3" fill="rgb(103,36,1)"/>
<rect x="406.1" y="1335.3" width="17.3" height="17.3" fill="rgb(109,43,2)"/>
<rect x="422.8" y="1335.3" width="17.3" height="17.3" fill="rgb(113,48,3)"/>
<rect x="439.5" y="1335.3" width="17.3" height="17.3" fill="rgb(113,48,3)"/>
<rect x="456.2" y="1335.3" width="17.3" height="17.3" fill="rgb(112,47,3)"/>
<rect x="472.9" y="1335.3" width="17.3" height="17.3" fill="rgb(113,48,3)"/>
<rect x="489.6" y="1335.3" width="17.3" height="17.3" fill="rgb(118,54,4)"/>
<rect x="506.3" y="1335.3" width="17.3" height="17.3" fill="rgb(124,63,6)"/>
<rect x="523.0" y="1335.3" width="17.3" height="17.3" fill="rgb(130,70,8)"/>
<rect x="539.7" y="1335.3" width="17.3" height="17.3" fill="rgb(132,73,9)"/>
<rect x="556.4" y="1335.3" width="17.3" height="17.3" fill="rgb(130,70,8)"/>
<rect x="573.1" y="1335.3" width="17.3" height="17.3" fill="rgb(126,65,7)"/>
<rect x="589.8" y="1335.3" width="17.3" height="17.3" fill="rgb(122,60,5)"/>
<rect x="606.5" y="1335.3" width="17.3" height="17.3" fill="rgb(119,56,4)"/>
<rect x="623.1" y="1335.3" width="17.3" height="17.3" fill="rgb(119,56,4)"/>
<rect x="639.8" y="1335.3" width="17.3" height="17.3" fill="rgb(123,61,6)"/>
<rect x="656.5" y="1335.3" width="17.3" height="17.3" fill="rgb(130,70,8)"/>
<rect x="673.2" y="1335.3" width="17.3" height="17.3" fill="rgb(135,78,11)"/>
<rect x="689.9" y="1335.3" width="17.3" height="17.3" fill="rgb(136,78,12)"/>
<rect x="706.6" y="1335.3" width="17.3" height="17.3" fill="rgb(130,70,8)"/>
<rect x="723.3" y="1335.3" width="17.3" height="17.3" fill="rgb(121,59,5)"/>
<rect x="740.0" y="1335.3" width="17.3" height="17.3" fill="rgb(115,51,3)"/>
<rect x="756.7" y="1335.3" width="17.3" height="17.3" fill="rgb(114,49,3)"/>
<rect x="773.4" y="1335.3" width="17.3" height="17.3" fill="rgb(115,50,3)"/>
<rect x="790.1" y="1335.3" width="17.3" height="17.3" fill="rgb(116,52,3)"/>
<rect x="105.6" y="1352.0" width="17.3" height="17.3" fill="rgb(137,80,13)"/>
<rect x="122.3" y="1352.0" width="17.3" height="17.3" fill="rgb(137,80,13)"/>
<rect x="139.0" y="1352.0" width="17.3" height="17.3" fill="rgb(137,81,13)"/>
<rect x="155.7" y="1352.0" width="17.3" height="17.3" fill="rgb(137,80,13)"/>
<rect x="172.4" y="1352.0" width="17.3" height="17.3" fill="rgb(137,80,12)"/>
<rect x="189.1" y="1352.0" width="17.3" height="17.3" fill="rgb(137,80,12)"/>
<rect x="205.8" y="1352.0" width="17.3" height="17.3" fill="rgb(137,81,13)"/>
<rect x="222.5" y="1352.0" width="17.3" height="17.3" fill="rgb(139,83,14)"/>
<rect x="239.2" y="1352.0" width="17.3" height="17.3" fill="rgb(141,86,15)"/>
<rect x="255.9" y="1352.0" width="17.3" height="17.3" fill="rgb(141,85,15)"/>
<rect x="272.6" y="1352.0" width="17.3" height="17.3" fill="rgb(134,76,11)"/>
<rect x="289.3" y="1352.0" width="17.3" height="17.3" fill="rgb(124,62,6)"/>
<rect x="305.9" y="1352.0" width="17.3" height="17.3" fill="rgb(113,48,3)"/>
<rect x="322.6" y="1352.0" width="17.3" height="17.3" fill="rgb(104,38,1)"/>
<rect x="339.3" y="1352.0" width="17.3" height="17.3" fill="rgb(101,34,1)"/>
<rect x="356.0" y="1352.0" width="17.3" height="17.3" fill="rgb(100,34,1)"/>
<rect x="372.7" y="1352.0" width="17.3" height="17.3" fill="rgb(102,35,1)"/>
<rect x="389.4" y="1352.0" width="17.3" height="17.3" fill="rgb(103,37,1)"/>
<rect x="406.1" y="1352.0" width="17.3" height="17.3" fill="rgb(105,39,2)"/>
<rect x="422.8" y="1352.0" width="17.3" height="17.3" fill="rgb(106,40,2)"/>
<rect x="439.5" y="1352.0" width="17.3" height="17.3" fill="rgb(105,39,2)"/>
<rect x="456.2" y="1352.0" width="17.3" height="17.3" fill="rgb(105,39,2)"/>
<rect x="472.9" y="1352.0" width="17.3" height="17.3" fill="rgb(105,40,2)"/>
<rect x="489.6" y="1352.0" width="17.3" height="17.3" fill="rgb(109,43,2)"/>
<rect x="506.3" y="1352.0" width="17.3" height="17.3" fill="rgb(114,49,3)"/>
<rect x="523.0" y="1352.0" width="17.3" height="17.3" fill="rgb(119,55,4)"/>
<rect x="539.7" y="1352.0" width="17.3" height="17.3" fill="rgb(123,60,5)"/>
<rect x="556.4" y="1352.0" width="17.3" height="17.3" fill="rgb(125,63,6)"/>
<rect x="573.1" y="1352.0" width="17.3" height="17.3" fill="rgb(124,63,6)"/>
<rect x="589.8" y="1352.0" width="17.3" height="17.3" fill="rgb(122,60,5)"/>
<rect x="606.5" y="1352.0" width="17.3" height="17.3" fill="rgb(119,56,4)"/>
<rect x="623.1" y="1352.0" width="17.3" height="17.3" fill="rgb(119,56,4)"/>
<rect x="639.8" y="1352.0" width="17.3" height="17.3" fill="rgb(124,63,6)"/>
<rect x="656.5" y="1352.0" width="17.3" height="17.3" fill="rgb(134,77,11)"/>
<rect x="673.2" y="1352.0" width="17.3" height="17.3" fill="rgb(143,89,17)"/>
<rect x="689.9" y="1352.0" width="17.3" height="17.3" fill="rgb(145,92,19)"/>
<rect x="706.6" y="1352.0" width="17.3" height="17.3" fill="rgb(139,82,14)"/>
<rect x="723.3" y="1352.0" width="17.3" height="17.3" fill="rgb(129,68,8)"/>
<rect x="740.0" y="1352.0" width="17.3" height="17.3" fill="rgb(121,58,5)"/>
<rect x="756.7" y="1352.0" width="17.3" height="17.3" fill="rgb(119,56,4)"/>
<rect x="773.4" y="1352.0" width="17.3" height="17.3" fill="rgb(120,57,5)"/>
<rect x="790.1" y="1352.0" width="17.3" height="17.3" fill="rgb(122,59,5)"/>
<rect x="105.6" y="1368.7" width="17.3" height="17.3" fill="rgb(136,78,12)"/>
<rect x="122.3" y="1368.7" width="17.3" height="17.3" fill="rgb(136,78,12)"/>
<rect x="139.0" y="1368.7" width="17.3" height="17.3" fill="rgb(136,78,12)"/>
<rect x="155.7" y="1368.7" width="17.3" height="17.3" fill="rgb(136,78,12)"/>
<rect x="172.4" y="1368.7" width="17.3" height="17.3" fill="rgb(136,78,12)"/>
<rect x="189.1" y="1368.7" width="17.3" height="17.3" fill="rgb(136,79,12)"/>
<rect x="205.8" y="1368.7" width="17.3" height="17.3" fill="rgb(137,80,13)"/>
<rect x="222.5" y="1368.7" width="17.3" height="17.3" fill="rgb(140,84,14)"/>
<rect x="239.2" y="1368.7" width="17.3" height="17.3" fill="rgb(142,88,16)"/>
<rect x="255.9" y="1368.7" width="17.3" height="17.3" fill="rgb(142,87,16)"/>
<rect x="272.6" y="1368.7" width="17.3" height="17.3" fill="rgb(136,78,12)"/>
<rect x="289.3" y="1368.7" width="17.3" height="17.3" fill="rgb(125,64,6)"/>
<rect x="305.9" y="1368.7" width="17.3" height="17.3" fill="rgb(114,49,3)"/>
<rect x="322.6" y="1368.7" width="17.3" height="17.3" fill="rgb(105,39,2)"/>
<rect x="339.3" y="1368.7" width="17.3" height="17.3" fill="rgb(102,36,1)"/>
<rect x="356.0" y="1368.7" width="17.3" height="17.3" fill="rgb(102,35,1)"/>
<rect x="372.7" y="1368.7" width="17.3" height="17.3" fill="rgb(103,37,1)"/>
<rect x="389.4" y="1368.7" width="17.3" height="17.3" fill="rgb(104,38,1)"/>
<rect x="406.1" y="1368.7" width="17.3" height="17.3" fill="rgb(104,38,1)"/>
<rect x="422.8" y="1368.7" width="17.3" height="17.3" fill="rgb(104,38,1)"/>
<rect x="439.5" y="1368.7" width="17.3" height="17.3" fill="rgb(103,37,1)"/>
<rect x="456.2" y="1368.7" width="17.3" height="17.3" fill="rgb(103,37,1)"/>
<rect x="472.9" y="1368.7" width="17.3" height="17.3" fill="rgb(104,38,1)"/>
<rect x="489.6" y="1368.7" width="17.3" height="17.3" fill="rgb(107,41,2)"/>
<rect x="506.3" y="1368.7" width="17.3" height="17.3" fill="rgb(111,46,3)"/>
<rect x="523.0" y="1368.7" width="17.3" height="17.3" fill="rgb(116,52,4)"/>
<rect x="539.7" y="1368.7" width="17.3" height="17.3" fill="rgb(120,58,5)"/>
<rect x="556.4" y="1368.7" width="17.3" height="17.3" fill="rgb(123,61,6)"/>
<rect x="573.1" y="1368.7" width="17.3" height="17.3" fill="rgb(124,62,6)"/>
<rect x="589.8" y="1368.7" width="17.3" height="17.3" fill="rgb(122,60,5)"/>
<rect x="606.5" y="1368.7" width="17.3" height="17.3" fill="rgb(119,56,4)"/>
<rect x="623.1" y="1368.7" width="17.3" height="17.3" fill="rgb(119,56,4)"/>
<rect x="639.8" y="1368.7" width="17.3" height="17.3" fill="rgb(125,63,6)"/>
<rect x="656.5" y="1368.7" width="17.3" height="17.3" fill="rgb(136,78,12)"/>
<rect x="673.2" y="1368.7" width="17.3" height="17.3" fill="rgb(145,92,19)"/>
<rect x="689.9" y="1368.7" width="17.3" height="17.3" fill="rgb(148,95,21)"/>
<rect x="706.6" y="1368.7" width="17.3" height="17.3" fill="rgb(141,86,15)"/>
<rect x="723.3" y="1368.7" width="17.3" height="17.3" fill="rgb(130,71,9)"/>
<rect x="740.0" y="1368.7" width="17.3" height="17.3" fill="rgb(122,60,5)"/>
<rect x="756.7" y="1368.7" width="17.3" height="17.3" fill="rgb(120,57,5)"/>
<rect x="773.4" y="1368.7" width="17.3" height="17.3" fill="rgb(122,59,5)"/>
<rect x="790.1" y="1368.7" width="17.3" height="17.3" fill="rgb(123,61,6)"/>
<rect x="105.6" y="1385.4" width="17.3" height="17.3" fill="rgb(137,80,12)"/>
<rect x="122.3" y="1385.4" width="17.3" height="17.3" fill="rgb(137,80,12)"/>
<rect x="139.0" y="1385.4" width="17.3" height="17.3" fill="rgb(137,80,12)"/>
<rect x="155.7" y="1385.4" width="17.3" height="17.3" fill="rgb(137,80,12)"/>
<rect x="172.4" y="1385.4" width="17.3" height="17.3" fill="rgb(137,79,12)"/>
<rect x="189.1" y="1385.4" width="17.3" height="17.3" fill="rgb(137,79,12)"/>
<rect x="205.8" y="1385.4" width="17.3" height="17.3" fill="rgb(137,81,13)"/>
<rect x="222.5" y="1385.4" width="17.3" height="17.3" fill="rgb(140,84,14)"/>
<rect x="239.2" y="1385.4" width="17.3" height="17.3" fill="rgb(142,86,16)"/>
<rect x="255.9" y="1385.4" width="17.3" height="17.3" fill="rgb(141,85,15)"/>
<rect x="272.6" y="1385.4" width="17.3" height="17.3" fill="rgb(135,77,11)"/>
<rect x="289.3" y="1385.4" width="17.3" height="17.3" fill="rgb(124,63,6)"/>
<rect x="305.9" y="1385.4" width="17.3" height="17.3" fill="rgb(113,48,3)"/>
<rect x="322.6" y="1385.4" width="17.3" height="17.3" fill="rgb(105,39,2)"/>
<rect x="339.3" y="1385.4" width="17.3" height="17.3" fill="rgb(101,35,1)"/>
<rect x="356.0" y="1385.4" width="17.3" height="17.3" fill="rgb(100,34,1)"/>
<rect x="372.7" y="1385.4" width="17.3" height="17.3" fill="rgb(102,36,1)"/>
<rect x="389.4" y="1385.4" width="17.3" height="17.3" fill="rgb(103,37,1)"/>
<rect x="406.1" y="1385.4" width="17.3" height="17.3" fill="rgb(105,39,2)"/>
<rect x="422.8" y="1385.4" width="17.3" height="17.3" fill="rgb(105,39,2)"/>
<rect x="439.5" y="1385.4" width="17.3" height="17.3" fill="rgb(105,39,2)"/>
<rect x="456.2" y="1385.4" width="17.3" height="17.3" fill="rgb(104,38,1)"/>
<rect x="472.9" y="1385.4" width="17.3" height="17.3" fill="rgb(105,39,2)"/>
<rect x="489.6" y="1385.4" width="17.3" height="17.3" fill="rgb(108,43,2)"/>
<rect x="506.3" y="1385.4" width="17.3" height="17.3" fill="rgb(113,48,3)"/>
<rect x="523.0" y="1385.4" width="17.3" height="17.3" fill="rgb(118,55,4)"/>
<rect x="539.7" y="1385.4" width="17.3" height="17.3" fill="rgb(122,60,5)"/>
<rect x="556.4" y="1385.4" width="17.3" height="17.3" fill="rgb(124,63,6)"/>
<rect x="573.1" y="1385.4" width="17.3" height="17.3" fill="rgb(124,63,6)"/>
<rect x="589.8" y="1385.4" width="17.3" height="17.3" fill="rgb(122,60,5)"/>
<rect x="606.5" y="1385.4" width="17.3" height="17.3" fill="rgb(119,56,4)"/>
<rect x="623.1" y="1385.4" width="17.3" height="17.3" fill="rgb(119,56,4)"/>
<rect x="639.8" y="1385.4" width="17.3" height="17.3" fill="rgb(125,63,6)"/>
<rect x="656.5" y="1385.4" width="17.3" height="17.3" fill="rgb(135,77,11)"/>
<rect x="673.2" y="1385.4" width="17.3" height="17.3" fill="rgb(144,90,18)"/>
<rect x="689.9" y="1385.4" width="17.3" height="17.3" fill="rgb(146,93,19)"/>
<rect x="706.6" y="1385.4" width="17.3" height="17.3" fill="rgb(139,83,14)"/>
<rect x="723.3" y="1385.4" width="17.3" height="17.3" fill="rgb(129,69,8)"/>
<rect x="740.0" y="1385.4" width="17.3" height="17.3" fill="rgb(121,58,5)"/>
<rect x="756.7" y="1385.4" width="17.3" height="17.3" fill="rgb(119,56,4)"/>
<rect x="773.4" y="1385.4" width="17.3" height="17.3" fill="rgb(121,58,5)"/>
<rect x="790.1" y="1385.4" width="17.3" height="17.3" fill="rgb(122,60,5)"/>
<rect x="105.6" y="1402.1" width="17.3" height="17.3" fill="rgb(138,81,13)"/>
<rect x="122.3" y="1402.1" width="17.3" height="17.3" fill="rgb(138,81,13)"/>
<rect x="139.0" y="1402.1" width="17.3" height="17.3" fill="rgb(138,82,13)"/>
<rect x="155.7" y="1402.1" width="17.3" height="17.3" fill="rgb(138,81,13)"/>
<rect x="172.4" y="1402.1" width="17.3" height="17.3" fill="rgb(137,81,13)"/>
<rect x="189.1" y="1402.1" width="17.3" height="17.3" fill="rgb(137,80,12)"/>
<rect x="205.8" y="1402.1" width="17.3" height="17.3" fill="rgb(138,81,13)"/>
<rect x="222.5" y="1402.1" width="17.3" height="17.3" fill="rgb(139,83,14)"/>
<rect x="239.2" y="1402.1" width="17.3" height="17.3" fill="rgb(141,86,15)"/>
<rect x="255.9" y="1402.1" width="17.3" height="17.3" fill="rgb(140,84,14)"/>
<rect x="272.6" y="1402.1" width="17.3" height="17.3" fill="rgb(134,76,10)"/>
<rect x="289.3" y="1402.1" width="17.3" height="17.3" fill="rgb(123,61,6)"/>
<rect x="305.9" y="1402.1" width="17.3" height="17.3" fill="rgb(112,47,3)"/>
<rect x="322.6" y="1402.1" width="17.3" height="17.3" fill="rgb(104,38,1)"/>
<rect x="339.3" y="1402.1" width="17.3" height="17.3" fill="rgb(100,34,1)"/>
<rect x="356.0" y="1402.1" width="17.3" height="17.3" fill="rgb(99,33,1)"/>
<rect x="372.7" y="1402.1" width="17.3" height="17.3" fill="rgb(101,35,1)"/>
<rect x="389.4" y="1402.1" width="17.3" height="17.3" fill="rgb(103,37,1)"/>
<rect x="406.1" y="1402.1" width="17.3" height="17.3" fill="rgb(105,39,2)"/>
<rect x="422.8" y="1402.1" width="17.3" height="17.3" fill="rgb(106,41,2)"/>
<rect x="439.5" y="1402.1" width="17.3" height="17.3" fill="rgb(106,40,2)"/>
<rect x="456.2" y="1402.1" width="17.3" height="17.3" fill="rgb(105,39,2)"/>
<rect x="472.9" y="1402.1" width="17.3" height="17.3" fill="rgb(106,40,2)"/>
<rect x="489.6" y="1402.1" width="17.3" height="17.3" fill="rgb(110,44,2)"/>
<rect x="506.3" y="1402.1" width="17.3" height="17.3" fill="rgb(115,51,3)"/>
<rect x="523.0" y="1402.1" width="17.3" height="17.3" fill="rgb(120,57,5)"/>
<rect x="539.7" y="1402.1" width="17.3" height="17.3" fill="rgb(124,62,6)"/>
<rect x="556.4" y="1402.1" width="17.3" height="17.3" fill="rgb(125,64,6)"/>
<rect x="573.1" y="1402.1" width="17.3" height="17.3" fill="rgb(125,63,6)"/>
<rect x="589.8" y="1402.1" width="17.3" height="17.3" fill="rgb(122,60,5)"/>
<rect x="606.5" y="1402.1" width="17.3" height="17.3" fill="rgb(119,56,4)"/>
<rect x="623.1" y="1402.1" width="17.3" height="17.3" fill="rgb(119,56,4)"/>
<rect x="639.8" y="1402.1" width="17.3" height="17.3" fill="rgb(124,63,6)"/>
<rect x="656.5" y="1402.1" width="17.3" height="17.3" fill="rgb(134,76,11)"/>
<rect x="673.2" y="1402.1" width="17.3" height="17.3" fill="rgb(143,88,16)"/>
<rect x="689.9" y="1402.1" width="17.3" height="17.3" fill="rgb(144,90,18)"/>
<rect x="706.6" y="1402.1" width="17.3" height="17.3" fill="rgb(138,81,13)"/>
<rect x="723.3" y="1402.1" width="17.3" height="17.3" fill="rgb(128,67,7)"/>
<rect x="740.0" y="1402.1" width="17.3" height="17.3" fill="rgb(120,57,5)"/>
<rect x="756.7" y="1402.1" width="17.3" height="17.3" fill="rgb(118,55,4)"/>
<rect x="773.4" y="1402.1" width="17.3" height="17.3" fill="rgb(120,57,5)"/>
<rect x="790.1" y="1402.1" width="17.3" height="17.3" fill="rgb(121,58,5)"/>
</g></g>
<rect x="156.0" y="767.0" width="66.0" height="43.4" fill="#fff"/>
<defs><linearGradient id="cbg" x1="0" y1="0" x2="0" y2="1"><stop offset="0.000" stop-color="rgb(255,255,255)"/><stop offset="0.035" stop-color="rgb(254,253,248)"/><stop offset="0.067" stop-color="rgb(242,238,220)"/><stop offset="0.138" stop-color="rgb(220,200,160)"/><stop offset="0.208" stop-color="rgb(200,168,104)"/><stop offset="0.279" stop-color="rgb(176,136,48)"/><stop offset="0.350" stop-color="rgb(160,112,0)"/><stop offset="0.420" stop-color="rgb(138,80,0)"/><stop offset="0.490" stop-color="rgb(112,48,0)"/><stop offset="0.541" stop-color="rgb(106,32,0)"/><stop offset="0.600" stop-color="rgb(88,0,0)"/><stop offset="0.665" stop-color="rgb(64,0,0)"/><stop offset="0.740" stop-color="rgb(40,0,0)"/><stop offset="0.814" stop-color="rgb(24,0,0)"/><stop offset="0.888" stop-color="rgb(6,0,0)"/><stop offset="1.000" stop-color="rgb(0,0,0)"/></linearGradient></defs>
<rect x="811.0" y="821.6" width="29.3" height="492.9" rx="1" fill="url(#cbg)" stroke="#3a3a3a" stroke-width="1.2"/>
<path d="M156.0,1398.7 L156.0,1378.6 L757.1,1378.6 L757.1,1398.7" fill="none" stroke="#000" stroke-width="2.0"/>
<text transform="matrix(0.41368 0 0 0.37166 168.18 797.79)" font-size="100" fill="#000" stroke="#fff" stroke-width="1.275">(b)</text><text transform="matrix(0.39114 0 0 0.3401 763.06 815.32)" font-size="100" fill="#000" stroke="#fff" stroke-width="1.371">13.4</text><text transform="matrix(0.40024 0 0 0.30561 845.18 815.8)" font-size="100" fill="#000" stroke="#fff" stroke-width="1.430">nm</text><rect x="767.5" y="1341.6" width="22.5" height="1.8" fill="#000"/><text transform="matrix(0.387 0 0 0.33271 793 1351.2)" font-size="100" fill="#000" stroke="#fff" stroke-width="1.393">13.1</text><text transform="matrix(0.39701 0 0 0.32895 875.09 1351.7)" font-size="100" fill="#000" stroke="#fff" stroke-width="1.384">nm</text><text transform="matrix(0.39167 0 0 0.3438 122.11 1429.9)" font-size="100" fill="#000" stroke="#fff" stroke-width="1.363">0</text><text transform="matrix(0.382 0 0 0.33574 152.9 1430.5)" font-size="100" fill="#000" stroke="#fff" stroke-width="1.396">μm</text><text transform="matrix(0.38478 0 0 0.3476 718.56 1430.1)" font-size="100" fill="#000" stroke="#fff" stroke-width="1.367">5</text><text transform="matrix(0.38282 0 0 0.33574 749.1 1430.5)" font-size="100" fill="#000" stroke="#fff" stroke-width="1.395">μm</text>
</svg></body></html>
